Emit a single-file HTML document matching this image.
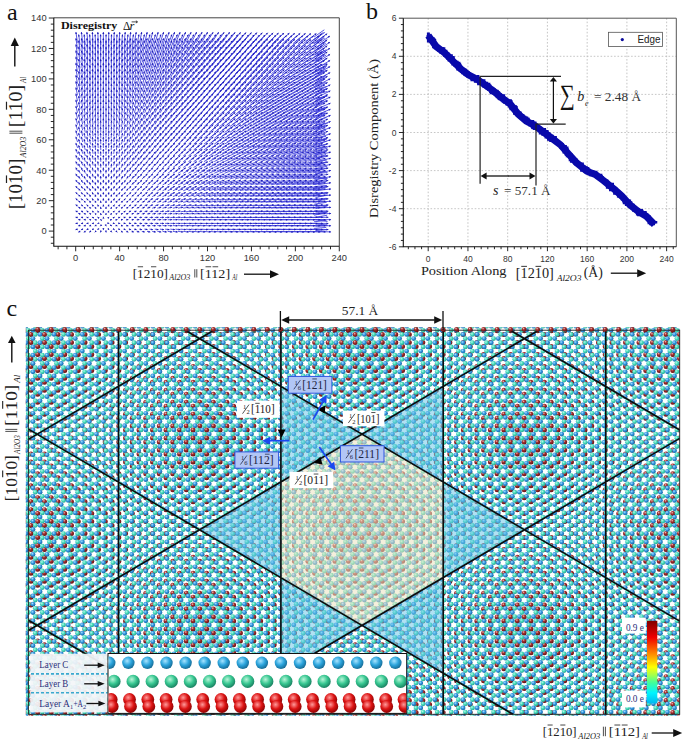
<!DOCTYPE html>
<html><head><meta charset="utf-8"><style>html,body{margin:0;padding:0;background:#fff;}svg{display:block;}</style></head>
<body><svg width="685" height="741" viewBox="0 0 685 741">
<rect width="685" height="741" fill="#fff"/>
<g id="pa">
<path d="M77.89 229.07L75.51 229.73M80.46 231.26L78.27 232.14M77.9 223.34L75.5 223.46M80.49 225.53L78.24 225.87M77.9 217.61L75.5 217.19M80.5 219.81L78.23 219.59M77.87 211.86L75.53 210.94M80.47 214.08L78.26 213.32M77.83 206.1L75.57 204.7M80.43 208.33L78.3 207.07M77.79 200.32L75.61 198.48M80.38 202.55L78.35 200.85M77.75 194.52L75.65 192.28M80.34 196.76L78.39 194.64M77.71 188.7L75.69 186.1M80.3 190.95L78.43 188.45M77.68 182.88L75.72 179.92M80.27 185.13L78.46 182.27M77.65 177.06L75.75 173.74M80.24 179.3L78.49 176.1M77.63 171.23L75.77 167.57M80.22 173.47L78.51 169.93M77.61 165.39L75.79 161.41M80.2 167.64L78.53 163.76M77.6 159.56L75.8 155.24M80.18 161.8L78.55 157.6M77.58 153.72L75.82 149.08M80.17 155.96L78.56 151.44M77.57 147.88L75.83 142.92M80.15 150.13L78.58 145.27M77.56 142.04L75.84 136.76M80.14 144.29L78.59 139.11M77.55 136.2L75.85 130.6M80.13 138.45L78.6 132.95M77.54 130.36L75.86 124.44M80.13 132.61L78.6 126.79M77.53 124.52L75.87 118.28M80.12 126.77L78.61 120.63M77.53 118.68L75.87 112.12M80.11 120.92L78.62 114.48M77.52 112.84L75.88 105.96M80.11 115.08L78.62 108.32M77.52 107L75.88 99.8M80.1 109.24L78.63 102.16M77.51 101.16L75.89 93.64M80.1 103.4L78.63 96M77.51 95.32L75.89 87.48M80.09 97.56L78.64 89.84M77.5 89.48L75.9 81.32M80.09 91.72L78.64 83.68M77.5 83.63L75.9 75.17M80.08 85.88L78.65 77.52M77.49 77.79L75.91 69.01M80.08 80.03L78.65 71.37M77.49 71.95L75.91 62.85M80.08 74.19L78.65 65.21M77.49 66.11L75.91 56.69M80.07 68.35L78.66 59.05M77.48 60.27L75.92 50.53M80.07 62.51L78.66 52.89M77.48 54.42L75.92 44.38M80.07 56.67L78.66 46.73M77.48 48.58L75.92 38.22M80.07 50.82L78.66 40.58M77.48 42.74L75.92 32.06M80.06 44.98L78.67 34.42M83.07 229.04L80.99 229.76M85.63 231.22L83.76 232.18M83.09 223.33L80.97 223.47M85.68 225.51L83.71 225.89M83.08 217.63L80.98 217.17M85.69 219.82L83.7 219.58M83.04 211.9L81.02 210.9M85.65 214.12L83.74 213.28M82.99 206.14L81.07 204.66M85.59 208.38L83.8 207.02M82.94 200.36L81.12 198.44M85.53 202.6L83.86 200.8M82.89 194.55L81.17 192.25M85.48 196.8L83.91 194.6M82.86 188.73L81.2 186.07M85.44 190.98L83.95 188.42M82.83 182.91L81.23 179.89M85.41 185.15L83.98 182.25M82.8 177.08L81.26 173.72M85.38 179.32L84.01 176.08M82.78 171.24L81.28 167.56M85.36 173.49L84.03 169.91M82.77 165.41L81.29 161.39M85.35 167.65L84.04 163.75M82.75 159.57L81.31 155.23M85.33 161.81L84.06 157.59M82.74 153.73L81.32 149.07M85.32 155.97L84.07 151.43M82.73 147.89L81.33 142.91M85.31 150.14L84.08 145.26M82.72 142.05L81.34 136.75M85.3 144.29L84.09 139.11M82.71 136.21L81.35 130.59M85.3 138.45L84.09 132.95M82.7 130.37L81.36 124.43M85.29 132.61L84.1 126.79M82.7 124.53L81.36 118.27M85.28 126.77L84.11 120.63M82.69 118.69L81.37 112.11M85.28 120.93L84.11 114.47M82.69 112.85L81.37 105.95M85.27 115.09L84.12 108.31M82.68 107.01L81.38 99.79M85.27 109.25L84.12 102.15M82.68 101.16L81.38 93.64M85.26 103.4L84.13 96M82.67 95.32L81.39 87.48M85.26 97.56L84.13 89.84M82.67 89.48L81.39 81.32M85.26 91.72L84.13 83.68M82.67 83.64L81.39 75.16M85.26 85.88L84.13 77.52M82.67 77.8L81.39 69M85.25 80.04L84.14 71.36M82.66 71.95L81.4 62.85M85.25 74.19L84.14 65.21M82.66 66.11L81.4 56.69M85.25 68.35L84.14 59.05M82.66 60.27L81.4 50.53M85.25 62.51L84.14 52.89M82.66 54.43L81.4 44.37M85.24 56.67L84.15 46.73M82.65 48.58L81.41 38.22M85.24 50.83L84.15 40.57M82.65 42.74L81.41 32.06M85.24 44.98L84.15 34.42M88.24 229L86.48 229.8M90.79 231.15L89.26 232.25M88.28 223.32L86.44 223.48M90.86 225.47L89.19 225.93M88.27 217.66L86.45 217.14M90.87 219.84L89.18 219.56M88.2 211.95L86.52 210.85M90.81 214.18L89.24 213.22M88.13 206.19L86.59 204.61M90.72 208.44L89.33 206.96M88.08 200.4L86.64 198.4M90.66 202.65L89.39 200.75M88.03 194.59L86.69 192.21M90.61 196.83L89.44 194.57M88 188.76L86.72 186.04M90.57 191.01L89.48 188.39M87.97 182.93L86.75 179.87M90.55 185.18L89.5 182.22M87.95 177.1L86.77 173.7M90.53 179.34L89.52 176.06M87.93 171.26L86.79 167.54M90.51 173.5L89.54 169.9M87.92 165.42L86.8 161.38M90.5 167.66L89.55 163.74M87.91 159.58L86.81 155.22M90.49 161.82L89.56 157.58M87.9 153.74L86.82 149.06M90.48 155.98L89.57 151.42M87.89 147.9L86.83 142.9M90.47 150.14L89.58 145.26M87.88 142.06L86.84 136.74M90.46 144.3L89.59 139.1M87.87 136.22L86.85 130.58M90.46 138.46L89.59 132.94M87.87 130.38L86.85 124.42M90.45 132.62L89.6 126.78M87.86 124.53L86.86 118.27M90.45 126.78L89.6 120.62M87.86 118.69L86.86 112.11M90.44 120.93L89.61 114.47M87.86 112.85L86.86 105.95M90.44 115.09L89.61 108.31M87.85 107.01L86.87 99.79M90.44 109.25L89.61 102.15M87.85 101.17L86.87 93.63M90.44 103.41L89.61 95.99M87.85 95.32L86.87 87.48M90.43 97.57L89.62 89.83M87.84 89.48L86.88 81.32M90.43 91.72L89.62 83.68M87.84 83.64L86.88 75.16M90.43 85.88L89.62 77.52M87.84 77.8L86.88 69M90.43 80.04L89.62 71.36M87.84 71.96L86.88 62.84M90.42 74.2L89.63 65.2M87.83 66.11L86.89 56.69M90.42 68.35L89.63 59.05M87.83 60.27L86.89 50.53M90.42 62.51L89.63 52.89M87.83 54.43L86.89 44.37M90.42 56.67L89.63 46.73M87.83 48.59L86.89 38.21M90.42 50.83L89.63 40.57M87.83 42.74L86.89 32.06M90.42 44.98L89.63 34.42M93.39 228.93L91.99 229.87M95.9 231.07L94.81 232.33M93.47 223.3L91.91 223.5M96.03 225.4L94.68 226M93.44 217.71L91.94 217.09M96.06 219.89L94.65 219.51M93.34 212.03L92.04 210.77M95.93 214.27L94.78 213.13M93.25 206.25L92.13 204.55M95.82 208.51L94.89 206.89M93.19 200.44L92.19 198.36M95.76 202.7L94.95 200.7M93.15 194.62L92.23 192.18M95.72 196.87L94.99 194.53M93.13 188.79L92.25 186.01M95.7 191.03L95.01 188.37M93.11 182.95L92.27 179.85M95.68 185.19L95.03 182.21M93.09 177.11L92.29 173.69M95.67 179.35L95.04 176.05M93.08 171.27L92.3 167.53M95.65 173.51L95.06 169.89M93.07 165.43L92.31 161.37M95.65 167.67L95.06 163.73M93.06 159.59L92.32 155.21M95.64 161.83L95.07 157.57M93.05 153.75L92.33 149.05M95.63 155.99L95.08 151.41M93.05 147.91L92.33 142.89M95.63 150.15L95.08 145.25M93.04 142.06L92.34 136.74M95.62 144.31L95.09 139.09M93.04 136.22L92.34 130.58M95.62 138.46L95.09 132.94M93.03 130.38L92.35 124.42M95.62 132.62L95.09 126.78M93.03 124.54L92.35 118.26M95.62 126.78L95.09 120.62M93.03 118.7L92.35 112.1M95.61 120.94L95.1 114.46M93.02 112.85L92.36 105.95M95.61 115.09L95.1 108.31M93.02 107.01L92.36 99.79M95.61 109.25L95.1 102.15M93.02 101.17L92.36 93.63M95.61 103.41L95.1 95.99M93.02 95.33L92.36 87.47M95.61 97.57L95.1 89.83M93.02 89.48L92.36 81.32M95.6 91.72L95.11 83.68M93.01 83.64L92.37 75.16M95.6 85.88L95.11 77.52M93.01 77.8L92.37 69M95.6 80.04L95.11 71.36M93.01 71.96L92.37 62.84M95.6 74.2L95.11 65.2M93.01 66.11L92.37 56.69M95.6 68.35L95.11 59.05M93.01 60.27L92.37 50.53M95.6 62.51L95.11 52.89M93.01 54.43L92.37 44.37M95.6 56.67L95.11 46.73M93.01 48.59L92.37 38.21M95.6 50.83L95.11 40.57M93.01 42.74L92.37 32.06M95.6 44.98L95.11 34.42M98.48 228.81L97.56 229.99M100.92 230.97L100.45 232.43M98.66 223.24L97.38 223.56M101.09 225.22L100.28 226.18M98.56 217.83L97.48 216.97M101.17 220.05L100.2 219.35M98.41 212.12L97.63 210.68M100.95 214.38L100.42 213.02M98.33 206.31L97.71 204.49M100.88 208.56L100.49 206.84M98.29 200.48L97.75 198.32M100.85 202.73L100.52 200.67M98.27 194.64L97.77 192.16M100.83 196.89L100.54 194.51M98.25 188.8L97.79 186M100.82 191.05L100.55 188.35M98.24 182.96L97.8 179.84M100.81 185.2L100.56 182.2M98.23 177.12L97.81 173.68M100.8 179.36L100.57 176.04M98.22 171.28L97.82 167.52M100.8 173.52L100.57 169.88M98.22 165.44L97.82 161.36M100.8 167.68L100.57 163.72M98.21 159.59L97.83 155.21M100.79 161.83L100.58 157.57M98.21 153.75L97.83 149.05M100.79 155.99L100.58 151.41M98.21 147.91L97.83 142.89M100.79 150.15L100.58 145.25M98.21 142.07L97.83 136.73M100.79 144.31L100.58 139.09M98.2 136.22L97.84 130.58M100.79 138.47L100.58 132.93M98.2 130.38L97.84 124.42M100.79 132.62L100.58 126.78M98.2 124.54L97.84 118.26M100.78 126.78L100.59 120.62M98.2 118.7L97.84 112.1M100.78 120.94L100.59 114.46M98.2 112.86L97.84 105.94M100.78 115.1L100.59 108.3M98.19 107.01L97.85 99.79M100.78 109.25L100.59 102.15M98.19 101.17L97.85 93.63M100.78 103.41L100.59 95.99M98.19 95.33L97.85 87.47M100.78 97.57L100.59 89.83M98.19 89.49L97.85 81.31M100.78 91.73L100.59 83.67M98.19 83.64L97.85 75.16M100.78 85.88L100.59 77.52M98.19 77.8L97.85 69M100.78 80.04L100.59 71.36M98.19 71.96L97.85 62.84M100.78 74.2L100.59 65.2M98.19 66.12L97.85 56.68M100.78 68.36L100.59 59.04M98.19 60.27L97.85 50.53M100.78 62.51L100.59 52.89M98.19 54.43L97.85 44.37M100.78 56.67L100.59 46.73M98.19 48.59L97.85 38.21M100.78 50.83L100.59 40.57M98.19 42.75L97.85 32.05M100.78 44.99L100.59 34.41M103.41 228.71L103.29 230.09M105.87 230.95L106.16 232.45M105.73 225.16L106.3 226.24M103.43 218.02L103.27 216.78M103.4 212.18L103.3 210.62M105.85 214.4L106.18 213M103.38 206.34L103.32 204.46M105.9 208.57L106.13 206.83M103.38 200.49L103.32 198.31M105.92 202.73L106.11 200.67M103.38 194.65L103.32 192.15M105.93 196.89L106.1 194.51M103.38 188.81L103.32 185.99M105.93 191.05L106.1 188.35M103.37 182.97L103.33 179.83M105.94 185.2L106.09 182.2M103.37 177.12L103.33 173.68M105.94 179.36L106.09 176.04M103.37 171.28L103.33 167.52M105.95 173.52L106.08 169.88M103.37 165.44L103.33 161.36M105.95 167.68L106.08 163.72M103.37 159.6L103.33 155.2M105.95 161.84L106.08 157.56M103.37 153.75L103.33 149.05M105.95 155.99L106.08 151.41M103.37 147.91L103.33 142.89M105.95 150.15L106.08 145.25M103.37 142.07L103.33 136.73M105.95 144.31L106.08 139.09M103.37 136.23L103.33 130.57M105.95 138.47L106.08 132.93M103.37 130.38L103.33 124.42M105.95 132.62L106.08 126.78M103.37 124.54L103.33 118.26M105.95 126.78L106.08 120.62M103.37 118.7L103.33 112.1M105.96 120.94L106.07 114.46M103.37 112.86L103.33 105.94M105.96 115.1L106.07 108.3M103.37 107.01L103.33 99.79M105.96 109.25L106.07 102.15M103.37 101.17L103.33 93.63M105.96 103.41L106.07 95.99M103.37 95.33L103.33 87.47M105.96 97.57L106.07 89.83M103.37 89.49L103.33 81.31M105.96 91.73L106.07 83.67M103.37 83.64L103.33 75.16M105.96 85.88L106.07 77.52M103.37 77.8L103.33 69M105.96 80.04L106.07 71.36M103.37 71.96L103.33 62.84M105.96 74.2L106.07 65.2M103.37 66.12L103.33 56.68M105.96 68.36L106.07 59.04M103.37 60.27L103.33 50.53M105.96 62.51L106.07 52.89M103.37 54.43L103.33 44.37M105.96 56.67L106.07 46.73M103.37 48.59L103.33 38.21M105.96 50.83L106.07 40.57M103.37 42.75L103.33 32.05M105.96 44.99L106.07 34.41M108.3 228.78L109.06 230.02M110.87 231.04L111.82 232.36M108.09 223.21L109.27 223.59M110.72 225.37L111.97 226.03M108.21 217.88L109.15 216.92M110.68 219.92L112.01 219.48M108.37 212.14L108.99 210.66M110.84 214.3L111.85 213.1M108.43 206.32L108.93 204.48M110.94 208.52L111.75 206.88M108.47 200.48L108.89 198.32M111 202.71L111.69 200.69M108.48 194.64L108.88 192.16M111.03 196.87L111.66 194.53M108.5 188.8L108.86 186M111.05 191.04L111.64 188.36M108.51 182.96L108.85 179.84M111.07 185.2L111.62 182.2M108.51 177.12L108.85 173.68M111.08 179.36L111.61 176.04M108.52 171.28L108.84 167.52M111.09 173.52L111.6 169.88M108.52 165.44L108.84 161.36M111.1 167.67L111.59 163.73M108.53 159.59L108.83 155.21M111.1 161.83L111.59 157.57M108.53 153.75L108.83 149.05M111.11 155.99L111.58 151.41M108.53 147.91L108.83 142.89M111.11 150.15L111.58 145.25M108.54 142.07L108.82 136.73M111.12 144.31L111.57 139.09M108.54 136.23L108.82 130.57M111.12 138.46L111.57 132.94M108.54 130.38L108.82 124.42M111.12 132.62L111.57 126.78M108.54 124.54L108.82 118.26M111.12 126.78L111.57 120.62M108.54 118.7L108.82 112.1M111.13 120.94L111.56 114.46M108.54 112.86L108.82 105.94M111.13 115.09L111.56 108.31M108.54 107.01L108.82 99.79M111.13 109.25L111.56 102.15M108.54 101.17L108.82 93.63M111.13 103.41L111.56 95.99M108.55 95.33L108.81 87.47M111.13 97.57L111.56 89.83M108.55 89.49L108.81 81.31M111.13 91.72L111.56 83.68M108.55 83.64L108.81 75.16M111.13 85.88L111.56 77.52M108.55 77.8L108.81 69M111.14 80.04L111.55 71.36M108.55 71.96L108.81 62.84M111.14 74.2L111.55 65.2M108.55 66.12L108.81 56.68M111.14 68.35L111.55 59.05M108.55 60.27L108.81 50.53M111.14 62.51L111.55 52.89M108.55 54.43L108.81 44.37M111.14 56.67L111.55 46.73M108.55 48.59L108.81 38.21M111.14 50.83L111.55 40.57M108.55 42.75L108.81 32.05M111.14 44.99L111.55 34.41M113.36 228.9L114.66 229.9M115.96 231.14L117.39 232.26M113.26 223.29L114.76 223.51M115.87 225.46L117.48 225.94M113.31 217.74L114.71 217.06M115.86 219.85L117.49 219.55M113.42 212.05L114.6 210.75M115.94 214.2L117.41 213.2M113.51 206.27L114.51 204.53M116.03 208.46L117.32 206.94M113.56 200.45L114.46 198.35M116.09 202.66L117.26 200.74M113.6 194.62L114.42 192.18M116.14 196.84L117.21 194.56M113.62 188.79L114.4 186.01M116.18 191.02L117.17 188.38M113.64 182.95L114.38 179.85M116.2 185.18L117.15 182.22M113.66 177.11L114.36 173.69M116.22 179.34L117.13 176.06M113.67 171.27L114.35 167.53M116.23 173.51L117.12 169.89M113.68 165.43L114.34 161.37M116.25 167.67L117.1 163.73M113.68 159.59L114.34 155.21M116.26 161.83L117.09 157.57M113.69 153.75L114.33 149.05M116.27 155.99L117.08 151.41M113.69 147.91L114.33 142.89M116.27 150.14L117.08 145.26M113.7 142.06L114.32 136.74M116.28 144.3L117.07 139.1M113.7 136.22L114.32 130.58M116.28 138.46L117.07 132.94M113.71 130.38L114.31 124.42M116.29 132.62L117.06 126.78M113.71 124.54L114.31 118.26M116.29 126.78L117.06 120.62M113.71 118.7L114.31 112.1M116.29 120.93L117.06 114.47M113.71 112.85L114.31 105.95M116.3 115.09L117.05 108.31M113.72 107.01L114.3 99.79M116.3 109.25L117.05 102.15M113.72 101.17L114.3 93.63M116.3 103.41L117.05 95.99M113.72 95.33L114.3 87.47M116.31 97.57L117.04 89.83M113.72 89.48L114.3 81.32M116.31 91.72L117.04 83.68M113.72 83.64L114.3 75.16M116.31 85.88L117.04 77.52M113.72 77.8L114.3 69M116.31 80.04L117.04 71.36M113.73 71.96L114.29 62.84M116.31 74.2L117.04 65.2M113.73 66.11L114.29 56.69M116.31 68.35L117.04 59.05M113.73 60.27L114.29 50.53M116.32 62.51L117.03 52.89M113.73 54.43L114.29 44.37M116.32 56.67L117.03 46.73M113.73 48.59L114.29 38.21M116.32 50.83L117.03 40.57M113.73 42.75L114.29 32.05M116.32 44.98L117.03 34.42M118.5 228.98L120.18 229.82M121.11 231.2L122.9 232.2M118.45 223.32L120.23 223.48M121.06 225.5L122.95 225.9M118.47 217.67L120.21 217.13M121.05 219.83L122.96 219.57M118.54 211.97L120.14 210.83M121.09 214.13L122.92 213.27M118.62 206.21L120.06 204.59M121.16 208.39L122.85 207.01M118.67 200.41L120.01 198.39M121.22 202.61L122.79 200.79M118.72 194.59L119.96 192.21M121.27 196.81L122.74 194.59M118.75 188.77L119.93 186.03M121.31 190.99L122.7 188.41M118.78 182.94L119.9 179.86M121.34 185.16L122.67 182.24M118.8 177.1L119.88 173.7M121.36 179.33L122.65 176.07M118.81 171.26L119.87 167.54M121.38 173.49L122.63 169.91M118.83 165.42L119.85 161.38M121.4 167.66L122.61 163.74M118.84 159.58L119.84 155.22M121.41 161.82L122.6 157.58M118.85 153.74L119.83 149.06M121.42 155.98L122.59 151.42M118.85 147.9L119.83 142.9M121.43 150.14L122.58 145.26M118.86 142.06L119.82 136.74M121.44 144.3L122.57 139.1M118.87 136.22L119.81 130.58M121.45 138.46L122.56 132.94M118.87 130.38L119.81 124.42M121.45 132.61L122.56 126.79M118.88 124.54L119.8 118.26M121.46 126.77L122.55 120.63M118.88 118.69L119.8 112.11M121.46 120.93L122.55 114.47M118.88 112.85L119.8 105.95M121.47 115.09L122.54 108.31M118.89 107.01L119.79 99.79M121.47 109.25L122.54 102.15M118.89 101.17L119.79 93.63M121.47 103.41L122.54 95.99M118.89 95.33L119.79 87.47M121.48 97.56L122.53 89.84M118.9 89.48L119.78 81.32M121.48 91.72L122.53 83.68M118.9 83.64L119.78 75.16M121.48 85.88L122.53 77.52M118.9 77.8L119.78 69M121.49 80.04L122.52 71.36M118.9 71.96L119.78 62.84M121.49 74.19L122.52 65.21M118.9 66.11L119.78 56.69M121.49 68.35L122.52 59.05M118.9 60.27L119.78 50.53M121.49 62.51L122.52 52.89M118.91 54.43L119.77 44.37M121.49 56.67L122.52 46.73M118.91 48.59L119.77 38.21M121.5 50.83L122.51 40.57M118.91 42.74L119.77 32.06M121.5 44.98L122.51 34.42M123.67 229.03L125.67 229.77M126.28 231.25L128.39 232.15M123.64 223.33L125.7 223.47M126.24 225.52L128.43 225.88M123.65 217.63L125.69 217.17M126.24 219.81L128.43 219.59M123.7 211.91L125.64 210.89M126.27 214.09L128.4 213.31M123.75 206.15L125.59 204.65M126.31 208.34L128.36 207.06M123.81 200.37L125.53 198.43M126.36 202.56L128.31 200.84M123.85 194.56L125.49 192.24M126.41 196.77L128.26 194.63M123.89 188.74L125.45 186.06M126.45 190.96L128.22 188.44M123.92 182.91L125.42 179.89M126.48 185.13L128.19 182.27M123.94 177.08L125.4 173.72M126.51 179.31L128.16 176.09M123.96 171.25L125.38 167.55M126.53 173.48L128.14 169.92M123.98 165.41L125.36 161.39M126.55 167.64L128.12 163.76M123.99 159.57L125.35 155.23M126.56 161.8L128.11 157.6M124 153.73L125.34 149.07M126.58 155.97L128.09 151.43M124.01 147.89L125.33 142.91M126.59 150.13L128.08 145.27M124.02 142.05L125.32 136.75M126.6 144.29L128.07 139.11M124.03 136.21L125.31 130.59M126.61 138.45L128.06 132.95M124.04 130.37L125.3 124.43M126.62 132.61L128.05 126.79M124.04 124.53L125.3 118.27M126.62 126.77L128.05 120.63M124.05 118.69L125.29 112.11M126.63 120.93L128.04 114.47M124.05 112.85L125.29 105.95M126.63 115.08L128.04 108.32M124.06 107.01L125.28 99.79M126.64 109.24L128.03 102.16M124.06 101.16L125.28 93.64M126.64 103.4L128.03 96M124.06 95.32L125.28 87.48M126.65 97.56L128.02 89.84M124.07 89.48L125.27 81.32M126.65 91.72L128.02 83.68M124.07 83.64L125.27 75.16M126.65 85.88L128.02 77.52M124.07 77.8L125.27 69M126.66 80.03L128.01 71.37M124.08 71.95L125.26 62.85M126.66 74.19L128.01 65.21M124.08 66.11L125.26 56.69M126.66 68.35L128.01 59.05M124.08 60.27L125.26 50.53M126.67 62.51L128 52.89M124.08 54.43L125.26 44.37M126.67 56.67L128 46.73M124.08 48.59L125.26 38.21M126.67 50.82L128 40.58M124.09 42.74L125.25 32.06M126.67 44.98L128 34.42M128.85 229.07L131.15 229.73M131.45 231.28L133.88 232.12M128.83 223.34L131.17 223.46M131.43 225.54L133.9 225.86M128.84 217.61L131.16 217.19M131.43 219.8L133.9 219.6M128.87 211.87L131.13 210.93M131.44 214.06L133.89 213.34M128.91 206.11L131.09 204.69M131.48 208.3L133.85 207.1M128.96 200.32L131.04 198.48M131.52 202.52L133.81 200.88M129 194.52L131 192.28M131.56 196.73L133.77 194.67M129.03 188.71L130.97 186.09M131.59 190.92L133.74 188.48M129.06 182.89L130.94 179.91M131.63 185.11L133.7 182.29M129.09 177.06L130.91 173.74M131.65 179.28L133.68 176.12M129.11 171.23L130.89 167.57M131.68 173.46L133.65 169.94M129.13 165.4L130.87 161.4M131.7 167.62L133.63 163.78M129.15 159.56L130.85 155.24M131.72 161.79L133.61 157.61M129.16 153.72L130.84 149.08M131.73 155.95L133.6 151.45M129.17 147.89L130.83 142.91M131.75 150.12L133.58 145.28M129.18 142.05L130.82 136.75M131.76 144.28L133.57 139.12M129.19 136.21L130.81 130.59M131.77 138.44L133.56 132.96M129.2 130.37L130.8 124.43M131.78 132.6L133.55 126.8M129.21 124.53L130.79 118.27M131.79 126.76L133.54 120.64M129.21 118.68L130.79 112.12M131.79 120.92L133.54 114.48M129.22 112.84L130.78 105.96M131.8 115.08L133.53 108.32M129.22 107L130.78 99.8M131.81 109.24L133.52 102.16M129.23 101.16L130.77 93.64M131.81 103.4L133.52 96M129.23 95.32L130.77 87.48M131.82 97.56L133.51 89.84M129.24 89.48L130.76 81.32M131.82 91.71L133.51 83.69M129.24 83.64L130.76 75.16M131.83 85.87L133.5 77.53M129.25 77.79L130.75 69.01M131.83 80.03L133.5 71.37M129.25 71.95L130.75 62.85M131.83 74.19L133.5 65.21M129.25 66.11L130.75 56.69M131.84 68.35L133.49 59.05M129.25 60.27L130.75 50.53M131.84 62.51L133.49 52.89M129.26 54.43L130.74 44.37M131.84 56.66L133.49 46.74M129.26 48.58L130.74 38.22M131.84 50.82L133.49 40.58M129.26 42.74L130.74 32.06M131.85 44.98L133.48 34.42M134.03 229.09L136.63 229.71M136.63 231.31L139.36 232.09M134.02 223.34L136.64 223.46M136.61 225.55L139.38 225.85M134.02 217.59L136.64 217.21M136.61 219.79L139.38 219.61M134.04 211.84L136.62 210.96M136.62 214.04L139.37 213.36M134.08 206.07L136.58 204.73M136.65 208.27L139.34 207.13M134.11 200.29L136.55 198.51M136.68 202.49L139.31 200.91M134.15 194.49L136.51 192.31M136.72 196.7L139.27 194.7M134.18 188.68L136.48 186.12M136.75 190.89L139.24 188.51M134.21 182.86L136.45 179.94M136.78 185.08L139.21 182.32M134.24 177.04L136.42 173.76M136.81 179.26L139.18 176.14M134.26 171.21L136.4 167.59M136.83 173.44L139.16 169.96M134.28 165.38L136.38 161.42M136.85 167.61L139.14 163.79M134.3 159.55L136.36 155.25M136.87 161.78L139.12 157.62M134.32 153.71L136.34 149.09M136.89 155.94L139.1 151.46M134.33 147.87L136.33 142.93M136.9 150.11L139.09 145.29M134.34 142.04L136.32 136.76M136.92 144.27L139.07 139.13M134.35 136.2L136.31 130.6M136.93 138.43L139.06 132.97M134.36 130.36L136.3 124.44M136.94 132.59L139.05 126.81M134.37 124.52L136.29 118.28M136.95 126.75L139.04 120.65M134.38 118.68L136.28 112.12M136.96 120.91L139.03 114.49M134.38 112.84L136.28 105.96M136.96 115.07L139.03 108.33M134.39 107L136.27 99.8M136.97 109.23L139.02 102.17M134.4 101.16L136.26 93.64M136.98 103.39L139.01 96.01M134.4 95.31L136.26 87.49M136.98 97.55L139.01 89.85M134.41 89.47L136.25 81.33M136.99 91.71L139 83.69M134.41 83.63L136.25 75.17M136.99 85.87L139 77.53M134.42 77.79L136.24 69.01M137 80.03L138.99 71.37M134.42 71.95L136.24 62.85M137 74.19L138.99 65.21M134.42 66.11L136.24 56.69M137.01 68.34L138.98 59.06M134.43 60.26L136.23 50.54M137.01 62.5L138.98 52.9M134.43 54.42L136.23 44.38M137.01 56.66L138.98 46.74M134.43 48.58L136.23 38.22M137.02 50.82L138.97 40.58M134.43 42.74L136.23 32.06M137.02 44.98L138.97 34.42M139.21 229.11L142.11 229.69M141.81 231.33L144.84 232.07M139.2 223.34L142.12 223.46M141.8 225.56L144.85 225.84M139.21 217.58L142.11 217.22M141.8 219.79L144.85 219.61M139.22 211.82L142.1 210.98M141.81 214.02L144.84 213.38M139.25 206.04L142.07 204.76M141.83 208.25L144.82 207.15M139.28 200.26L142.04 198.54M141.85 202.46L144.8 200.94M139.31 194.46L142.01 192.34M141.88 196.67L144.77 194.73M139.34 188.65L141.98 186.15M141.91 190.87L144.74 188.53M139.37 182.84L141.95 179.96M141.94 185.05L144.71 182.35M139.4 177.02L141.92 173.78M141.96 179.24L144.69 176.16M139.42 171.19L141.9 167.61M141.99 173.41L144.66 169.99M139.44 165.36L141.88 161.44M142.01 167.59L144.64 163.81M139.46 159.53L141.86 155.27M142.03 161.76L144.62 157.64M139.47 153.7L141.85 149.1M142.05 155.93L144.6 151.47M139.49 147.86L141.83 142.94M142.06 150.09L144.59 145.31M139.5 142.03L141.82 136.77M142.08 144.26L144.57 139.14M139.51 136.19L141.81 130.61M142.09 138.42L144.56 132.98M139.52 130.35L141.8 124.45M142.1 132.58L144.55 126.82M139.53 124.51L141.79 118.29M142.11 126.74L144.54 120.66M139.54 118.67L141.78 112.13M142.12 120.91L144.53 114.49M139.55 112.83L141.77 105.97M142.13 115.07L144.52 108.33M139.56 106.99L141.76 99.81M142.14 109.23L144.51 102.17M139.56 101.15L141.76 93.65M142.14 103.39L144.51 96.01M139.57 95.31L141.75 87.49M142.15 97.55L144.5 89.85M139.57 89.47L141.75 81.33M142.16 91.71L144.49 83.69M139.58 83.63L141.74 75.17M142.16 85.86L144.49 77.54M139.58 77.79L141.74 69.01M142.17 80.02L144.48 71.38M139.59 71.94L141.73 62.86M142.17 74.18L144.48 65.22M139.59 66.1L141.73 56.7M142.18 68.34L144.47 59.06M139.6 60.26L141.72 50.54M142.18 62.5L144.47 52.9M139.6 54.42L141.72 44.38M142.18 56.66L144.47 46.74M139.6 48.58L141.72 38.22M142.19 50.82L144.46 40.58M139.61 42.74L141.71 32.06M142.19 44.97L144.46 34.43M144.39 229.12L147.59 229.68M146.99 231.34L150.32 232.06M144.39 223.35L147.59 223.45M146.98 225.56L150.33 225.84M144.39 217.58L147.59 217.22M146.98 219.79L150.33 219.61M144.4 211.8L147.58 211M146.99 214.01L150.32 213.39M144.42 206.02L147.56 204.78M147 208.23L150.31 207.17M144.45 200.23L147.53 198.57M147.02 202.44L150.29 200.96M144.47 194.43L147.51 192.37M147.05 196.64L150.26 194.76M144.5 188.63L147.48 186.17M147.07 190.84L150.24 188.56M144.53 182.81L147.45 179.99M147.1 185.03L150.21 182.37M144.55 176.99L147.43 173.81M147.12 179.21L150.19 176.19M144.58 171.17L147.4 167.63M147.15 173.39L150.16 170.01M144.6 165.34L147.38 161.46M147.17 167.57L150.14 163.83M144.61 159.51L147.37 155.29M147.19 161.74L150.12 157.66M144.63 153.68L147.35 149.12M147.2 155.91L150.11 151.49M144.65 147.85L147.33 142.95M147.22 150.08L150.09 145.32M144.66 142.01L147.32 136.79M147.24 144.24L150.07 139.16M144.67 136.18L147.31 130.62M147.25 138.41L150.06 132.99M144.68 130.34L147.3 124.46M147.26 132.57L150.05 126.83M144.69 124.5L147.29 118.3M147.27 126.74L150.04 120.66M144.7 118.66L147.28 112.14M147.28 120.9L150.03 114.5M144.71 112.82L147.27 105.98M147.29 115.06L150.02 108.34M144.72 106.98L147.26 99.82M147.3 109.22L150.01 102.18M144.73 101.14L147.25 93.66M147.31 103.38L150 96.02M144.73 95.3L147.25 87.5M147.31 97.54L150 89.86M144.74 89.46L147.24 81.34M147.32 91.7L149.99 83.7M144.75 83.62L147.23 75.18M147.33 85.86L149.98 77.54M144.75 77.78L147.23 69.02M147.33 80.02L149.98 71.38M144.76 71.94L147.22 62.86M147.34 74.18L149.97 65.22M144.76 66.1L147.22 56.7M147.34 68.34L149.97 59.06M144.77 60.26L147.21 50.54M147.35 62.5L149.96 52.9M144.77 54.42L147.21 44.38M147.35 56.65L149.96 46.75M144.77 48.57L147.21 38.23M147.36 50.81L149.95 40.59M144.78 42.73L147.2 32.07M147.36 44.97L149.95 34.43M149.58 229.13L153.06 229.67M152.17 231.35L155.8 232.05M149.57 223.35L153.07 223.45M152.16 225.57L155.81 225.83M149.57 217.57L153.07 217.23M152.16 219.78L155.81 219.62M149.58 211.79L153.06 211.01M152.17 214L155.8 213.4M149.6 206L153.04 204.8M152.18 208.21L155.79 207.19M149.62 200.21L153.02 198.59M152.2 202.42L155.77 200.98M149.64 194.41L153 192.39M152.22 196.62L155.75 194.78M149.67 188.6L152.97 186.2M152.24 190.82L155.73 188.58M149.69 182.79L152.95 180.01M152.26 185.01L155.71 182.39M149.71 176.97L152.93 173.83M152.28 179.19L155.69 176.21M149.73 171.15L152.91 167.65M152.31 173.37L155.66 170.03M149.75 165.33L152.89 161.47M152.33 167.55L155.64 163.85M149.77 159.5L152.87 155.3M152.35 161.72L155.62 157.68M149.79 153.67L152.85 149.13M152.36 155.9L155.61 151.5M149.81 147.84L152.83 142.96M152.38 150.06L155.59 145.34M149.82 142L152.82 136.8M152.39 144.23L155.58 139.17M149.83 136.17L152.81 130.63M152.41 138.4L155.56 133M149.84 130.33L152.8 124.47M152.42 132.56L155.55 126.84M149.86 124.49L152.78 118.31M152.43 126.73L155.54 120.67M149.87 118.65L152.77 112.15M152.44 120.89L155.53 114.51M149.88 112.82L152.76 105.98M152.45 115.05L155.52 108.35M149.88 106.98L152.76 99.82M152.46 109.21L155.51 102.19M149.89 101.14L152.75 93.66M152.47 103.37L155.5 96.03M149.9 95.3L152.74 87.5M152.48 97.53L155.49 89.87M149.91 89.46L152.73 81.34M152.48 91.69L155.49 83.71M149.91 83.62L152.73 75.18M152.49 85.85L155.48 77.55M149.92 77.78L152.72 69.02M152.5 80.01L155.47 71.39M149.92 71.94L152.72 62.86M152.5 74.17L155.47 65.23M149.93 66.1L152.71 56.7M152.51 68.33L155.46 59.07M149.93 60.25L152.71 50.55M152.51 62.49L155.46 52.91M149.94 54.41L152.7 44.39M152.52 56.65L155.45 46.75M149.94 48.57L152.7 38.23M152.52 50.81L155.45 40.59M149.94 42.73L152.7 32.07M152.53 44.97L155.44 34.43M154.76 229.14L158.54 229.66M157.35 231.36L161.28 232.04M154.75 223.35L158.55 223.45M157.34 225.57L161.29 225.83M154.75 217.56L158.55 217.24M157.34 219.78L161.29 219.62M154.76 211.78L158.54 211.02M157.35 213.99L161.28 213.41M154.77 205.98L158.53 204.82M157.36 208.2L161.27 207.2M154.79 200.19L158.51 198.61M157.37 202.4L161.26 201M154.81 194.39L158.49 192.41M157.39 196.6L161.24 194.8M154.83 188.58L158.47 186.22M157.41 190.8L161.22 188.6M154.85 182.77L158.45 180.03M157.43 184.99L161.2 182.41M154.87 176.95L158.43 173.85M157.45 179.17L161.18 176.23M154.89 171.13L158.41 167.67M157.47 173.35L161.16 170.05M154.91 165.31L158.39 161.49M157.49 167.53L161.14 163.87M154.93 159.48L158.37 155.32M157.51 161.71L161.12 157.69M154.95 153.65L158.35 149.15M157.52 155.88L161.11 151.52M154.96 147.82L158.34 142.98M157.54 150.05L161.09 145.35M154.98 141.99L158.32 136.81M157.55 144.22L161.08 139.18M154.99 136.15L158.31 130.65M157.57 138.38L161.06 133.02M155.01 130.32L158.29 124.48M157.58 132.55L161.05 126.85M155.02 124.48L158.28 118.32M157.59 126.71L161.04 120.69M155.03 118.65L158.27 112.15M157.6 120.88L161.03 114.52M155.04 112.81L158.26 105.99M157.61 115.04L161.02 108.36M155.05 106.97L158.25 99.83M157.62 109.2L161.01 102.2M155.05 101.13L158.25 93.67M157.63 103.36L161 96.04M155.06 95.29L158.24 87.51M157.64 97.53L160.99 89.87M155.07 89.45L158.23 81.35M157.65 91.69L160.98 83.71M155.08 83.61L158.22 75.19M157.65 85.85L160.98 77.55M155.08 77.77L158.22 69.03M157.66 80.01L160.97 71.39M155.09 71.93L158.21 62.87M157.67 74.17L160.96 65.23M155.09 66.09L158.21 56.71M157.67 68.33L160.96 59.07M155.1 60.25L158.2 50.55M157.68 62.49L160.95 52.91M155.1 54.41L158.2 44.39M157.68 56.65L160.95 46.75M155.11 48.57L158.19 38.23M157.69 50.8L160.94 40.6M155.11 42.73L158.19 32.07M157.69 44.96L160.94 34.44M159.93 229.14L164.03 229.66M162.52 231.37L166.77 232.03M159.93 223.35L164.03 223.45M162.52 225.57L166.77 225.83M159.93 217.56L164.03 217.24M162.52 219.78L166.77 219.62M159.94 211.77L164.02 211.03M162.52 213.98L166.77 213.42M159.95 205.97L164.01 204.83M162.53 208.19L166.76 207.21M159.96 200.17L164 198.63M162.54 202.39L166.75 201.01M159.98 194.37L163.98 192.43M162.56 196.59L166.73 194.81M160 188.56L163.96 186.24M162.58 190.78L166.71 188.62M160.02 182.75L163.94 180.05M162.59 184.97L166.7 182.43M160.04 176.93L163.92 173.87M162.61 179.15L166.68 176.25M160.06 171.11L163.9 167.69M162.63 173.34L166.66 170.06M160.07 165.29L163.89 161.51M162.65 167.51L166.64 163.89M160.09 159.46L163.87 155.34M162.67 161.69L166.62 157.71M160.11 153.64L163.85 149.16M162.68 155.86L166.61 151.54M160.12 147.81L163.84 142.99M162.7 150.03L166.59 145.37M160.14 141.97L163.82 136.83M162.71 144.2L166.58 139.2M160.15 136.14L163.81 130.66M162.73 138.37L166.56 133.03M160.16 130.31L163.8 124.49M162.74 132.54L166.55 126.86M160.18 124.47L163.78 118.33M162.75 126.7L166.54 120.7M160.19 118.64L163.77 112.16M162.76 120.87L166.53 114.53M160.2 112.8L163.76 106M162.77 115.03L166.52 108.37M160.21 106.96L163.75 99.84M162.78 109.19L166.51 102.21M160.22 101.12L163.74 93.68M162.79 103.36L166.5 96.04M160.22 95.28L163.74 87.52M162.8 97.52L166.49 89.88M160.23 89.44L163.73 81.36M162.81 91.68L166.48 83.72M160.24 83.61L163.72 75.19M162.82 85.84L166.47 77.56M160.24 77.77L163.72 69.03M162.82 80L166.47 71.4M160.25 71.93L163.71 62.87M162.83 74.16L166.46 65.24M160.26 66.09L163.7 56.71M162.84 68.32L166.45 59.08M160.26 60.24L163.7 50.56M162.84 62.48L166.45 52.92M160.27 54.4L163.69 44.4M162.85 56.64L166.44 46.76M160.27 48.56L163.69 38.24M162.85 50.8L166.44 40.6M160.28 42.72L163.68 32.08M162.86 44.96L166.43 34.44M165.11 229.15L169.51 229.65M167.7 231.37L172.25 232.03M165.11 223.35L169.51 223.45M167.7 225.58L172.25 225.82M165.11 217.56L169.51 217.24M167.7 219.78L172.25 219.62M165.11 211.76L169.51 211.04M167.7 213.98L172.25 213.42M165.12 205.96L169.5 204.84M167.71 208.18L172.24 207.22M165.13 200.16L169.49 198.64M167.72 202.38L172.23 201.02M165.15 194.35L169.47 192.45M167.73 196.57L172.22 194.83M165.17 188.54L169.45 186.26M167.74 190.76L172.21 188.64M165.18 182.73L169.44 180.07M167.76 184.95L172.19 182.45M165.2 176.91L169.42 173.89M167.78 179.14L172.17 176.26M165.22 171.1L169.4 167.7M167.79 173.32L172.16 170.08M165.24 165.27L169.38 161.53M167.81 167.5L172.14 163.9M165.25 159.45L169.37 155.35M167.83 161.67L172.12 157.73M165.27 153.62L169.35 149.18M167.84 155.85L172.11 151.55M165.28 147.79L169.34 143.01M167.86 150.02L172.09 145.38M165.3 141.96L169.32 136.84M167.87 144.19L172.08 139.21M165.31 136.13L169.31 130.67M167.89 138.36L172.06 133.04M165.32 130.3L169.3 124.5M167.9 132.53L172.05 126.87M165.34 124.46L169.28 118.34M167.91 126.69L172.04 120.71M165.35 118.63L169.27 112.17M167.92 120.86L172.03 114.54M165.36 112.79L169.26 106.01M167.93 115.02L172.02 108.38M165.37 106.95L169.25 99.85M167.94 109.18L172.01 102.22M165.38 101.11L169.24 93.69M167.95 103.35L172 96.05M165.38 95.28L169.24 87.52M167.96 97.51L171.99 89.89M165.39 89.44L169.23 81.36M167.97 91.67L171.98 83.73M165.4 83.6L169.22 75.2M167.98 85.83L171.97 77.57M165.41 77.76L169.21 69.04M167.98 79.99L171.97 71.41M165.41 71.92L169.21 62.88M167.99 74.15L171.96 65.25M165.42 66.08L169.2 56.72M168 68.31L171.95 59.09M165.43 60.24L169.19 50.56M168 62.48L171.95 52.92M165.43 54.4L169.19 44.4M168.01 56.63L171.94 46.77M165.44 48.56L169.18 38.24M168.02 50.79L171.93 40.61M165.44 42.72L169.18 32.08M168.02 44.95L171.93 34.45M170.29 229.15L174.99 229.65M172.87 231.38L177.74 232.02M170.28 223.35L175 223.45M172.87 225.58L177.74 225.82M170.28 217.55L175 217.25M172.87 219.78L177.74 219.62M170.29 211.75L174.99 211.05M172.87 213.97L177.74 213.43M170.3 205.95L174.98 204.85M172.88 208.17L177.73 207.23M170.31 200.15L174.97 198.65M172.89 202.37L177.72 201.03M170.32 194.34L174.96 192.46M172.9 196.56L177.71 194.84M170.33 188.53L174.95 186.27M172.91 190.75L177.7 188.65M170.35 182.71L174.93 180.09M172.93 184.94L177.68 182.46M170.37 176.9L174.91 173.9M172.94 179.12L177.67 176.28M170.38 171.08L174.9 167.72M172.96 173.3L177.65 170.1M170.4 165.26L174.88 161.54M172.97 167.48L177.64 163.92M170.41 159.43L174.87 155.37M172.99 161.66L177.62 157.74M170.43 153.61L174.85 149.19M173 155.83L177.61 151.57M170.44 147.78L174.84 143.02M173.02 150.01L177.59 145.39M170.46 141.95L174.82 136.85M173.03 144.18L177.58 139.22M170.47 136.12L174.81 130.68M173.05 138.35L177.56 133.05M170.48 130.28L174.8 124.52M173.06 132.51L177.55 126.89M170.5 124.45L174.78 118.35M173.07 126.68L177.54 120.72M170.51 118.61L174.77 112.19M173.08 120.85L177.53 114.55M170.52 112.78L174.76 106.02M173.09 115.01L177.52 108.39M170.53 106.94L174.75 99.86M173.1 109.18L177.51 102.22M170.54 101.11L174.74 93.69M173.11 103.34L177.5 96.06M170.54 95.27L174.74 87.53M173.12 97.5L177.49 89.9M170.55 89.43L174.73 81.37M173.13 91.66L177.48 83.74M170.56 83.59L174.72 75.21M173.14 85.83L177.47 77.57M170.57 77.75L174.71 69.05M173.14 79.99L177.47 71.41M170.57 71.91L174.71 62.89M173.15 74.15L177.46 65.25M170.58 66.07L174.7 56.73M173.16 68.31L177.45 59.09M170.59 60.23L174.69 50.57M173.17 62.47L177.44 52.93M170.59 54.39L174.69 44.41M173.17 56.63L177.44 46.77M170.6 48.55L174.68 38.25M173.18 50.79L177.43 40.61M170.6 42.71L174.68 32.09M173.18 44.95L177.43 34.45M175.46 229.16L180.48 229.64M178.05 231.38L183.22 232.02M175.46 223.35L180.48 223.45M178.04 225.58L183.23 225.82M175.46 217.55L180.48 217.25M178.04 219.77L183.23 219.63M175.46 211.75L180.48 211.05M178.05 213.97L183.22 213.43M175.47 205.94L180.47 204.86M178.05 208.16L183.22 207.24M175.48 200.13L180.46 198.67M178.06 202.36L183.21 201.04M175.49 194.33L180.45 192.47M178.07 196.55L183.2 194.85M175.5 188.51L180.44 186.29M178.08 190.74L183.19 188.66M175.51 182.7L180.43 180.1M178.09 184.92L183.18 182.48M175.53 176.88L180.41 173.92M178.11 179.11L183.16 176.29M175.54 171.06L180.4 167.74M178.12 173.29L183.15 170.11M175.56 165.24L180.38 161.56M178.13 167.47L183.14 163.93M175.57 159.42L180.37 155.38M178.15 161.64L183.12 157.76M175.59 153.59L180.35 149.21M178.16 155.82L183.11 151.58M175.6 147.76L180.34 143.04M178.18 149.99L183.09 145.41M175.62 141.93L180.32 136.87M178.19 144.16L183.08 139.24M175.63 136.1L180.31 130.7M178.2 138.33L183.07 133.07M175.64 130.27L180.3 124.53M178.22 132.5L183.05 126.9M175.65 124.44L180.29 118.36M178.23 126.67L183.04 120.73M175.66 118.6L180.28 112.2M178.24 120.84L183.03 114.56M175.68 112.77L180.26 106.03M178.25 115L183.02 108.4M175.69 106.93L180.25 99.87M178.26 109.17L183.01 102.23M175.69 101.1L180.25 93.7M178.27 103.33L183 96.07M175.7 95.26L180.24 87.54M178.28 97.49L182.99 89.91M175.71 89.42L180.23 81.38M178.29 91.66L182.98 83.74M175.72 83.58L180.22 75.22M178.3 85.82L182.97 77.58M175.73 77.75L180.21 69.05M178.3 79.98L182.97 71.42M175.73 71.91L180.21 62.89M178.31 74.14L182.96 65.26M175.74 66.07L180.2 56.73M178.32 68.3L182.95 59.1M175.75 60.23L180.19 50.57M178.32 62.46L182.95 52.94M175.75 54.39L180.19 44.41M178.33 56.62L182.94 46.78M175.76 48.55L180.18 38.25M178.34 50.78L182.93 40.62M175.76 42.71L180.18 32.09M178.34 44.94L182.93 34.46M180.63 229.16L185.97 229.64M183.22 231.39L188.71 232.01M180.63 223.35L185.97 223.45M183.21 225.58L188.72 225.82M180.63 217.55L185.97 217.25M183.21 219.77L188.72 219.63M180.63 211.74L185.97 211.06M183.22 213.97L188.71 213.43M180.64 205.93L185.96 204.87M183.22 208.16L188.71 207.24M180.65 200.13L185.95 198.67M183.23 202.35L188.7 201.05M180.66 194.31L185.94 192.49M183.24 196.54L188.69 194.86M180.67 188.5L185.93 186.3M183.25 190.72L188.68 188.68M180.68 182.69L185.92 180.11M183.26 184.91L188.67 182.49M180.69 176.87L185.91 173.93M183.27 179.09L188.66 176.31M180.71 171.05L185.89 167.75M183.28 173.27L188.65 170.13M180.72 165.23L185.88 161.57M183.3 167.45L188.63 163.95M180.73 159.4L185.87 155.4M183.31 161.63L188.62 157.77M180.75 153.58L185.85 149.22M183.32 155.8L188.61 151.6M180.76 147.75L185.84 143.05M183.34 149.98L188.59 145.42M180.78 141.92L185.82 136.88M183.35 144.15L188.58 139.25M180.79 136.09L185.81 130.71M183.36 138.32L188.57 133.08M180.8 130.26L185.8 124.54M183.37 132.49L188.56 126.91M180.81 124.43L185.79 118.37M183.39 126.66L188.54 120.74M180.82 118.59L185.78 112.21M183.4 120.82L188.53 114.58M180.83 112.76L185.77 106.04M183.41 114.99L188.52 108.41M180.84 106.92L185.76 99.88M183.42 109.16L188.51 102.24M180.85 101.09L185.75 93.71M183.43 103.32L188.5 96.08M180.86 95.25L185.74 87.55M183.44 97.48L188.49 89.92M180.87 89.41L185.73 81.39M183.45 91.65L188.48 83.75M180.88 83.58L185.72 75.22M183.45 85.81L188.48 77.59M180.89 77.74L185.71 69.06M183.46 79.97L188.47 71.43M180.89 71.9L185.71 62.9M183.47 74.13L188.46 65.27M180.9 66.06L185.7 56.74M183.48 68.3L188.45 59.1M180.91 60.22L185.69 50.58M183.48 62.46L188.45 52.94M180.91 54.38L185.69 44.42M183.49 56.62L188.44 46.78M180.92 48.54L185.68 38.26M183.5 50.78L188.43 40.62M180.92 42.7L185.68 32.1M183.5 44.94L188.43 34.46M185.8 229.16L191.46 229.64M188.39 231.39L194.2 232.01M185.8 223.36L191.46 223.44M188.38 225.58L194.21 225.82M185.8 217.55L191.46 217.25M188.38 219.77L194.21 219.63M185.8 211.74L191.46 211.06M188.39 213.96L194.2 213.44M185.81 205.93L191.45 204.87M188.39 208.15L194.2 207.25M185.81 200.12L191.45 198.68M188.4 202.34L194.19 201.06M185.82 194.3L191.44 192.5M188.4 196.53L194.19 194.87M185.83 188.49L191.43 186.31M188.41 190.71L194.18 188.69M185.84 182.67L191.42 180.13M188.42 184.9L194.17 182.5M185.86 176.86L191.4 173.94M188.43 179.08L194.16 176.32M185.87 171.04L191.39 167.76M188.45 173.26L194.14 170.14M185.88 165.21L191.38 161.59M188.46 167.44L194.13 163.96M185.9 159.39L191.36 155.41M188.47 161.62L194.12 157.78M185.91 153.56L191.35 149.24M188.48 155.79L194.11 151.61M185.92 147.74L191.34 143.06M188.5 149.96L194.09 145.44M185.93 141.91L191.33 136.89M188.51 144.14L194.08 139.26M185.95 136.08L191.31 130.72M188.52 138.31L194.07 133.09M185.96 130.25L191.3 124.55M188.53 132.48L194.06 126.92M185.97 124.42L191.29 118.38M188.54 126.65L194.05 120.75M185.98 118.58L191.28 112.22M188.55 120.81L194.04 114.59M185.99 112.75L191.27 106.05M188.56 114.98L194.03 108.42M186 106.91L191.26 99.89M188.57 109.15L194.02 102.25M186.01 101.08L191.25 93.72M188.58 103.31L194.01 96.09M186.02 95.24L191.24 87.56M188.59 97.47L194 89.93M186.03 89.4L191.23 81.4M188.6 91.64L193.99 83.76M186.04 83.57L191.22 75.23M188.61 85.8L193.98 77.6M186.04 77.73L191.22 69.07M188.62 79.96L193.97 71.44M186.05 71.89L191.21 62.91M188.63 74.13L193.96 65.27M186.06 66.05L191.2 56.75M188.63 68.29L193.96 59.11M186.06 60.21L191.2 50.59M188.64 62.45L193.95 52.95M186.07 54.38L191.19 44.42M188.65 56.61L193.94 46.79M186.08 48.54L191.18 38.26M188.65 50.77L193.94 40.63M186.08 42.7L191.18 32.1M188.66 44.93L193.93 34.47M190.97 229.17L196.95 229.63M193.55 231.4L199.7 232M190.97 223.36L196.95 223.44M193.55 225.58L199.7 225.82M190.97 217.54L196.95 217.26M193.55 219.77L199.7 219.63M190.97 211.73L196.95 211.07M193.55 213.96L199.7 213.44M190.98 205.92L196.94 204.88M193.56 208.15L199.69 207.25M190.98 200.11L196.94 198.69M193.56 202.33L199.69 201.07M190.99 194.29L196.93 192.51M193.57 196.52L199.68 194.88M191 188.48L196.92 186.32M193.58 190.7L199.67 188.7M191.01 182.66L196.91 180.14M193.59 184.89L199.66 182.51M191.02 176.84L196.9 173.96M193.6 179.07L199.65 176.33M191.03 171.02L196.89 167.78M193.61 173.25L199.64 170.15M191.04 165.2L196.88 161.6M193.62 167.43L199.63 163.97M191.05 159.38L196.87 155.42M193.63 161.6L199.62 157.8M191.07 153.55L196.85 149.25M193.64 155.78L199.61 151.62M191.08 147.72L196.84 143.08M193.65 149.95L199.6 145.45M191.09 141.9L196.83 136.9M193.67 144.12L199.58 139.28M191.1 136.07L196.82 130.73M193.68 138.3L199.57 133.1M191.11 130.24L196.81 124.56M193.69 132.47L199.56 126.93M191.13 124.4L196.79 118.4M193.7 126.63L199.55 120.77M191.14 118.57L196.78 112.23M193.71 120.8L199.54 114.6M191.15 112.74L196.77 106.06M193.72 114.97L199.53 108.43M191.16 106.9L196.76 99.9M193.73 109.14L199.52 102.26M191.17 101.07L196.75 93.73M193.74 103.3L199.51 96.1M191.17 95.23L196.75 87.57M193.75 97.47L199.5 89.93M191.18 89.4L196.74 81.4M193.76 91.63L199.49 83.77M191.19 83.56L196.73 75.24M193.77 85.79L199.48 77.61M191.2 77.72L196.72 69.08M193.77 79.96L199.48 71.44M191.21 71.88L196.71 62.92M193.78 74.12L199.47 65.28M191.21 66.05L196.71 56.75M193.79 68.28L199.46 59.12M191.22 60.21L196.7 50.59M193.8 62.44L199.45 52.96M191.23 54.37L196.69 44.43M193.8 56.6L199.45 46.8M191.23 48.53L196.69 38.27M193.81 50.76L199.44 40.64M191.24 42.69L196.68 32.11M193.82 44.93L199.43 34.47M196.14 229.17L202.44 229.63M198.72 231.4L205.19 232M196.14 223.36L202.44 223.44M198.72 225.59L205.19 225.81M196.14 217.54L202.44 217.26M198.72 219.77L205.19 219.63M196.14 211.73L202.44 211.07M198.72 213.96L205.19 213.44M196.14 205.92L202.44 204.88M198.72 208.14L205.19 207.26M196.15 200.1L202.43 198.7M198.73 202.33L205.18 201.07M196.15 194.29L202.43 192.51M198.73 196.51L205.18 194.89M196.16 188.47L202.42 186.33M198.74 190.7L205.17 188.7M196.17 182.65L202.41 180.15M198.75 184.88L205.16 182.52M196.18 176.83L202.4 173.97M198.76 179.06L205.15 176.34M196.19 171.01L202.39 167.79M198.77 173.24L205.14 170.16M196.2 165.19L202.38 161.61M198.78 167.42L205.13 163.98M196.21 159.36L202.37 155.44M198.79 161.59L205.12 157.81M196.23 153.54L202.35 149.26M198.8 155.77L205.11 151.63M196.24 147.71L202.34 143.09M198.81 149.94L205.1 145.46M196.25 141.88L202.33 136.92M198.82 144.11L205.09 139.29M196.26 136.06L202.32 130.74M198.83 138.28L205.08 133.12M196.27 130.22L202.31 124.58M198.84 132.45L205.07 126.95M196.28 124.39L202.3 118.41M198.85 126.62L205.06 120.78M196.29 118.56L202.29 112.24M198.86 120.79L205.05 114.61M196.3 112.73L202.28 106.07M198.87 114.96L205.04 108.44M196.31 106.89L202.27 99.91M198.88 109.13L205.03 102.27M196.32 101.06L202.26 93.74M198.89 103.29L205.02 96.11M196.33 95.22L202.25 87.58M198.9 97.46L205.01 89.94M196.34 89.39L202.24 81.41M198.91 91.62L205 83.78M196.35 83.55L202.23 75.25M198.92 85.78L204.99 77.62M196.35 77.71L202.23 69.09M198.93 79.95L204.98 71.45M196.36 71.88L202.22 62.92M198.94 74.11L204.97 65.29M196.37 66.04L202.21 56.76M198.94 68.27L204.97 59.13M196.38 60.2L202.2 50.6M198.95 62.44L204.96 52.96M196.38 54.36L202.2 44.44M198.96 56.6L204.95 46.8M196.39 48.52L202.19 38.28M198.96 50.76L204.95 40.64M196.4 42.68L202.18 32.12M198.97 44.92L204.94 34.48M201.3 229.17L207.94 229.63M203.88 231.4L210.69 232M201.3 223.36L207.94 223.44M203.88 225.59L210.69 225.81M201.3 217.54L207.94 217.26M203.88 219.77L210.69 219.63M201.3 211.73L207.94 211.07M203.88 213.96L210.69 213.44M201.31 205.91L207.93 204.89M203.89 208.14L210.68 207.26M201.31 200.1L207.93 198.7M203.89 202.32L210.68 201.08M201.32 194.28L207.92 192.52M203.9 196.51L210.67 194.89M201.32 188.46L207.92 186.34M203.9 190.69L210.67 188.71M201.33 182.64L207.91 180.16M203.91 184.87L210.66 182.53M201.34 176.82L207.9 173.98M203.92 179.05L210.65 176.35M201.35 171L207.89 167.8M203.93 173.23L210.64 170.17M201.36 165.18L207.88 161.62M203.94 167.4L210.63 164M201.37 159.35L207.87 155.45M203.95 161.58L210.62 157.82M201.38 153.53L207.86 149.27M203.96 155.76L210.61 151.64M201.39 147.7L207.85 143.1M203.97 149.93L210.6 145.47M201.4 141.87L207.84 136.93M203.98 144.1L210.59 139.3M201.42 136.04L207.82 130.76M203.99 138.27L210.58 133.13M201.43 130.21L207.81 124.59M204 132.44L210.57 126.96M201.44 124.38L207.8 118.42M204.01 126.61L210.56 120.79M201.45 118.55L207.79 112.25M204.02 120.78L210.55 114.62M201.46 112.72L207.78 106.08M204.03 114.95L210.54 108.45M201.47 106.88L207.77 99.92M204.04 109.12L210.53 102.28M201.47 101.05L207.77 93.75M204.05 103.28L210.52 96.12M201.48 95.21L207.76 87.59M204.06 97.45L210.51 89.95M201.49 89.38L207.75 81.42M204.07 91.61L210.5 83.79M201.5 83.54L207.74 75.26M204.07 85.78L210.5 77.62M201.51 77.71L207.73 69.09M204.08 79.94L210.49 71.46M201.52 71.87L207.72 62.93M204.09 74.1L210.48 65.3M201.52 66.03L207.72 56.77M204.1 68.27L210.47 59.13M201.53 60.19L207.71 50.61M204.1 62.43L210.47 52.97M201.54 54.36L207.7 44.44M204.11 56.59L210.46 46.81M201.54 48.52L207.7 38.28M204.12 50.75L210.45 40.65M201.55 42.68L207.69 32.12M204.12 44.91L210.45 34.49M206.47 229.17L213.43 229.63M209.05 231.4L216.18 232M206.46 223.36L213.44 223.44M209.05 225.59L216.18 225.81M206.46 217.54L213.44 217.26M209.05 219.77L216.18 219.63M206.47 211.72L213.43 211.08M209.05 213.95L216.18 213.45M206.47 205.91L213.43 204.89M209.05 208.14L216.18 207.26M206.47 200.09L213.43 198.71M209.05 202.32L216.18 201.08M206.48 194.27L213.42 192.53M209.06 196.5L216.17 194.9M206.49 188.45L213.41 186.35M209.06 190.68L216.17 188.72M206.49 182.63L213.41 180.17M209.07 184.86L216.16 182.54M206.5 176.81L213.4 173.99M209.08 179.04L216.15 176.36M206.51 170.99L213.39 167.81M209.09 173.22L216.14 170.18M206.52 165.17L213.38 161.63M209.1 167.39L216.13 164.01M206.53 159.34L213.37 155.46M209.1 161.57L216.13 157.83M206.54 153.52L213.36 149.28M209.11 155.75L216.12 151.65M206.55 147.69L213.35 143.11M209.12 149.92L216.11 145.48M206.56 141.86L213.34 136.94M209.13 144.09L216.1 139.31M206.57 136.03L213.33 130.77M209.14 138.26L216.09 133.14M206.58 130.2L213.32 124.6M209.15 132.43L216.08 126.97M206.59 124.37L213.31 118.43M209.16 126.6L216.07 120.8M206.6 118.54L213.3 112.26M209.17 120.77L216.06 114.63M206.61 112.71L213.29 106.09M209.18 114.94L216.05 108.46M206.62 106.87L213.28 99.93M209.19 109.11L216.04 102.29M206.63 101.04L213.27 93.76M209.2 103.27L216.03 96.13M206.64 95.21L213.26 87.59M209.21 97.44L216.02 89.96M206.64 89.37L213.26 81.43M209.22 91.6L216.01 83.8M206.65 83.53L213.25 75.27M209.23 85.77L216 77.63M206.66 77.7L213.24 69.1M209.23 79.93L216 71.47M206.67 71.86L213.23 62.94M209.24 74.09L215.99 65.31M206.68 66.02L213.22 56.78M209.25 68.26L215.98 59.14M206.68 60.19L213.22 50.61M209.26 62.42L215.97 52.98M206.69 54.35L213.21 44.45M209.26 56.58L215.97 46.82M206.7 48.51L213.2 38.29M209.27 50.74L215.96 40.66M206.7 42.67L213.2 32.13M209.28 44.91L215.95 34.49M211.63 229.18L218.93 229.62M214.21 231.41L221.68 231.99M211.63 223.36L218.93 223.44M214.21 225.59L221.68 225.81M211.63 217.54L218.93 217.26M214.21 219.77L221.68 219.63M211.63 211.72L218.93 211.08M214.21 213.95L221.68 213.45M211.63 205.9L218.93 204.9M214.21 208.13L221.68 207.27M211.64 200.09L218.92 198.71M214.21 202.31L221.68 201.09M211.64 194.27L218.92 192.53M214.22 196.49L221.67 194.91M211.65 188.45L218.91 186.35M214.22 190.67L221.67 188.73M211.65 182.63L218.91 180.17M214.23 184.85L221.66 182.55M211.66 176.8L218.9 174M214.24 179.03L221.65 176.37M211.67 170.98L218.89 167.82M214.24 173.21L221.65 170.19M211.68 165.16L218.88 161.64M214.25 167.39L221.64 164.01M211.69 159.33L218.87 155.47M214.26 161.56L221.63 157.84M211.7 153.51L218.86 149.29M214.27 155.74L221.62 151.66M211.7 147.68L218.86 143.12M214.28 149.91L221.61 145.49M211.71 141.85L218.85 136.95M214.29 144.08L221.6 139.32M211.72 136.02L218.84 130.78M214.3 138.25L221.59 133.15M211.73 130.19L218.83 124.61M214.31 132.42L221.58 126.98M211.74 124.36L218.82 118.44M214.32 126.59L221.57 120.81M211.75 118.53L218.81 112.27M214.33 120.76L221.56 114.64M211.76 112.7L218.8 106.1M214.33 114.93L221.56 108.47M211.77 106.86L218.79 99.94M214.34 109.1L221.55 102.3M211.78 101.03L218.78 93.77M214.35 103.26L221.54 96.14M211.79 95.2L218.77 87.6M214.36 97.43L221.53 89.97M211.8 89.36L218.76 81.44M214.37 91.59L221.52 83.81M211.8 83.53L218.76 75.27M214.38 85.76L221.51 77.64M211.81 77.69L218.75 69.11M214.38 79.92L221.51 71.48M211.82 71.85L218.74 62.95M214.39 74.09L221.5 65.31M211.83 66.02L218.73 56.78M214.4 68.25L221.49 59.15M211.83 60.18L218.73 50.62M214.41 62.41L221.48 52.99M211.84 54.34L218.72 44.46M214.41 56.58L221.48 46.82M211.85 48.5L218.71 38.3M214.42 50.74L221.47 40.66M211.85 42.66L218.71 32.14M214.43 44.9L221.46 34.5M216.79 229.18L224.43 229.62M219.37 231.41L227.18 231.99M216.79 223.36L224.43 223.44M219.37 225.59L227.18 225.81M216.79 217.54L224.43 217.26M219.37 219.77L227.18 219.63M216.79 211.72L224.43 211.08M219.37 213.95L227.18 213.45M216.79 205.9L224.43 204.9M219.37 208.13L227.18 207.27M216.79 200.08L224.43 198.72M219.37 202.31L227.18 201.09M216.8 194.26L224.42 192.54M219.38 196.49L227.17 194.91M216.8 188.44L224.42 186.36M219.38 190.67L227.17 188.73M216.81 182.62L224.41 180.18M219.39 184.85L227.16 182.55M216.82 176.8L224.4 174M219.39 179.02L227.16 176.38M216.83 170.97L224.39 167.83M219.4 173.2L227.15 170.2M216.83 165.15L224.39 161.65M219.41 167.38L227.14 164.02M216.84 159.32L224.38 155.48M219.42 161.55L227.13 157.85M216.85 153.5L224.37 149.3M219.42 155.73L227.13 151.67M216.86 147.67L224.36 143.13M219.43 149.9L227.12 145.5M216.87 141.84L224.35 136.96M219.44 144.07L227.11 139.33M216.88 136.01L224.34 130.79M219.45 138.24L227.1 133.16M216.89 130.18L224.33 124.62M219.46 132.41L227.09 126.99M216.9 124.35L224.32 118.45M219.47 126.58L227.08 120.82M216.9 118.52L224.32 112.28M219.48 120.75L227.07 114.65M216.91 112.69L224.31 106.11M219.49 114.92L227.06 108.48M216.92 106.86L224.3 99.94M219.49 109.09L227.06 102.31M216.93 101.02L224.29 93.78M219.5 103.25L227.05 96.15M216.94 95.19L224.28 87.61M219.51 97.42L227.04 89.98M216.95 89.35L224.27 81.45M219.52 91.58L227.03 83.82M216.95 83.52L224.27 75.28M219.53 85.75L227.02 77.65M216.96 77.68L224.26 69.12M219.53 79.91L227.02 71.49M216.97 71.85L224.25 62.95M219.54 74.08L227.01 65.32M216.98 66.01L224.24 56.79M219.55 68.24L227 59.16M216.98 60.17L224.24 50.63M219.56 62.41L226.99 52.99M216.99 54.33L224.23 44.47M219.56 56.57L226.99 46.83M217 48.5L224.22 38.3M219.57 50.73L226.98 40.67M217 42.66L224.22 32.14M219.58 44.89L226.97 34.51M221.95 229.18L229.93 229.62M224.53 231.41L232.68 231.99M221.95 223.36L229.93 223.44M224.52 225.59L232.69 225.81M221.95 217.54L229.93 217.26M224.52 219.77L232.69 219.63M221.95 211.72L229.93 211.08M224.53 213.95L232.68 213.45M221.95 205.9L229.93 204.9M224.53 208.13L232.68 207.27M221.95 200.08L229.93 198.72M224.53 202.31L232.68 201.09M221.96 194.26L229.92 192.54M224.53 196.49L232.68 194.91M221.96 188.43L229.92 186.37M224.54 190.66L232.67 188.74M221.97 182.61L229.91 180.19M224.54 184.84L232.67 182.56M221.97 176.79L229.91 174.01M224.55 179.02L232.66 176.38M221.98 170.96L229.9 167.84M224.55 173.19L232.66 170.21M221.99 165.14L229.89 161.66M224.56 167.37L232.65 164.03M222 159.31L229.88 155.49M224.57 161.54L232.64 157.86M222 153.49L229.88 149.31M224.58 155.72L232.63 151.68M222.01 147.66L229.87 143.14M224.58 149.89L232.63 145.51M222.02 141.83L229.86 136.97M224.59 144.06L232.62 139.34M222.03 136L229.85 130.8M224.6 138.23L232.61 133.17M222.04 130.17L229.84 124.63M224.61 132.4L232.6 127M222.05 124.34L229.83 118.46M224.62 126.57L232.59 120.83M222.06 118.51L229.82 112.29M224.63 120.74L232.58 114.66M222.06 112.68L229.82 106.12M224.64 114.91L232.57 108.49M222.07 106.85L229.81 99.95M224.64 109.08L232.57 102.32M222.08 101.01L229.8 93.79M224.65 103.24L232.56 96.16M222.09 95.18L229.79 87.62M224.66 97.41L232.55 89.99M222.1 89.34L229.78 81.46M224.67 91.58L232.54 83.82M222.1 83.51L229.78 75.29M224.68 85.74L232.53 77.66M222.11 77.67L229.77 69.13M224.68 79.91L232.53 71.49M222.12 71.84L229.76 62.96M224.69 74.07L232.52 65.33M222.13 66L229.75 56.8M224.7 68.23L232.51 59.17M222.13 60.16L229.75 50.64M224.7 62.4L232.51 53M222.14 54.33L229.74 44.47M224.71 56.56L232.5 46.84M222.15 48.49L229.73 38.31M224.72 50.72L232.49 40.68M222.15 42.65L229.73 32.15M224.72 44.89L232.49 34.51M227.1 229.18L235.44 229.62M229.68 231.41L238.19 231.99M227.1 223.36L235.44 223.44M229.68 225.59L238.19 225.81M227.1 217.54L235.44 217.26M229.68 219.77L238.19 219.63M227.1 211.72L235.44 211.08M229.68 213.95L238.19 213.45M227.11 205.89L235.43 204.91M229.68 208.13L238.19 207.27M227.11 200.07L235.43 198.73M229.69 202.3L238.18 201.1M227.11 194.25L235.43 192.55M229.69 196.48L238.18 194.92M227.12 188.43L235.42 186.37M229.69 190.66L238.18 188.74M227.12 182.61L235.42 180.19M229.7 184.83L238.17 182.57M227.13 176.78L235.41 174.02M229.7 179.01L238.17 176.39M227.13 170.96L235.41 167.84M229.71 173.19L238.16 170.21M227.14 165.13L235.4 161.67M229.71 167.36L238.16 164.04M227.15 159.31L235.39 155.49M229.72 161.54L238.15 157.86M227.16 153.48L235.38 149.32M229.73 155.71L238.14 151.69M227.16 147.65L235.38 143.15M229.74 149.88L238.13 145.52M227.17 141.82L235.37 136.98M229.74 144.05L238.13 139.35M227.18 135.99L235.36 130.81M229.75 138.22L238.12 133.18M227.19 130.16L235.35 124.64M229.76 132.39L238.11 127.01M227.2 124.33L235.34 118.47M229.77 126.56L238.1 120.84M227.2 118.5L235.34 112.3M229.78 120.73L238.09 114.67M227.21 112.67L235.33 106.13M229.78 114.9L238.09 108.5M227.22 106.84L235.32 99.96M229.79 109.07L238.08 102.33M227.23 101L235.31 93.8M229.8 103.24L238.07 96.16M227.24 95.17L235.3 87.63M229.81 97.4L238.06 90M227.24 89.34L235.3 81.46M229.82 91.57L238.05 83.83M227.25 83.5L235.29 75.3M229.82 85.73L238.05 77.67M227.26 77.67L235.28 69.13M229.83 79.9L238.04 71.5M227.27 71.83L235.27 62.97M229.84 74.06L238.03 65.34M227.27 65.99L235.27 56.81M229.84 68.23L238.03 59.17M227.28 60.16L235.26 50.64M229.85 62.39L238.02 53.01M227.29 54.32L235.25 44.48M229.86 56.55L238.01 46.85M227.29 48.48L235.25 38.32M229.87 50.72L238 40.68M227.35 42.58L235.19 32.22M229.92 44.81L237.95 34.59M232.26 229.18L240.94 229.62M234.84 231.41L243.69 231.99M232.26 223.36L240.94 223.44M234.83 225.59L243.7 225.81M232.26 217.54L240.94 217.26M234.83 219.77L243.7 219.63M232.26 211.71L240.94 211.09M234.84 213.95L243.69 213.45M232.26 205.89L240.94 204.91M234.84 208.12L243.69 207.28M232.26 200.07L240.94 198.73M234.84 202.3L243.69 201.1M232.27 194.25L240.93 192.55M234.84 196.48L243.69 194.92M232.27 188.42L240.93 186.38M234.85 190.65L243.68 188.75M232.28 182.6L240.92 180.2M234.85 184.83L243.68 182.57M232.28 176.77L240.92 174.03M234.86 179L243.67 176.4M232.29 170.95L240.91 167.85M234.86 173.18L243.67 170.22M232.29 165.12L240.91 161.68M234.87 167.35L243.66 164.05M232.3 159.3L240.9 155.5M234.87 161.53L243.66 157.87M232.31 153.47L240.89 149.33M234.88 155.7L243.65 151.7M232.31 147.64L240.89 143.16M234.89 149.87L243.64 145.53M232.32 141.81L240.88 136.99M234.89 144.04L243.64 139.36M232.33 135.98L240.87 130.82M234.9 138.22L243.63 133.18M232.34 130.15L240.86 124.65M234.91 132.39L243.62 127.01M232.35 124.32L240.85 118.48M234.92 126.55L243.61 120.85M232.35 118.49L240.85 112.31M234.92 120.72L243.61 114.68M232.36 112.66L240.84 106.14M234.93 114.89L243.6 108.51M232.37 106.83L240.83 99.97M234.94 109.06L243.59 102.34M232.38 100.99L240.82 93.81M234.95 103.23L243.58 96.17M232.38 95.16L240.82 87.64M234.95 97.39L243.58 90.01M232.39 89.33L240.81 81.47M234.96 91.56L243.57 83.84M232.4 83.49L240.8 75.31M234.97 85.72L243.56 77.68M232.41 77.66L240.79 69.14M234.98 79.89L243.55 71.51M232.41 71.82L240.79 62.98M234.98 74.05L243.55 65.35M232.42 65.99L240.78 56.81M234.99 68.22L243.54 59.18M232.43 60.15L240.77 50.65M235 62.38L243.53 53.02M232.43 54.31L240.77 44.49M235 56.55L243.53 46.85M232.48 48.43L240.72 38.37M235.06 50.65L243.47 40.75M232.56 42.49L240.64 32.31M235.14 44.72L243.39 34.68M237.41 229.18L246.45 229.62M239.99 231.41L249.2 231.99M237.41 223.36L246.45 223.44M239.99 225.59L249.2 225.81M237.41 217.54L246.45 217.26M239.99 219.77L249.2 219.63M237.41 211.71L246.45 211.09M239.99 213.94L249.2 213.46M237.41 205.89L246.45 204.91M239.99 208.12L249.2 207.28M237.42 200.07L246.44 198.73M239.99 202.3L249.2 201.1M237.42 194.24L246.44 192.56M239.99 196.47L249.2 194.93M237.42 188.42L246.44 186.38M240 190.65L249.19 188.75M237.43 182.59L246.43 180.21M240 184.82L249.19 182.58M237.43 176.77L246.43 174.03M240.01 179L249.18 176.4M237.44 170.94L246.42 167.86M240.01 173.17L249.18 170.23M237.44 165.12L246.42 161.68M240.02 167.35L249.17 164.05M237.45 159.29L246.41 155.51M240.02 161.52L249.17 157.88M237.46 153.46L246.4 149.34M240.03 155.69L249.16 151.71M237.46 147.63L246.4 143.17M240.04 149.86L249.15 145.54M237.47 141.81L246.39 136.99M240.04 144.04L249.15 139.36M237.48 135.98L246.38 130.82M240.05 138.21L249.14 133.19M237.49 130.15L246.37 124.65M240.06 132.38L249.13 127.02M237.49 124.32L246.37 118.48M240.06 126.55L249.13 120.85M237.5 118.48L246.36 112.32M240.07 120.72L249.12 114.68M237.51 112.65L246.35 106.15M240.08 114.88L249.11 108.52M237.52 106.82L246.34 99.98M240.09 109.05L249.1 102.35M237.52 100.99L246.34 93.81M240.09 103.22L249.1 96.18M237.53 95.15L246.33 87.65M240.1 97.38L249.09 90.02M237.54 89.32L246.32 81.48M240.11 91.55L249.08 83.85M237.55 83.48L246.31 75.32M240.11 85.72L249.08 77.68M237.55 77.65L246.31 69.15M240.12 79.88L249.07 71.52M237.56 71.81L246.3 62.99M240.13 74.05L249.06 65.35M237.57 65.98L246.29 56.82M240.14 68.21L249.05 59.19M237.57 60.14L246.29 50.66M240.14 62.37L249.05 53.03M237.62 54.26L246.24 44.54M240.2 56.49L248.99 46.91M237.7 48.33L246.16 38.47M240.28 50.56L248.91 40.84M237.78 42.4L246.08 32.4M240.36 44.63L248.83 34.77M242.56 229.18L251.96 229.62M245.14 231.42L254.71 231.98M242.56 223.36L251.96 223.44M245.14 225.59L254.71 225.81M242.56 217.54L251.96 217.26M245.14 219.77L254.71 219.63M242.56 211.71L251.96 211.09M245.14 213.94L254.71 213.46M242.57 205.89L251.95 204.91M245.14 208.12L254.71 207.28M242.57 200.06L251.95 198.74M245.14 202.29L254.71 201.11M242.57 194.24L251.95 192.56M245.14 196.47L254.71 194.93M242.57 188.41L251.95 186.39M245.15 190.64L254.7 188.76M242.58 182.59L251.94 180.21M245.15 184.82L254.7 182.58M242.58 176.76L251.94 174.04M245.16 178.99L254.69 176.41M242.59 170.94L251.93 167.86M245.16 173.17L254.69 170.23M242.59 165.11L251.93 161.69M245.17 167.34L254.68 164.06M242.6 159.28L251.92 155.52M245.17 161.51L254.68 157.89M242.61 153.46L251.91 149.34M245.18 155.69L254.67 151.71M242.61 147.63L251.91 143.17M245.18 149.86L254.67 145.54M242.62 141.8L251.9 137M245.19 144.03L254.66 139.37M242.63 135.97L251.89 130.83M245.2 138.2L254.65 133.2M242.63 130.14L251.89 124.66M245.2 132.37L254.65 127.03M242.64 124.31L251.88 118.49M245.21 126.54L254.64 120.86M242.65 118.48L251.87 112.32M245.22 120.71L254.63 114.69M242.65 112.64L251.87 106.16M245.22 114.88L254.63 108.52M242.66 106.81L251.86 99.99M245.23 109.04L254.62 102.36M242.67 100.98L251.85 93.82M245.24 103.21L254.61 96.19M242.68 95.14L251.84 87.66M245.24 97.38L254.61 90.02M242.68 89.31L251.84 81.49M245.25 91.54L254.6 83.86M242.69 83.48L251.83 75.32M245.26 85.71L254.59 77.69M242.7 77.64L251.82 69.16M245.27 79.87L254.58 71.53M242.7 71.81L251.82 62.99M245.27 74.04L254.58 65.36M242.71 65.97L251.81 56.83M245.28 68.2L254.57 59.2M242.76 60.09L251.76 50.71M245.34 62.31L254.51 53.09M242.84 54.17L251.68 44.63M245.43 56.39L254.42 47.01M242.92 48.24L251.6 38.56M245.51 50.47L254.34 40.93M243 42.31L251.52 32.49M245.59 44.54L254.26 34.86M247.71 229.18L257.47 229.62M250.29 231.42L260.22 231.98M247.71 223.36L257.47 223.44M250.29 225.59L260.22 225.81M247.71 217.53L257.47 217.27M250.29 219.77L260.22 219.63M247.71 211.71L257.47 211.09M250.29 213.94L260.22 213.46M247.72 205.89L257.46 204.91M250.29 208.12L260.22 207.28M247.72 200.06L257.46 198.74M250.29 202.29L260.22 201.11M247.72 194.24L257.46 192.56M250.29 196.47L260.22 194.93M247.72 188.41L257.46 186.39M250.3 190.64L260.21 188.76M247.73 182.58L257.45 180.22M250.3 184.82L260.21 182.58M247.73 176.76L257.45 174.04M250.3 178.99L260.21 176.41M247.74 170.93L257.44 167.87M250.31 173.16L260.2 170.24M247.74 165.1L257.44 161.7M250.31 167.33L260.2 164.07M247.75 159.28L257.43 155.52M250.32 161.51L260.19 157.89M247.75 153.45L257.43 149.35M250.32 155.68L260.19 151.72M247.76 147.62L257.42 143.18M250.33 149.85L260.18 145.55M247.76 141.79L257.42 137.01M250.34 144.02L260.17 139.38M247.77 135.96L257.41 130.84M250.34 138.19L260.17 133.21M247.78 130.13L257.4 124.67M250.35 132.36L260.16 127.04M247.78 124.3L257.4 118.5M250.35 126.53L260.16 120.87M247.79 118.47L257.39 112.33M250.36 120.7L260.15 114.7M247.8 112.64L257.38 106.16M250.37 114.87L260.14 108.53M247.81 106.8L257.37 100M250.37 109.03L260.14 102.37M247.81 100.97L257.37 93.83M250.38 103.2L260.13 96.2M247.82 95.14L257.36 87.66M250.39 97.37L260.12 90.03M247.83 89.3L257.35 81.5M250.39 91.54L260.12 83.86M247.83 83.47L257.35 75.33M250.4 85.7L260.11 77.7M247.84 77.63L257.34 69.17M250.41 79.87L260.1 71.53M247.85 71.8L257.33 63M250.41 74.03L260.1 65.37M247.91 65.91L257.27 56.89M250.5 68.13L260.01 59.27M247.99 59.99L257.19 50.81M250.58 62.21L259.93 53.19M248.07 54.07L257.11 44.73M250.66 56.3L259.85 47.1M248.15 48.15L257.03 38.65M250.74 50.38L259.77 41.02M248.23 42.22L256.95 32.58M250.82 44.45L259.69 34.95M252.86 229.18L262.98 229.62M255.44 231.42L265.73 231.98M252.86 223.36L262.98 223.44M255.43 225.59L265.74 225.81M252.86 217.53L262.98 217.27M255.43 219.77L265.74 219.63M252.86 211.71L262.98 211.09M255.44 213.94L265.73 213.46M252.86 205.88L262.98 204.92M255.44 208.12L265.73 207.28M252.87 200.06L262.97 198.74M255.44 202.29L265.73 201.11M252.87 194.23L262.97 192.57M255.44 196.46L265.73 194.94M252.87 188.41L262.97 186.39M255.44 190.64L265.73 188.76M252.87 182.58L262.97 180.22M255.45 184.81L265.72 182.59M252.88 176.75L262.96 174.05M255.45 178.98L265.72 176.42M252.88 170.93L262.96 167.87M255.45 173.16L265.72 170.24M252.89 165.1L262.95 161.7M255.46 167.33L265.71 164.07M252.89 159.27L262.95 155.53M255.46 161.5L265.71 157.9M252.9 153.44L262.94 149.36M255.47 155.67L265.7 151.73M252.9 147.61L262.94 143.19M255.47 149.84L265.7 145.56M252.91 141.78L262.93 137.02M255.48 144.01L265.69 139.39M252.92 135.95L262.92 130.85M255.49 138.18L265.68 133.22M252.92 130.12L262.92 124.68M255.49 132.35L265.68 127.05M252.93 124.29L262.91 118.51M255.5 126.52L265.67 120.88M252.94 118.46L262.9 112.34M255.5 120.69L265.67 114.71M252.94 112.63L262.9 106.17M255.51 114.86L265.66 108.54M252.95 106.8L262.89 100M255.52 109.03L265.65 102.37M252.96 100.96L262.88 93.84M255.52 103.19L265.65 96.21M252.96 95.13L262.88 87.67M255.53 97.36L265.64 90.04M252.97 89.29L262.87 81.51M255.54 91.53L265.63 83.87M252.97 83.46L262.87 75.34M255.54 85.69L265.63 77.71M252.98 77.63L262.86 69.17M255.57 79.84L265.6 71.56M253.07 71.72L262.77 63.08M255.66 73.94L265.51 65.46M253.15 65.81L262.69 56.99M255.74 68.03L265.43 59.37M253.23 59.9L262.61 50.9M255.82 62.12L265.35 53.28M253.31 53.98L262.53 44.82M255.9 56.2L265.27 47.2M253.39 48.06L262.45 38.74M255.98 50.29L265.19 41.11M253.47 42.13L262.37 32.67M256.06 44.36L265.11 35.04M258.01 229.19L268.49 229.61M260.58 231.42L271.25 231.98M258.01 223.36L268.49 223.44M260.58 225.59L271.25 225.81M258.01 217.53L268.49 217.27M260.58 219.77L271.25 219.63M258.01 211.71L268.49 211.09M260.58 213.94L271.25 213.46M258.01 205.88L268.49 204.92M260.58 208.11L271.25 207.29M258.01 200.06L268.49 198.74M260.58 202.29L271.25 201.11M258.01 194.23L268.49 192.57M260.59 196.46L271.24 194.94M258.02 188.4L268.48 186.4M260.59 190.63L271.24 188.77M258.02 182.58L268.48 180.22M260.59 184.81L271.24 182.59M258.02 176.75L268.48 174.05M260.59 178.98L271.24 176.42M258.03 170.92L268.47 167.88M260.6 173.15L271.23 170.25M258.03 165.09L268.47 161.71M260.6 167.32L271.23 164.08M258.04 159.26L268.46 155.54M260.61 161.5L271.22 157.9M258.04 153.44L268.46 149.36M260.61 155.67L271.22 151.73M258.05 147.61L268.45 143.19M260.62 149.84L271.21 145.56M258.05 141.78L268.45 137.02M260.62 144.01L271.21 139.39M258.06 135.95L268.44 130.85M260.63 138.18L271.2 133.22M258.06 130.12L268.44 124.68M260.63 132.35L271.2 127.05M258.07 124.28L268.43 118.52M260.64 126.52L271.19 120.88M258.08 118.45L268.42 112.35M260.65 120.68L271.18 114.72M258.08 112.62L268.42 106.18M260.65 114.85L271.18 108.55M258.09 106.79L268.41 100.01M260.66 109.02L271.17 102.38M258.1 100.95L268.4 93.85M260.66 103.19L271.17 96.21M258.1 95.12L268.4 87.68M260.67 97.35L271.16 90.05M258.11 89.29L268.39 81.51M260.68 91.52L271.15 83.88M258.15 83.43L268.35 75.37M260.74 85.64L271.09 77.76M258.23 77.53L268.27 69.27M260.83 79.74L271 71.66M258.31 71.63L268.19 63.17M260.91 73.84L270.92 65.56M258.39 65.72L268.11 57.08M260.99 67.94L270.84 59.46M258.47 59.81L268.03 50.99M261.06 62.03L270.77 53.37M258.55 53.89L267.95 44.91M261.14 56.11L270.69 47.29M258.63 47.97L267.87 38.83M261.22 50.19L270.61 41.21M258.7 42.05L267.8 32.75M261.3 44.27L270.53 35.13M263.15 229.19L274.01 229.61M265.73 231.42L276.76 231.98M263.15 223.36L274.01 223.44M265.72 225.59L276.77 225.81M263.15 217.53L274.01 217.27M265.72 219.77L276.77 219.63M263.15 211.71L274.01 211.09M265.73 213.94L276.76 213.46M263.15 205.88L274.01 204.92M265.73 208.11L276.76 207.29M263.16 200.05L274 198.75M265.73 202.29L276.76 201.11M263.16 194.23L274 192.57M265.73 196.46L276.76 194.94M263.16 188.4L274 186.4M265.73 190.63L276.76 188.77M263.16 182.57L274 180.23M265.73 184.8L276.76 182.6M263.17 176.74L273.99 174.06M265.74 178.98L276.75 176.42M263.17 170.92L273.99 167.88M265.74 173.15L276.75 170.25M263.18 165.09L273.98 161.71M265.75 167.32L276.74 164.08M263.18 159.26L273.98 155.54M265.75 161.49L276.74 157.91M263.18 153.43L273.98 149.37M265.75 155.66L276.74 151.74M263.19 147.6L273.97 143.2M265.76 149.83L276.73 145.57M263.2 141.77L273.96 137.03M265.76 144L276.73 139.4M263.2 135.94L273.96 130.86M265.77 138.17L276.72 133.23M263.21 130.11L273.95 124.69M265.77 132.34L276.72 127.06M263.21 124.28L273.95 118.52M265.78 126.51L276.71 120.89M263.22 118.45L273.94 112.35M265.79 120.68L276.7 114.72M263.22 112.61L273.94 106.19M265.79 114.85L276.7 108.55M263.23 106.78L273.93 100.02M265.8 109.01L276.69 102.39M263.24 100.95L273.92 93.85M265.8 103.18L276.69 96.22M263.24 95.11L273.92 87.69M265.85 97.32L276.64 90.08M263.32 89.22L273.84 81.58M265.93 91.44L276.56 83.96M263.4 83.33L273.76 75.47M266 85.54L276.49 77.86M263.48 77.43L273.68 69.37M266.08 79.65L276.41 71.75M263.56 71.53L273.6 63.27M266.16 73.75L276.33 65.65M263.64 65.63L273.52 57.17M266.24 67.84L276.25 59.56M263.72 59.71L273.44 51.09M266.31 61.94L276.18 53.46M263.8 53.8L273.36 45M266.39 56.02L276.1 47.38M263.87 47.88L273.29 38.92M266.47 50.11L276.02 41.29M263.95 41.96L273.21 32.84M266.54 44.18L275.95 35.22M268.3 229.19L279.52 229.61M270.87 231.42L282.28 231.98M268.3 223.36L279.52 223.44M270.87 225.59L282.28 225.81M268.3 217.53L279.52 217.27M270.87 219.77L282.28 219.63M268.3 211.71L279.52 211.09M270.87 213.94L282.28 213.46M268.3 205.88L279.52 204.92M270.87 208.11L282.28 207.29M268.3 200.05L279.52 198.75M270.87 202.28L282.28 201.12M268.3 194.22L279.52 192.58M270.87 196.46L282.28 194.94M268.3 188.4L279.52 186.4M270.87 190.63L282.28 188.77M268.31 182.57L279.51 180.23M270.88 184.8L282.27 182.6M268.31 176.74L279.51 174.06M270.88 178.97L282.27 176.43M268.31 170.91L279.51 167.89M270.88 173.14L282.27 170.26M268.32 165.08L279.5 161.72M270.89 167.31L282.26 164.09M268.32 159.25L279.5 155.55M270.89 161.49L282.26 157.91M268.33 153.42L279.49 149.38M270.89 155.66L282.26 151.74M268.33 147.59L279.49 143.21M270.9 149.83L282.25 145.57M268.34 141.76L279.48 137.04M270.9 144L282.25 139.4M268.34 135.93L279.48 130.87M270.91 138.16L282.24 133.24M268.35 130.1L279.47 124.7M270.91 132.33L282.24 127.07M268.35 124.27L279.47 118.53M270.92 126.5L282.23 120.9M268.36 118.44L279.46 112.36M270.92 120.67L282.23 114.73M268.36 112.61L279.46 106.19M270.93 114.84L282.22 108.56M268.37 106.77L279.45 100.03M270.97 108.99L282.18 102.41M268.43 100.9L279.39 93.9M271.04 103.11L282.11 96.29M268.51 95.02L279.31 87.78M271.12 97.23L282.03 90.17M268.59 89.13L279.23 81.67M271.19 91.34L281.96 84.06M268.66 83.24L279.16 75.56M271.27 85.45L281.88 77.95M268.74 77.34L279.08 69.46M271.34 79.56L281.81 71.84M268.82 71.44L279 63.36M271.42 73.66L281.73 65.74M268.89 65.53L278.93 57.27M271.49 67.75L281.66 59.65M268.97 59.62L278.85 51.18M271.57 61.85L281.58 53.55M269.04 53.71L278.78 45.09M271.64 55.93L281.51 47.47M269.12 47.79L278.7 39.01M271.72 50.02L281.43 41.38M269.19 41.87L278.63 32.93M271.79 44.1L281.36 35.3M273.44 229.19L285.04 229.61M276.01 231.42L287.8 231.98M273.44 223.36L285.04 223.44M276.01 225.59L287.8 225.81M273.44 217.53L285.04 217.27M276.01 219.77L287.8 219.63M273.44 211.7L285.04 211.1M276.01 213.94L287.8 213.46M273.44 205.88L285.04 204.92M276.01 208.11L287.8 207.29M273.44 200.05L285.04 198.75M276.01 202.28L287.8 201.12M273.44 194.22L285.04 192.58M276.01 196.45L287.8 194.95M273.44 188.39L285.04 186.41M276.01 190.63L287.8 188.77M273.45 182.56L285.03 180.24M276.02 184.8L287.79 182.6M273.45 176.74L285.03 174.06M276.02 178.97L287.79 176.43M273.45 170.91L285.03 167.89M276.02 173.14L287.79 170.26M273.46 165.08L285.02 161.72M276.03 167.31L287.78 164.09M273.46 159.25L285.02 155.55M276.03 161.48L287.78 157.92M273.47 153.42L285.01 149.38M276.03 155.65L287.78 151.75M273.47 147.59L285.01 143.21M276.04 149.82L287.77 145.58M273.47 141.76L285.01 137.04M276.04 143.99L287.77 139.41M273.48 135.93L285 130.87M276.05 138.16L287.76 133.24M273.48 130.1L285 124.7M276.05 132.33L287.76 127.07M273.49 124.26L284.99 118.54M276.06 126.5L287.75 120.9M273.5 118.43L284.98 112.37M276.11 120.64L287.7 114.76M273.56 112.56L284.92 106.24M276.18 114.77L287.63 108.63M273.63 106.69L284.85 100.11M276.25 108.9L287.56 102.5M273.71 100.81L284.77 93.99M276.32 103.02L287.49 96.38M273.78 94.93L284.7 87.87M276.39 97.14L287.42 90.26M273.86 89.04L284.62 81.76M276.46 91.25L287.35 84.15M273.93 83.15L284.55 75.65M276.54 85.36L287.27 78.04M274 77.25L284.48 69.55M276.61 79.47L287.2 71.93M274.08 71.35L284.4 63.45M276.68 73.57L287.13 65.83M274.15 65.45L284.33 57.35M276.75 67.67L287.06 59.73M274.23 59.54L284.25 51.26M276.83 61.76L286.98 53.64M274.3 53.62L284.18 45.18M276.9 55.85L286.91 47.55M274.37 47.71L284.11 39.09M276.97 49.93L286.84 41.47M274.44 41.78L284.04 33.02M277.04 44.01L286.77 35.39M278.58 229.19L290.56 229.61M281.15 231.42L293.32 231.98M278.58 223.36L290.56 223.44M281.15 225.59L293.32 225.81M278.58 217.53L290.56 217.27M281.15 219.77L293.32 219.63M278.58 211.7L290.56 211.1M281.15 213.94L293.32 213.46M278.58 205.88L290.56 204.92M281.15 208.11L293.32 207.29M278.58 200.05L290.56 198.75M281.15 202.28L293.32 201.12M278.58 194.22L290.56 192.58M281.15 196.45L293.32 194.95M278.58 188.39L290.56 186.41M281.15 190.62L293.32 188.78M278.59 182.56L290.55 180.24M281.15 184.79L293.32 182.61M278.59 176.73L290.55 174.07M281.16 178.96L293.31 176.44M278.59 170.9L290.55 167.9M281.16 173.14L293.31 170.26M278.6 165.07L290.54 161.73M281.16 167.31L293.31 164.09M278.6 159.24L290.54 155.56M281.17 161.48L293.3 157.92M278.6 153.41L290.54 149.39M281.17 155.65L293.3 151.75M278.61 147.58L290.53 143.22M281.17 149.82L293.3 145.58M278.61 141.75L290.53 137.05M281.18 143.98L293.29 139.42M278.62 135.92L290.52 130.88M281.21 138.14L293.26 133.26M278.65 130.08L290.49 124.72M281.27 132.29L293.2 127.11M278.71 124.22L290.43 118.58M281.33 126.42L293.14 120.98M278.78 118.35L290.36 112.45M281.4 120.56L293.07 114.84M278.85 112.48L290.29 106.32M281.46 114.69L293.01 108.71M278.92 106.61L290.22 100.19M281.53 108.82L292.94 102.58M278.99 100.73L290.15 94.07M281.6 102.94L292.87 96.46M279.06 94.84L290.08 87.96M281.67 97.06L292.8 90.34M279.13 88.95L290.01 81.85M281.74 91.17L292.73 84.23M279.2 83.06L289.94 75.74M281.81 85.28L292.66 78.12M279.27 77.16L289.87 69.64M281.88 79.38L292.59 72.02M279.34 71.26L289.8 63.54M281.95 73.48L292.52 65.92M279.41 65.36L289.73 57.44M282.02 67.58L292.45 59.82M279.49 59.45L289.65 51.35M282.09 61.67L292.38 53.73M279.56 53.54L289.58 45.26M282.16 55.76L292.31 47.64M279.63 47.62L289.51 39.18M282.23 49.85L292.24 41.55M279.7 41.7L289.44 33.1M282.3 43.93L292.17 35.47M283.72 229.19L296.08 229.61M286.28 231.42L298.85 231.98M283.72 223.36L296.08 223.44M286.28 225.59L298.85 225.81M283.72 217.53L296.08 217.27M286.28 219.77L298.85 219.63M283.72 211.7L296.08 211.1M286.28 213.94L298.85 213.46M283.72 205.87L296.08 204.93M286.29 208.11L298.84 207.29M283.72 200.05L296.08 198.75M286.29 202.28L298.84 201.12M283.72 194.22L296.08 192.58M286.29 196.45L298.84 194.95M283.72 188.39L296.08 186.41M286.29 190.62L298.84 188.78M283.72 182.56L296.08 180.24M286.29 184.79L298.84 182.61M283.73 176.73L296.07 174.07M286.29 178.96L298.84 176.44M283.73 170.9L296.07 167.9M286.3 173.13L298.83 170.27M283.73 165.07L296.07 161.73M286.3 167.3L298.83 164.1M283.74 159.24L296.06 155.56M286.31 161.47L298.82 157.93M283.74 153.41L296.06 149.39M286.36 155.63L298.77 151.77M283.77 147.57L296.03 143.23M286.41 149.78L298.72 145.62M283.83 141.72L295.97 137.08M286.46 143.93L298.67 139.47M283.88 135.86L295.92 130.94M286.51 138.07L298.62 133.33M283.94 130L295.86 124.8M286.57 132.21L298.56 127.19M284.01 124.14L295.79 118.66M286.63 126.35L298.5 121.05M284.07 118.27L295.73 112.53M286.69 120.48L298.44 114.92M284.13 112.4L295.67 106.4M286.75 114.61L298.38 108.79M284.2 106.52L295.6 100.28M286.82 108.74L298.31 102.66M284.27 100.64L295.53 94.16M286.88 102.86L298.25 96.54M284.33 94.76L295.47 88.04M286.95 96.97L298.18 90.43M284.4 88.87L295.4 81.93M287.02 91.08L298.11 84.32M284.47 82.97L295.33 75.83M287.08 85.19L298.05 78.21M284.54 77.08L295.26 69.72M287.15 79.3L297.98 72.1M284.61 71.18L295.19 63.62M287.22 73.4L297.91 66M284.68 65.27L295.12 57.53M287.29 67.49L297.84 59.91M284.75 59.36L295.05 51.44M287.36 61.59L297.77 53.81M284.82 53.45L294.98 45.35M287.42 55.68L297.71 47.72M284.89 47.54L294.91 39.26M287.49 49.76L297.64 41.64M284.95 41.62L294.85 33.18M287.56 43.84L297.57 35.56M288.85 229.19L301.61 229.61M291.42 231.42L304.37 231.98M288.85 223.36L301.61 223.44M291.42 225.59L304.37 225.81M288.85 217.53L301.61 217.27M291.42 219.77L304.37 219.63M288.85 211.7L301.61 211.1M291.42 213.94L304.37 213.46M288.85 205.87L301.61 204.93M291.42 208.11L304.37 207.29M288.85 200.04L301.61 198.76M291.42 202.28L304.37 201.12M288.86 194.21L301.6 192.59M291.44 196.45L304.35 194.95M288.86 188.38L301.6 186.42M291.46 190.61L304.33 188.79M288.86 182.55L301.6 180.25M291.49 184.78L304.3 182.62M288.87 176.72L301.59 174.08M291.51 178.94L304.28 176.46M288.9 170.89L301.56 167.91M291.55 173.1L304.24 170.3M288.94 165.05L301.52 161.75M291.59 167.26L304.2 164.14M288.98 159.2L301.48 155.6M291.63 161.42L304.16 157.98M289.03 153.35L301.43 149.45M291.67 155.57L304.12 151.83M289.08 147.5L301.38 143.3M291.72 149.72L304.07 145.68M289.13 141.65L301.33 137.15M291.77 143.86L304.02 139.54M289.19 135.79L301.27 131.01M291.82 138L303.97 133.4M289.24 129.93L301.22 124.87M291.87 132.14L303.92 127.26M289.3 124.06L301.16 118.74M291.93 126.28L303.86 121.12M289.36 118.19L301.1 112.61M291.99 120.41L303.8 114.99M289.42 112.32L301.04 106.48M292.05 114.53L303.74 108.87M289.49 106.44L300.97 100.36M292.11 108.66L303.68 102.74M289.55 100.56L300.91 94.24M292.17 102.78L303.62 96.62M289.62 94.67L300.84 88.13M292.23 96.89L303.56 90.51M289.68 88.79L300.78 82.01M292.3 91L303.49 84.4M289.75 82.89L300.71 75.91M292.36 85.11L303.43 78.29M289.81 76.99L300.65 69.81M292.43 79.21L303.36 72.19M289.88 71.09L300.58 63.71M292.49 73.31L303.3 66.09M289.95 65.19L300.51 57.61M292.56 67.41L303.23 59.99M290.02 59.28L300.44 51.52M292.62 61.5L303.17 53.9M290.08 53.37L300.38 45.43M292.69 55.59L303.1 47.81M290.15 47.45L300.31 39.35M292.76 49.68L303.03 41.72M290.21 41.53L300.25 33.27M292.82 43.76L302.97 35.64M294.06 229.19L307.06 229.61M296.73 231.43L309.72 231.97M294.06 223.36L307.06 223.44M296.73 225.6L309.72 225.8M294.06 217.53L307.06 217.27M296.73 219.76L309.72 219.64M294.07 211.7L307.05 211.1M296.73 213.93L309.72 213.47M294.08 205.87L307.04 204.93M296.74 208.09L309.71 207.31M294.09 200.03L307.03 198.77M296.75 202.26L309.7 201.14M294.11 194.2L307.01 192.6M296.77 196.42L309.68 194.98M294.13 188.36L306.99 186.44M296.79 190.58L309.66 188.82M294.16 182.52L306.96 180.28M296.81 184.75L309.64 182.65M294.19 176.68L306.93 174.12M296.84 178.9L309.61 176.5M294.22 170.84L306.9 167.96M296.87 173.06L309.58 170.34M294.26 165L306.86 161.8M296.9 167.21L309.55 164.19M294.3 159.15L306.82 155.65M296.94 161.36L309.51 158.04M294.34 153.3L306.78 149.5M296.98 155.51L309.47 151.89M294.39 147.44L306.73 143.36M297.03 149.66L309.42 145.74M294.44 141.59L306.68 137.21M297.07 143.8L309.38 139.6M294.49 135.72L306.63 131.08M297.12 137.94L309.33 133.46M294.54 129.86L306.58 124.94M297.17 132.08L309.28 127.32M294.6 123.99L306.52 118.81M297.23 126.21L309.22 121.19M294.66 118.12L306.46 112.68M297.28 120.34L309.17 115.06M294.72 112.24L306.4 106.56M297.34 114.46L309.11 108.94M294.78 106.37L306.34 100.43M297.4 108.58L309.05 102.82M294.84 100.48L306.28 94.32M297.46 102.7L308.99 96.7M294.9 94.6L306.22 88.2M297.52 96.81L308.93 90.59M294.96 88.7L306.16 82.1M297.58 90.92L308.87 84.48M295.03 82.81L306.09 75.99M297.64 85.03L308.81 78.37M295.09 76.91L306.03 69.89M297.71 79.13L308.74 72.27M295.16 71.01L305.96 63.79M297.77 73.23L308.68 66.17M295.22 65.11L305.9 57.69M297.83 67.33L308.62 60.07M295.29 59.2L305.83 51.6M297.9 61.42L308.55 53.98M295.35 53.29L305.77 45.51M297.96 55.51L308.49 47.89M295.41 47.37L305.71 39.43M298.02 49.6L308.43 41.8M295.48 41.45L305.64 33.35M298.09 43.68L308.36 35.72M299.39 229.2L312.39 229.6M302.06 231.44L315.05 231.96M299.39 223.36L312.39 223.44M302.06 225.6L315.05 225.8M299.39 217.53L312.39 217.27M302.06 219.76L315.05 219.64M299.4 211.69L312.38 211.11M302.06 213.92L315.05 213.48M299.41 205.85L312.37 204.95M302.07 208.08L315.04 207.32M299.42 200.01L312.36 198.79M302.08 202.24L315.03 201.16M299.44 194.17L312.34 192.63M302.09 196.4L315.02 195M299.46 188.33L312.32 186.47M302.11 190.56L315 188.84M299.48 182.49L312.3 180.31M302.13 184.71L314.98 182.69M299.51 176.64L312.27 174.16M302.16 178.87L314.95 176.53M299.54 170.8L312.24 168M302.19 173.02L314.92 170.38M299.58 164.95L312.2 161.85M302.22 167.17L314.89 164.23M299.62 159.1L312.16 155.7M302.26 161.32L314.85 158.08M299.66 153.24L312.12 149.56M302.3 155.46L314.81 151.94M299.7 147.38L312.08 143.42M302.34 149.6L314.77 145.8M299.75 141.52L312.03 137.28M302.38 143.74L314.73 139.66M299.8 135.66L311.98 131.14M302.43 137.88L314.68 133.52M299.85 129.79L311.93 125.01M302.48 132.01L314.63 127.39M299.9 123.92L311.88 118.88M302.53 126.14L314.58 121.26M299.95 118.05L311.83 112.75M302.58 120.27L314.53 115.13M300.01 112.17L311.77 106.63M302.64 114.39L314.47 109.01M300.07 106.29L311.71 100.51M302.69 108.51L314.42 102.89M300.13 100.41L311.65 94.39M302.75 102.63L314.36 96.77M300.19 94.52L311.59 88.28M302.81 96.74L314.3 90.66M300.25 88.63L311.53 82.17M302.87 90.85L314.24 84.55M300.31 82.73L311.47 76.07M302.93 84.95L314.18 78.45M300.37 76.83L311.41 69.97M302.99 79.06L314.12 72.34M300.43 70.93L311.35 63.87M303.05 73.16L314.06 66.24M300.5 65.03L311.28 57.77M303.11 67.25L314 60.15M300.56 59.12L311.22 51.68M303.17 61.34L313.94 54.06M300.62 53.21L311.16 45.59M303.23 55.43L313.88 47.97M300.68 47.29L311.1 39.51M303.3 49.52L313.81 41.88M300.75 41.37L311.03 33.43M303.36 43.6L313.75 35.8M304.72 229.2L317.72 229.6M307.39 231.45L320.38 231.95M304.72 223.36L317.72 223.44M307.39 225.6L320.38 225.8M304.72 217.52L317.72 217.28M307.39 219.76L320.38 219.64M304.73 211.68L317.71 211.12M307.39 213.92L320.38 213.48M304.73 205.84L317.71 204.96M307.4 208.07L320.37 207.33M304.75 199.99L317.69 198.81M307.41 202.23L320.36 201.17M304.76 194.15L317.68 192.65M307.42 196.38L320.35 195.02M304.78 188.3L317.66 186.5M307.44 190.53L320.33 188.87M304.81 182.46L317.63 180.34M307.46 184.68L320.31 182.72M304.83 176.61L317.61 174.19M307.48 178.83L320.29 176.57M304.86 170.76L317.58 168.04M307.51 172.98L320.26 170.42M304.9 164.9L317.54 161.9M307.54 167.13L320.23 164.27M304.93 159.05L317.51 155.75M307.58 161.27L320.19 158.13M304.97 153.19L317.47 149.61M307.61 155.41L320.16 151.99M305.01 147.33L317.43 143.47M307.65 149.55L320.12 145.85M305.06 141.47L317.38 137.33M307.7 143.69L320.07 139.71M305.1 135.6L317.34 131.2M307.74 137.82L320.03 133.58M305.15 129.73L317.29 125.07M307.79 131.95L319.98 127.45M305.2 123.86L317.24 118.94M307.84 126.08L319.93 121.32M305.25 117.98L317.19 112.82M307.89 120.2L319.88 115.2M305.31 112.1L317.13 106.7M307.94 114.32L319.83 109.08M305.36 106.22L317.08 100.58M307.99 108.44L319.78 102.96M305.42 100.33L317.02 94.47M308.05 102.55L319.72 96.85M305.48 94.44L316.96 88.36M308.1 96.67L319.67 90.73M305.54 88.55L316.9 82.25M308.16 90.77L319.61 84.63M305.59 82.66L316.85 76.14M308.22 84.88L319.55 78.52M305.65 76.76L316.79 70.04M308.27 78.98L319.5 72.42M305.71 70.85L316.73 63.95M308.33 73.08L319.44 66.32M305.77 64.95L316.67 57.85M308.39 67.17L319.38 60.23M305.84 59.04L316.6 51.76M308.45 61.27L319.32 54.13M305.9 53.13L316.54 45.67M308.51 55.36L319.26 48.04M305.96 47.21L316.48 39.59M308.57 49.44L319.2 41.96M306.02 41.3L316.42 33.5M308.63 43.53L319.14 35.87M310.05 229.21L323.05 229.59M312.72 231.46L325.71 231.94M310.05 223.36L323.05 223.44M312.72 225.61L325.71 225.79M310.05 217.52L323.05 217.28M312.72 219.76L325.71 219.64M310.06 211.67L323.04 211.13M312.72 213.91L325.71 213.49M310.06 205.82L323.04 204.98M312.72 208.06L325.71 207.34M310.08 199.98L323.02 198.82M312.74 202.21L325.69 201.19M310.09 194.13L323.01 192.67M312.75 196.36L325.68 195.04M310.11 188.28L322.99 186.52M312.77 190.51L325.66 188.89M310.13 182.43L322.97 180.37M312.79 184.65L325.64 182.75M310.16 176.57L322.94 174.23M312.81 178.8L325.62 176.6M310.18 170.72L322.92 168.08M312.84 172.94L325.59 170.46M310.22 164.86L322.88 161.94M312.86 167.09L325.57 164.31M310.25 159L322.85 155.8M312.9 161.23L325.53 158.17M310.29 153.14L322.81 149.66M312.93 155.36L325.5 152.04M310.33 147.28L322.77 143.52M312.97 149.5L325.46 145.9M310.37 141.41L322.73 137.39M313.01 143.63L325.42 139.77M310.41 135.54L322.69 131.26M313.05 137.76L325.38 133.64M310.46 129.67L322.64 125.13M313.1 131.89L325.33 127.51M310.51 123.79L322.59 119.01M313.14 126.02L325.29 121.38M310.56 117.91L322.54 112.89M313.19 120.14L325.24 115.26M310.61 112.03L322.49 106.77M313.24 114.26L325.19 109.14M310.66 106.15L322.44 100.65M313.29 108.37L325.14 103.03M310.71 100.26L322.39 94.54M313.34 102.49L325.09 96.91M310.77 94.37L322.33 88.43M313.4 96.6L325.03 90.8M310.83 88.48L322.27 82.32M313.45 90.7L324.98 84.7M310.88 82.58L322.22 76.22M313.51 84.81L324.92 78.59M310.94 76.68L322.16 70.12M313.56 78.91L324.87 72.49M311 70.78L322.1 64.02M313.62 73.01L324.81 66.39M311.06 64.87L322.04 57.93M313.68 67.1L324.75 60.3M311.11 58.96L321.99 51.84M313.73 61.19L324.7 54.21M311.17 53.05L321.93 45.75M313.79 55.28L324.64 48.12M311.23 47.14L321.87 39.66M313.85 49.37L324.58 42.03M311.29 41.22L321.81 33.58M313.91 43.45L324.52 35.95M315.38 229.22L328.38 229.58M318.05 231.46L331.04 231.94M315.38 223.37L328.38 223.43M318.05 225.61L331.04 225.79M315.38 217.51L328.38 217.29M318.05 219.76L331.04 219.64M315.39 211.66L328.37 211.14M318.05 213.9L331.04 213.5M315.39 205.81L328.37 204.99M318.05 208.05L331.04 207.35M315.4 199.96L328.36 198.84M318.06 202.2L331.03 201.2M315.42 194.11L328.34 192.69M318.08 196.34L331.01 195.06M315.44 188.25L328.32 186.55M318.09 190.48L331 188.92M315.46 182.4L328.3 180.4M318.11 184.63L330.98 182.77M315.48 176.54L328.28 174.26M318.13 178.77L330.96 176.63M315.51 170.68L328.25 168.12M318.16 172.91L330.93 170.49M315.54 164.82L328.22 161.98M318.19 167.05L330.9 164.35M315.57 158.96L328.19 155.84M318.22 161.18L330.87 158.22M315.6 153.09L328.16 149.71M318.25 155.32L330.84 152.08M315.64 147.23L328.12 143.57M318.29 149.45L330.8 145.95M315.68 141.36L328.08 137.44M318.32 143.58L330.77 139.82M315.72 135.48L328.04 131.32M318.36 137.71L330.73 133.69M315.77 129.61L327.99 125.19M318.41 131.83L330.68 127.57M315.81 123.73L327.95 119.07M318.45 125.96L330.64 121.44M315.86 117.85L327.9 112.95M318.49 120.08L330.6 115.32M315.91 111.97L327.85 106.83M318.54 114.19L330.55 109.21M315.96 106.08L327.8 100.72M318.59 108.31L330.5 103.09M316.01 100.19L327.75 94.61M318.64 102.42L330.45 96.98M316.06 94.3L327.7 88.5M318.69 96.53L330.4 90.87M316.12 88.41L327.64 82.39M318.74 90.63L330.35 84.77M316.17 82.51L327.59 76.29M318.8 84.74L330.29 78.66M316.23 76.61L327.53 70.19M318.85 78.84L330.24 72.56M316.28 70.71L327.48 64.09M318.91 72.93L330.18 66.47M316.34 64.8L327.42 58M318.96 67.03L330.13 60.37M316.4 58.89L327.36 51.91M319.02 61.12L330.07 54.28M316.45 52.98L327.31 45.82M319.07 55.21L330.02 48.19M316.51 47.06L327.25 39.74M319.13 49.29L329.96 42.11M316.57 41.15L327.19 33.65M319.19 43.38L329.9 36.02M314.09 37L324.31 29.8M314.42 39.2L324.9 32.38M315.06 41.4L323.42 32.1M313.53 43.6L324.78 38.15M314.15 45.8L323.33 37.32M315.99 48L326.19 40.77M315.59 50.2L325.84 43.05M315.1 52.4L324.1 43.72M315.09 54.6L326.59 49.7M314.81 56.8L326.01 51.25M315.18 59L323.96 50.1M315.4 61.2L326.23 54.97M314.25 63.4L322.98 54.45M315.66 65.6L326.2 58.88M315.3 67.8L327 63.41M315.29 70L327.1 65.93M314.49 72.2L326.06 67.48M314.61 74.4L326.5 70.55M315.7 76.6L325.07 68.33M313.84 78.8L323.7 71.12M315.91 81L326.63 74.57M315.07 83.2L325.36 76.11M314.77 85.4L325.39 78.82M314.38 87.6L325.64 82.17M314.96 89.8L326.97 86.33M315.2 92L327.28 88.77M315.64 94.2L327.5 91.52M315.18 96.4L325.27 89.03M315.65 98.6L327.5 95.93M315.76 100.8L327.21 95.79M315.28 103L325.7 96.09M315.58 105.2L327.11 100.38M314.21 107.4L324.19 99.86M315.63 109.6L327.5 107.52M313.72 111.8L325.79 108.53M314.53 114L324.98 107.14M314.23 116.2L326.3 112.93M315.68 118.4L325.88 111.17M315.04 120.6L325.28 113.44M315.3 122.8L326.5 117.26M315.7 125L327.5 123.51M314.76 127.2L327.19 125.81M314.27 129.4L324.83 122.71M315 131.6L325.46 124.76M313.99 133.8L325.58 129.11M315.03 136L325.99 130M313.61 138.2L325.98 136.46M314.28 140.4L326.74 139.34M315.74 142.6L327.42 138.13M314.65 144.8L326.64 141.25M315.11 147L327.25 144.01M314.9 149.2L327.09 146.45M315.85 151.4L327.5 148.19M314.58 153.6L326.93 151.66M314.09 155.8L325.8 151.42M315.94 158L327.5 155.21M314.87 160.2L325.93 154.37M314.54 162.4L326.81 160M313.55 164.6L325.87 162.51M315.08 166.8L326.41 161.53M315.07 169L327.26 166.22M315.2 171.2L327.24 167.84M315.27 173.4L327.5 172.53M313.56 175.6L325.05 170.69M315.19 177.8L327.5 178.52M314.13 180L326.41 177.66M314.98 182.2L327.1 179.15M314.41 184.4L326.54 181.4M314.42 186.6L326.87 185.45M314.25 188.8L326.52 186.4M315.43 191L327.14 186.61M314.92 193.2L327.42 193.25M314.28 195.4L326.4 192.38M315.51 197.6L327.5 194.83M313.97 199.8L326.38 198.29M315.25 202L327.26 198.57M314.3 204.2L326.66 202.28M315.58 206.4L327.5 205.3M315.64 208.6L327.5 205.97M314.34 210.8L326.84 211.18M315.71 213L327.5 212.29M314.06 215.2L326.27 212.51M314.82 217.4L327.14 215.25M315.52 219.6L327.5 221.53M313.96 221.8L326.38 220.41M315.52 224L327.5 224.95M315.52 226.2L327.5 225.47M313.82 228.4L326.29 227.42M315.48 230.6L327.5 229.63" stroke="#3b3bdc" stroke-width="0.85" fill="none"/>
<path d="M75.51 229.73L77.08 228.26L77.61 230.19zM78.27 232.14L79.66 230.5L80.4 232.36zM75.5 223.46L77.34 222.37L77.45 224.36zM78.24 225.87L79.96 224.6L80.27 226.57zM75.5 217.19L77.54 216.53L77.21 218.5zM78.23 219.59L80.22 218.78L80.03 220.77zM75.53 210.94L77.66 210.71L76.93 212.57zM78.26 213.32L80.38 212.99L79.73 214.88zM75.57 204.7L77.71 204.85L76.66 206.55zM78.3 207.07L80.45 207.18L79.43 208.9zM75.61 198.48L77.71 198.94L76.42 200.47zM78.35 200.85L80.45 201.3L79.16 202.83zM75.65 192.28L77.68 192.99L76.22 194.35zM78.39 194.64L80.41 195.36L78.94 196.72zM75.69 186.1L77.64 186.98L76.06 188.21zM78.43 188.45L80.37 189.37L78.77 190.57zM75.72 179.92L77.6 180.95L75.93 182.05zM78.46 182.27L80.32 183.35L78.63 184.41zM75.75 173.74L77.56 174.89L75.83 175.89zM78.49 176.1L80.28 177.29L78.52 178.25zM75.77 167.57L77.52 168.81L75.74 169.72zM78.51 169.93L80.24 171.21L78.44 172.07zM75.79 161.41L77.49 162.72L75.67 163.55zM78.53 163.76L80.2 165.11L78.36 165.9zM75.8 155.24L77.46 156.61L75.61 157.38zM78.55 157.6L80.17 159.01L78.3 159.73zM75.82 149.08L77.43 150.5L75.56 151.21zM78.56 151.44L80.14 152.89L78.25 153.56zM75.83 142.92L77.4 144.38L75.51 145.04zM78.58 145.27L80.11 146.77L78.21 147.39zM75.84 136.76L77.38 138.25L75.48 138.87zM78.59 139.11L80.09 140.64L78.18 141.22zM75.85 130.6L77.36 132.12L75.44 132.7zM78.6 132.95L80.07 134.51L78.15 135.05zM75.86 124.44L77.34 125.99L75.42 126.54zM78.6 126.79L80.05 128.38L78.12 128.88zM75.87 118.28L77.32 119.85L75.39 120.37zM78.61 120.63L80.04 122.24L78.09 122.72zM75.87 112.12L77.31 113.72L75.37 114.2zM78.62 114.48L80.02 116.1L78.07 116.55zM75.88 105.96L77.29 107.57L75.35 108.04zM78.62 108.32L80.01 109.96L78.05 110.39zM75.88 99.8L77.28 101.43L75.33 101.87zM78.63 102.16L79.99 103.81L78.04 104.22zM75.89 93.64L77.27 95.29L75.31 95.71zM78.63 96L79.98 97.67L78.02 98.06zM75.89 87.48L77.26 89.14L75.3 89.54zM78.64 89.84L79.97 91.52L78.01 91.89zM75.9 81.32L77.25 83L75.28 83.38zM78.64 83.68L79.96 85.38L77.99 85.73zM75.9 75.17L77.24 76.85L75.27 77.22zM78.65 77.52L79.95 79.23L77.98 79.57zM75.91 69.01L77.23 70.7L75.26 71.05zM78.65 71.37L79.95 73.08L77.97 73.4zM75.91 62.85L77.22 64.55L75.25 64.89zM78.65 65.21L79.94 66.93L77.96 67.24zM75.91 56.69L77.21 58.4L75.24 58.73zM78.66 59.05L79.93 60.78L77.95 61.08zM75.92 50.53L77.21 52.25L75.23 52.57zM78.66 52.89L79.92 54.63L77.95 54.92zM75.92 44.38L77.2 46.1L75.22 46.41zM78.66 46.73L79.92 48.48L77.94 48.76zM75.92 38.22L77.19 39.95L75.21 40.24zM78.66 40.58L79.91 42.32L77.93 42.59zM75.92 32.06L77.19 33.8L75.21 34.08zM78.67 34.42L79.91 36.17L77.92 36.43zM80.99 229.76L82.46 228.19L83.12 230.08zM83.76 232.18L84.99 230.42L85.9 232.2zM80.97 223.47L82.8 222.35L82.93 224.34zM83.71 225.89L85.38 224.55L85.77 226.51zM80.98 217.17L83.04 216.59L82.63 218.55zM83.7 219.58L85.71 218.82L85.47 220.8zM81.02 210.9L83.16 210.84L82.28 212.64zM83.74 213.28L85.89 213.13L85.08 214.96zM81.07 204.66L83.19 205.03L81.96 206.61zM83.8 207.02L85.92 207.38L84.71 208.97zM81.12 198.44L83.16 199.13L81.71 200.51zM83.86 200.8L85.89 201.51L84.42 202.87zM81.17 192.25L83.11 193.17L81.51 194.37zM83.91 194.6L85.83 195.57L84.2 196.73zM81.2 186.07L83.05 187.15L81.35 188.21zM83.95 188.42L85.77 189.56L84.04 190.57zM81.23 179.89L83 181.1L81.24 182.04zM83.98 182.25L85.72 183.51L83.92 184.39zM81.26 173.72L82.96 175.03L81.14 175.87zM84.01 176.08L85.67 177.43L83.83 178.22zM81.28 167.56L82.92 168.94L81.07 169.69zM84.03 169.91L85.63 171.34L83.75 172.04zM81.29 161.39L82.89 162.83L81.01 163.52zM84.04 163.75L85.59 165.23L83.7 165.87zM81.31 155.23L82.86 156.72L80.96 157.35zM84.06 157.59L85.56 159.12L83.65 159.69zM81.32 149.07L82.83 150.6L80.92 151.18zM84.07 151.43L85.54 152.99L83.61 153.52zM81.33 142.91L82.81 144.47L80.88 145.01zM84.08 145.26L85.51 146.86L83.58 147.35zM81.34 136.75L82.79 138.34L80.85 138.84zM84.09 139.11L85.49 140.73L83.55 141.18zM81.35 130.59L82.77 132.2L80.82 132.67zM84.09 132.95L85.48 134.59L83.52 135.02zM81.36 124.43L82.75 126.06L80.8 126.5zM84.1 126.79L85.46 128.45L83.5 128.85zM81.36 118.27L82.74 119.92L80.78 120.34zM84.11 120.63L85.45 122.31L83.48 122.68zM81.37 112.11L82.72 113.78L80.76 114.17zM84.11 114.47L85.43 116.16L83.47 116.52zM81.37 105.95L82.71 107.63L80.75 108.01zM84.12 108.31L85.42 110.02L83.45 110.35zM81.38 99.79L82.7 101.49L80.73 101.84zM84.12 102.15L85.41 103.87L83.44 104.19zM81.38 93.64L82.69 95.34L80.72 95.68zM84.13 96L85.4 97.72L83.43 98.03zM81.39 87.48L82.68 89.19L80.71 89.52zM84.13 89.84L85.39 91.57L83.41 91.86zM81.39 81.32L82.67 83.04L80.7 83.35zM84.13 83.68L85.39 85.42L83.41 85.7zM81.39 75.16L82.66 76.89L80.69 77.19zM84.13 77.52L85.38 79.27L83.4 79.54zM81.39 69L82.66 70.74L80.68 71.03zM84.14 71.36L85.37 73.12L83.39 73.38zM81.4 62.85L82.65 64.59L80.67 64.87zM84.14 65.21L85.37 66.97L83.38 67.21zM81.4 56.69L82.64 58.44L80.66 58.7zM84.14 59.05L85.36 60.82L83.37 61.05zM81.4 50.53L82.64 52.29L80.65 52.54zM84.14 52.89L85.35 54.66L83.37 54.89zM81.4 44.37L82.63 46.14L80.65 46.38zM84.15 46.73L85.35 48.51L83.36 48.73zM81.41 38.22L82.63 39.98L80.64 40.22zM84.15 40.57L85.34 42.36L83.36 42.57zM81.41 32.06L82.62 33.83L80.63 34.06zM84.15 34.42L85.34 36.2L83.35 36.41zM86.48 229.8L87.79 228.1L88.62 229.92zM89.26 232.25L90.23 230.33L91.39 231.95zM86.44 223.48L88.24 222.32L88.42 224.31zM89.19 225.93L90.76 224.46L91.28 226.39zM86.45 217.14L88.56 216.7L88.01 218.62zM89.18 219.56L91.22 218.89L90.88 220.86zM86.52 210.85L88.65 211.05L87.56 212.73zM89.24 213.22L91.39 213.36L90.34 215.07zM86.59 204.61L88.63 205.27L87.2 206.66zM89.33 206.96L91.36 207.65L89.91 209.03zM86.64 198.4L88.56 199.36L86.94 200.53zM89.39 200.75L91.28 201.78L89.61 202.89zM86.69 192.21L88.5 193.38L86.75 194.36zM89.44 194.57L91.2 195.8L89.42 196.71zM86.72 186.04L88.43 187.34L86.62 188.18zM89.48 188.39L91.13 189.76L89.29 190.53zM86.75 179.87L88.38 181.27L86.52 182zM89.5 182.22L91.08 183.68L89.19 184.35zM86.77 173.7L88.34 175.17L86.45 175.83zM89.52 176.06L91.04 177.58L89.12 178.17zM86.79 167.54L88.3 169.06L86.39 169.65zM89.54 169.9L91 171.47L89.07 171.99zM86.8 161.38L88.27 162.95L86.34 163.48zM89.55 163.74L90.97 165.35L89.02 165.82zM86.81 155.22L88.25 156.82L86.31 157.31zM89.56 157.58L90.94 159.22L88.99 159.64zM86.82 149.06L88.22 150.69L86.27 151.13zM89.57 151.42L90.92 153.09L88.96 153.47zM86.83 142.9L88.2 144.55L86.25 144.97zM89.58 145.26L90.9 146.95L88.94 147.31zM86.84 136.74L88.19 138.41L86.22 138.8zM89.59 139.1L90.89 140.81L88.92 141.14zM86.85 130.58L88.17 132.27L86.2 132.63zM89.59 132.94L90.87 134.66L88.9 134.97zM86.85 124.42L88.16 126.13L86.19 126.47zM89.6 126.78L90.86 128.52L88.88 128.81zM86.86 118.27L88.15 119.98L86.17 120.3zM89.6 120.62L90.85 122.37L88.87 122.64zM86.86 112.11L88.13 113.84L86.16 114.14zM89.61 114.47L90.84 116.22L88.86 116.48zM86.86 105.95L88.12 107.69L86.14 107.97zM89.61 108.31L90.83 110.07L88.85 110.32zM86.87 99.79L88.12 101.54L86.13 101.81zM89.61 102.15L90.82 103.92L88.84 104.15zM86.87 93.63L88.11 95.39L86.12 95.65zM89.61 95.99L90.82 97.77L88.83 97.99zM86.87 87.48L88.1 89.24L86.12 89.48zM89.62 89.83L90.81 91.62L88.82 91.83zM86.88 81.32L88.09 83.09L86.11 83.32zM89.62 83.68L90.81 85.47L88.82 85.67zM86.88 75.16L88.09 76.94L86.1 77.16zM89.62 77.52L90.8 79.31L88.81 79.51zM86.88 69L88.08 70.78L86.09 71zM89.62 71.36L90.79 73.16L88.8 73.35zM86.88 62.84L88.08 64.63L86.09 64.84zM89.63 65.2L90.79 67.01L88.8 67.19zM86.89 56.69L88.07 58.48L86.08 58.68zM89.63 59.05L90.79 60.85L88.79 61.02zM86.89 50.53L88.07 52.32L86.08 52.52zM89.63 52.89L90.78 54.7L88.79 54.86zM86.89 44.37L88.06 46.17L86.07 46.36zM89.63 46.73L90.78 48.55L88.78 48.7zM86.89 38.21L88.06 40.02L86.07 40.2zM89.63 40.57L90.77 42.39L88.78 42.54zM86.89 32.06L88.05 33.86L86.06 34.04zM89.63 34.42L90.77 36.24L88.78 36.38zM91.99 229.87L93 227.98L94.12 229.64zM94.81 232.33L95.29 230.24L96.81 231.54zM91.91 223.5L93.66 222.27L93.92 224.25zM94.68 226L96.01 224.31L96.82 226.14zM91.94 217.09L94.08 216.9L93.31 218.74zM94.65 219.51L96.75 219.05L96.22 220.98zM92.04 210.77L94.1 211.38L92.71 212.81zM94.78 213.13L96.83 213.76L95.42 215.18zM92.13 204.55L94.01 205.58L92.34 206.68zM94.89 206.89L96.7 208.03L94.98 209.04zM92.19 198.36L93.91 199.63L92.11 200.5zM94.95 200.7L96.59 202.08L94.74 202.84zM92.23 192.18L93.84 193.6L91.97 194.31zM94.99 194.53L96.51 196.04L94.61 196.65zM92.25 186.01L93.78 187.53L91.87 188.13zM95.01 188.37L96.45 189.96L94.52 190.46zM92.27 179.85L93.73 181.43L91.8 181.95zM95.03 182.21L96.41 183.85L94.46 184.27zM92.29 173.69L93.7 175.31L91.75 175.77zM95.04 176.05L96.38 177.73L94.41 178.1zM92.3 167.53L93.67 169.19L91.71 169.59zM95.06 169.89L96.35 171.6L94.38 171.92zM92.31 161.37L93.64 163.05L91.68 163.42zM95.06 163.73L96.33 165.46L94.35 165.75zM92.32 155.21L93.62 156.92L91.65 157.25zM95.07 157.57L96.31 159.32L94.33 159.58zM92.33 149.05L93.61 150.78L91.63 151.08zM95.08 151.41L96.3 153.18L94.31 153.42zM92.33 142.89L93.59 144.63L91.61 144.92zM95.08 145.25L96.29 147.03L94.3 147.25zM92.34 136.74L93.58 138.49L91.6 138.75zM95.09 139.09L96.28 140.88L94.29 141.09zM92.34 130.58L93.57 132.34L91.58 132.59zM95.09 132.94L96.27 134.73L94.28 134.92zM92.35 124.42L93.56 126.19L91.57 126.42zM95.09 126.78L96.26 128.58L94.27 128.76zM92.35 118.26L93.55 120.04L91.56 120.26zM95.09 120.62L96.25 122.43L94.26 122.6zM92.35 112.1L93.54 113.89L91.55 114.1zM95.1 114.46L96.24 116.28L94.25 116.44zM92.36 105.95L93.53 107.74L91.54 107.93zM95.1 108.31L96.24 110.13L94.24 110.28zM92.36 99.79L93.53 101.59L91.54 101.77zM95.1 102.15L96.23 103.97L94.24 104.11zM92.36 93.63L93.52 95.44L91.53 95.61zM95.1 95.99L96.23 97.82L94.23 97.95zM92.36 87.47L93.52 89.28L91.52 89.45zM95.1 89.83L96.23 91.66L94.23 91.79zM92.36 81.32L93.51 83.13L91.52 83.29zM95.11 83.68L96.22 85.51L94.23 85.63zM92.37 75.16L93.51 76.98L91.51 77.13zM95.11 77.52L96.22 79.36L94.22 79.47zM92.37 69L93.5 70.82L91.51 70.97zM95.11 71.36L96.21 73.2L94.22 73.31zM92.37 62.84L93.5 64.67L91.5 64.81zM95.11 65.2L96.21 67.05L94.21 67.15zM92.37 56.69L93.5 58.51L91.5 58.65zM95.11 59.05L96.21 60.89L94.21 61zM92.37 50.53L93.49 52.36L91.5 52.49zM95.11 52.89L96.21 54.73L94.21 54.84zM92.37 44.37L93.49 46.2L91.49 46.33zM95.11 46.73L96.2 48.58L94.21 48.68zM92.37 38.21L93.49 40.05L91.49 40.17zM95.11 40.57L96.2 42.42L94.2 42.52zM92.37 32.06L93.48 33.89L91.49 34.01zM95.11 34.42L96.2 36.27L94.2 36.36zM97.56 229.99L97.94 227.88L99.52 229.1zM100.45 232.43L100.09 230.31L101.99 230.93zM97.38 223.56L98.99 222.13L99.47 224.08zM100.28 226.18L100.75 224.08L102.27 225.38zM97.48 216.97L99.59 217.37L98.34 218.94zM100.2 219.35L102.32 219.65L101.15 221.27zM97.63 210.68L99.42 211.88L97.66 212.83zM100.42 213.02L102.04 214.43L100.17 215.15zM97.71 204.49L99.27 205.96L97.38 206.61zM100.49 206.84L101.88 208.48L99.93 208.91zM97.75 198.32L99.18 199.92L97.24 200.41zM100.52 200.67L101.81 202.4L99.83 202.7zM97.77 192.16L99.13 193.83L97.16 194.22zM100.54 194.51L101.76 196.28L99.78 196.52zM97.79 186L99.08 187.71L97.11 188.04zM100.55 188.35L101.73 190.15L99.74 190.34zM97.8 179.84L99.06 181.58L97.08 181.86zM100.56 182.2L101.71 184.01L99.72 184.17zM97.81 173.68L99.03 175.44L97.05 175.69zM100.57 176.04L101.7 177.86L99.7 178zM97.82 167.52L99.02 169.3L97.03 169.52zM100.57 169.88L101.69 171.71L99.69 171.84zM97.82 161.36L99 163.16L97.01 163.35zM100.57 163.72L101.68 165.56L99.68 165.68zM97.83 155.21L98.99 157.01L97 157.19zM100.58 157.57L101.67 159.41L99.67 159.51zM97.83 149.05L98.98 150.86L96.99 151.02zM100.58 151.41L101.67 153.26L99.67 153.35zM97.83 142.89L98.97 144.71L96.98 144.86zM100.58 145.25L101.66 147.11L99.66 147.19zM97.83 136.73L98.96 138.56L96.97 138.7zM100.58 139.09L101.66 140.95L99.66 141.03zM97.84 130.58L98.96 132.41L96.96 132.54zM100.58 132.93L101.65 134.8L99.65 134.87zM97.84 124.42L98.95 126.25L96.96 126.37zM100.58 126.78L101.65 128.64L99.65 128.71zM97.84 118.26L98.95 120.1L96.95 120.21zM100.59 120.62L101.65 122.49L99.65 122.55zM97.84 112.1L98.94 113.95L96.95 114.05zM100.59 114.46L101.64 116.33L99.64 116.39zM97.84 105.94L98.94 107.79L96.94 107.89zM100.59 108.3L101.64 110.18L99.64 110.23zM97.85 99.79L98.94 101.64L96.94 101.73zM100.59 102.15L101.64 104.02L99.64 104.07zM97.85 93.63L98.93 95.48L96.93 95.57zM100.59 95.99L101.64 97.86L99.64 97.92zM97.85 87.47L98.93 89.33L96.93 89.41zM100.59 89.83L101.64 91.71L99.64 91.76zM97.85 81.31L98.93 83.17L96.93 83.25zM100.59 83.67L101.63 85.55L99.64 85.6zM97.85 75.16L98.92 77.02L96.93 77.1zM100.59 77.52L101.63 79.39L99.63 79.44zM97.85 69L98.92 70.86L96.92 70.94zM100.59 71.36L101.63 73.24L99.63 73.28zM97.85 62.84L98.92 64.7L96.92 64.78zM100.59 65.2L101.63 67.08L99.63 67.12zM97.85 56.68L98.92 58.55L96.92 58.62zM100.59 59.04L101.63 60.92L99.63 60.96zM97.85 50.53L98.92 52.39L96.92 52.46zM100.59 52.89L101.63 54.77L99.63 54.81zM97.85 44.37L98.92 46.24L96.92 46.3zM100.59 46.73L101.63 48.61L99.63 48.65zM97.85 38.21L98.91 40.08L96.91 40.14zM100.59 40.57L101.63 42.45L99.63 42.49zM97.85 32.05L98.91 33.92L96.91 33.98zM100.59 34.41L101.63 36.3L99.63 36.33zM103.29 230.09L102.45 228.12L104.45 228.28zM106.16 232.45L104.81 230.78L106.77 230.39zM106.3 226.24L104.53 225.02L106.31 224.09zM103.27 216.78L104.51 218.53L102.53 218.8zM103.3 210.62L104.41 212.46L102.42 212.58zM106.18 213L106.72 215.07L104.78 214.62zM103.32 204.46L104.39 206.33L102.39 206.4zM106.13 206.83L106.87 208.85L104.89 208.58zM103.32 198.31L104.37 200.18L102.37 200.23zM106.11 200.67L106.93 202.66L104.94 202.47zM103.32 192.15L104.36 194.03L102.36 194.07zM106.1 194.51L106.96 196.48L104.97 196.33zM103.32 185.99L104.36 187.87L102.36 187.91zM106.1 188.35L106.98 190.31L104.98 190.19zM103.33 179.83L104.35 181.72L102.36 181.75zM106.09 182.2L106.99 184.14L105 184.04zM103.33 173.68L104.35 175.56L102.35 175.59zM106.09 176.04L107 177.98L105.01 177.89zM103.33 167.52L104.35 169.41L102.35 169.43zM106.08 169.88L107.01 171.82L105.01 171.74zM103.33 161.36L104.35 163.25L102.35 163.27zM106.08 163.72L107.02 165.66L105.02 165.59zM103.33 155.2L104.35 157.09L102.35 157.11zM106.08 157.56L107.02 159.49L105.02 159.43zM103.33 149.05L104.35 150.94L102.35 150.96zM106.08 151.41L107.03 153.33L105.03 153.28zM103.33 142.89L104.35 144.78L102.35 144.8zM106.08 145.25L107.03 147.18L105.03 147.12zM103.33 136.73L104.34 138.62L102.34 138.64zM106.08 139.09L107.03 141.02L105.03 140.97zM103.33 130.57L104.34 132.47L102.34 132.48zM106.08 132.93L107.03 134.86L105.03 134.81zM103.33 124.42L104.34 126.31L102.34 126.32zM106.08 126.78L107.04 128.7L105.04 128.66zM103.33 118.26L104.34 120.15L102.34 120.17zM106.08 120.62L107.04 122.54L105.04 122.5zM103.33 112.1L104.34 114L102.34 114.01zM106.07 114.46L107.04 116.38L105.04 116.34zM103.33 105.94L104.34 107.84L102.34 107.85zM106.07 108.3L107.04 110.22L105.04 110.19zM103.33 99.79L104.34 101.68L102.34 101.69zM106.07 102.15L107.04 104.06L105.04 104.03zM103.33 93.63L104.34 95.52L102.34 95.53zM106.07 95.99L107.04 97.91L105.04 97.87zM103.33 87.47L104.34 89.37L102.34 89.38zM106.07 89.83L107.04 91.75L105.04 91.72zM103.33 81.31L104.34 83.21L102.34 83.22zM106.07 83.67L107.05 85.59L105.05 85.56zM103.33 75.16L104.34 77.05L102.34 77.06zM106.07 77.52L107.05 79.43L105.05 79.4zM103.33 69L104.34 70.9L102.34 70.9zM106.07 71.36L107.05 73.27L105.05 73.25zM103.33 62.84L104.34 64.74L102.34 64.75zM106.07 65.2L107.05 67.11L105.05 67.09zM103.33 56.68L104.34 58.58L102.34 58.59zM106.07 59.04L107.05 60.96L105.05 60.93zM103.33 50.53L104.34 52.42L102.34 52.43zM106.07 52.89L107.05 54.8L105.05 54.78zM103.33 44.37L104.34 46.27L102.34 46.27zM106.07 46.73L107.05 48.64L105.05 48.62zM103.33 38.21L104.34 40.11L102.34 40.12zM106.07 40.57L107.05 42.48L105.05 42.46zM103.33 32.05L104.34 33.95L102.34 33.96zM106.07 34.41L107.05 36.33L105.05 36.3zM109.06 230.02L107.22 228.91L108.93 227.88zM111.82 232.36L109.9 231.41L111.52 230.23zM109.27 223.59L107.16 223.97L107.76 222.06zM111.97 226.03L109.83 226.03L110.75 224.26zM109.15 216.92L108.54 218.98L107.1 217.58zM112.01 219.48L110.51 221.02L109.89 219.12zM108.99 210.66L109.17 212.8L107.33 212.02zM111.85 213.1L111.39 215.2L109.86 213.9zM108.93 204.48L109.4 206.58L107.47 206.06zM111.75 206.88L111.81 209.02L110.01 208.14zM108.89 198.32L109.51 200.37L107.54 199.99zM111.69 200.69L112.02 202.82L110.13 202.16zM108.88 192.16L109.57 194.19L107.59 193.88zM111.66 194.53L112.13 196.62L110.2 196.1zM108.86 186L109.61 188.01L107.63 187.75zM111.64 188.36L112.21 190.43L110.25 190.01zM108.85 179.84L109.64 181.84L107.65 181.62zM111.62 182.2L112.26 184.25L110.29 183.89zM108.85 173.68L109.66 175.67L107.67 175.47zM111.61 176.04L112.3 178.08L110.32 177.76zM108.84 167.52L109.68 169.5L107.68 169.33zM111.6 169.88L112.33 171.9L110.35 171.63zM108.84 161.36L109.69 163.33L107.69 163.18zM111.59 163.73L112.35 165.74L110.36 165.49zM108.83 155.21L109.7 157.17L107.7 157.03zM111.59 157.57L112.37 159.57L110.38 159.34zM108.83 149.05L109.71 151.01L107.71 150.88zM111.58 151.41L112.38 153.4L110.39 153.2zM108.83 142.89L109.71 144.85L107.72 144.73zM111.58 145.25L112.39 147.24L110.4 147.05zM108.82 136.73L109.72 138.68L107.72 138.58zM111.57 139.09L112.4 141.07L110.41 140.9zM108.82 130.57L109.73 132.52L107.73 132.42zM111.57 132.94L112.41 134.91L110.42 134.75zM108.82 124.42L109.73 126.36L107.73 126.27zM111.57 126.78L112.42 128.75L110.43 128.6zM108.82 118.26L109.73 120.2L107.74 120.11zM111.57 120.62L112.43 122.59L110.43 122.44zM108.82 112.1L109.74 114.04L107.74 113.96zM111.56 114.46L112.43 116.43L110.44 116.29zM108.82 105.94L109.74 107.88L107.74 107.8zM111.56 108.31L112.44 110.27L110.44 110.14zM108.82 99.79L109.74 101.72L107.75 101.65zM111.56 102.15L112.44 104.11L110.45 103.98zM108.82 93.63L109.75 95.56L107.75 95.49zM111.56 95.99L112.45 97.94L110.45 97.83zM108.81 87.47L109.75 89.41L107.75 89.34zM111.56 89.83L112.45 91.78L110.45 91.68zM108.81 81.31L109.75 83.25L107.75 83.18zM111.56 83.68L112.46 85.63L110.46 85.52zM108.81 75.16L109.75 77.09L107.75 77.02zM111.56 77.52L112.46 79.47L110.46 79.37zM108.81 69L109.75 70.93L107.76 70.87zM111.55 71.36L112.46 73.31L110.46 73.21zM108.81 62.84L109.76 64.77L107.76 64.71zM111.55 65.2L112.46 67.15L110.47 67.05zM108.81 56.68L109.76 58.61L107.76 58.56zM111.55 59.05L112.47 60.99L110.47 60.9zM108.81 50.53L109.76 52.45L107.76 52.4zM111.55 52.89L112.47 54.83L110.47 54.74zM108.81 44.37L109.76 46.29L107.76 46.24zM111.55 46.73L112.47 48.67L110.47 48.59zM108.81 38.21L109.76 40.14L107.76 40.09zM111.55 40.57L112.47 42.51L110.48 42.43zM108.81 32.05L109.76 33.98L107.76 33.93zM111.55 34.41L112.48 36.35L110.48 36.27zM114.66 229.9L112.54 229.54L113.76 227.95zM117.39 232.26L115.28 231.87L116.52 230.3zM114.76 223.51L112.73 224.23L113.02 222.25zM117.48 225.94L115.37 226.35L115.95 224.44zM114.71 217.06L113.43 218.78L112.57 216.98zM117.49 219.55L115.81 220.88L115.44 218.92zM114.6 210.75L114.06 212.83L112.58 211.48zM117.41 213.2L116.4 215.1L115.28 213.44zM114.51 204.53L114.42 206.68L112.7 205.67zM117.32 206.94L116.84 209.04L115.33 207.74zM114.46 198.35L114.63 200.49L112.79 199.7zM117.26 200.74L117.13 202.88L115.42 201.85zM114.42 192.18L114.76 194.3L112.87 193.66zM117.21 194.56L117.31 196.7L115.5 195.86zM114.4 186.01L114.85 188.11L112.92 187.57zM117.17 188.38L117.44 190.52L115.57 189.81zM114.38 179.85L114.91 181.93L112.97 181.47zM117.15 182.22L117.52 184.33L115.62 183.72zM114.36 173.69L114.96 175.75L113 175.34zM117.13 176.06L117.59 178.15L115.66 177.62zM114.35 167.53L114.99 169.58L113.03 169.22zM117.12 169.89L117.64 171.98L115.69 171.5zM114.34 161.37L115.02 163.41L113.05 163.08zM117.1 163.73L117.68 165.8L115.72 165.38zM114.34 155.21L115.05 157.24L113.07 156.94zM117.09 157.57L117.71 159.63L115.75 159.25zM114.33 149.05L115.06 151.07L113.08 150.8zM117.08 151.41L117.73 153.46L115.77 153.11zM114.33 142.89L115.08 144.9L113.1 144.65zM117.08 145.26L117.76 147.29L115.78 146.97zM114.32 136.74L115.09 138.74L113.11 138.51zM117.07 139.1L117.77 141.13L115.8 140.83zM114.32 130.58L115.11 132.57L113.12 132.36zM117.07 132.94L117.79 134.96L115.81 134.68zM114.31 124.42L115.12 126.41L113.13 126.21zM117.06 126.78L117.8 128.8L115.82 128.53zM114.31 118.26L115.13 120.25L113.13 120.06zM117.06 120.62L117.82 122.63L115.83 122.39zM114.31 112.1L115.13 114.09L113.14 113.91zM117.06 114.47L117.83 116.47L115.84 116.24zM114.31 105.95L115.14 107.92L113.15 107.75zM117.05 108.31L117.84 110.31L115.85 110.09zM114.3 99.79L115.15 101.76L113.15 101.6zM117.05 102.15L117.84 104.14L115.86 103.93zM114.3 93.63L115.15 95.6L113.16 95.45zM117.05 95.99L117.85 97.98L115.86 97.78zM114.3 87.47L115.16 89.44L113.16 89.29zM117.04 89.83L117.86 91.82L115.87 91.63zM114.3 81.32L115.16 83.28L113.17 83.14zM117.04 83.68L117.87 85.66L115.87 85.48zM114.3 75.16L115.17 77.12L113.17 76.99zM117.04 77.52L117.87 79.5L115.88 79.32zM114.3 69L115.17 70.96L113.17 70.83zM117.04 71.36L117.88 73.34L115.88 73.17zM114.29 62.84L115.17 64.8L113.18 64.68zM117.04 65.2L117.88 67.18L115.89 67.02zM114.29 56.69L115.18 58.64L113.18 58.52zM117.04 59.05L117.89 61.02L115.89 60.86zM114.29 50.53L115.18 52.48L113.18 52.37zM117.03 52.89L117.89 54.86L115.9 54.71zM114.29 44.37L115.18 46.32L113.19 46.21zM117.03 46.73L117.89 48.7L115.9 48.55zM114.29 38.21L115.19 40.16L113.19 40.06zM117.03 40.57L117.9 42.54L115.9 42.4zM114.29 32.05L115.19 34L113.19 33.9zM117.03 34.42L117.9 36.38L115.91 36.24zM120.18 229.82L118.03 229.87L118.92 228.08zM122.9 232.2L120.76 232.15L121.72 230.4zM120.23 223.48L118.24 224.3L118.43 222.31zM122.95 225.9L120.89 226.49L121.3 224.53zM120.21 217.13L118.69 218.65L118.1 216.74zM122.96 219.57L121.21 220.81L120.95 218.83zM120.14 210.83L119.17 212.75L118.01 211.12zM122.92 213.27L121.63 214.99L120.77 213.18zM120.06 204.59L119.54 206.67L118.05 205.34zM122.85 207.01L122.01 208.98L120.75 207.44zM120.01 198.39L119.8 200.53L118.13 199.43zM122.79 200.79L122.31 202.88L120.79 201.57zM119.96 192.21L119.97 194.35L118.2 193.43zM122.74 194.59L122.52 196.73L120.86 195.62zM119.93 186.03L120.1 188.17L118.26 187.38zM122.7 188.41L122.68 190.56L120.92 189.61zM119.9 179.86L120.19 181.99L118.31 181.3zM122.67 182.24L122.79 184.38L120.97 183.55zM119.88 173.7L120.26 175.81L118.35 175.21zM122.65 176.07L122.88 178.21L121.02 177.47zM119.87 167.54L120.31 169.64L118.39 169.09zM122.63 169.91L122.95 172.03L121.06 171.37zM119.85 161.38L120.36 163.46L118.42 162.97zM122.61 163.74L123 165.86L121.09 165.26zM119.84 155.22L120.39 157.29L118.44 156.84zM122.6 157.58L123.05 159.68L121.12 159.14zM119.83 149.06L120.42 151.12L118.46 150.71zM122.59 151.42L123.09 153.51L121.15 153.01zM119.83 142.9L120.45 144.95L118.48 144.57zM122.58 145.26L123.12 147.34L121.17 146.88zM119.82 136.74L120.47 138.79L118.5 138.43zM122.57 139.1L123.14 141.17L121.19 140.75zM119.81 130.58L120.48 132.62L118.51 132.29zM122.56 132.94L123.17 135.01L121.21 134.61zM119.81 124.42L120.5 126.46L118.53 126.14zM122.56 126.79L123.19 128.84L121.22 128.47zM119.8 118.26L120.51 120.29L118.54 120zM122.55 120.63L123.2 122.67L121.23 122.32zM119.8 112.11L120.53 114.13L118.55 113.85zM122.55 114.47L123.22 116.51L121.25 116.18zM119.8 105.95L120.54 107.96L118.56 107.7zM122.54 108.31L123.23 110.34L121.26 110.03zM119.79 99.79L120.55 101.8L118.56 101.55zM122.54 102.15L123.25 104.18L121.27 103.88zM119.79 93.63L120.56 95.64L118.57 95.4zM122.54 95.99L123.26 98.02L121.28 97.73zM119.79 87.47L120.57 89.48L118.58 89.25zM122.53 89.84L123.27 91.85L121.28 91.58zM119.78 81.32L120.57 83.31L118.58 83.1zM122.53 83.68L123.28 85.69L121.29 85.43zM119.78 75.16L120.58 77.15L118.59 76.95zM122.53 77.52L123.28 79.53L121.3 79.28zM119.78 69L120.59 70.99L118.6 70.79zM122.52 71.36L123.29 73.37L121.31 73.13zM119.78 62.84L120.59 64.83L118.6 64.64zM122.52 65.21L123.3 67.21L121.31 66.98zM119.78 56.69L120.6 58.67L118.61 58.49zM122.52 59.05L123.3 61.05L121.32 60.83zM119.78 50.53L120.6 52.51L118.61 52.33zM122.52 52.89L123.31 54.89L121.32 54.67zM119.77 44.37L120.61 46.35L118.61 46.18zM122.52 46.73L123.32 48.72L121.33 48.52zM119.77 38.21L120.61 40.19L118.62 40.02zM122.51 40.57L123.32 42.56L121.33 42.37zM119.77 32.06L120.61 34.03L118.62 33.87zM122.51 34.42L123.33 36.4L121.34 36.21zM125.67 229.77L123.54 230.05L124.23 228.17zM128.39 232.15L126.26 232.33L127.04 230.49zM125.7 223.47L123.73 224.34L123.87 222.34zM128.43 225.88L126.39 226.56L126.71 224.59zM125.69 217.17L124.06 218.57L123.61 216.62zM128.43 219.59L126.64 220.77L126.44 218.78zM125.64 210.89L124.43 212.66L123.5 210.89zM128.4 213.31L126.96 214.9L126.28 213.02zM125.59 204.65L124.75 206.63L123.48 205.08zM128.36 207.06L127.28 208.92L126.22 207.22zM125.53 198.43L125.01 200.52L123.52 199.19zM128.31 200.84L127.55 202.84L126.22 201.35zM125.49 192.24L125.21 194.37L123.58 193.22zM128.26 194.63L127.77 196.72L126.26 195.41zM125.45 186.06L125.36 188.2L123.63 187.2zM128.22 188.44L127.94 190.57L126.31 189.42zM125.42 179.89L125.47 182.03L123.68 181.14zM128.19 182.27L128.08 184.41L126.36 183.38zM125.4 173.72L125.56 175.86L123.73 175.06zM128.16 176.09L128.18 178.24L126.4 177.32zM125.38 167.55L125.63 169.68L123.76 168.97zM128.14 169.92L128.27 172.07L126.45 171.24zM125.36 161.39L125.69 163.51L123.8 162.86zM128.12 163.76L128.33 165.9L126.48 165.14zM125.35 155.23L125.74 157.34L123.83 156.74zM128.11 157.6L128.39 159.72L126.51 159.03zM125.34 149.07L125.78 151.17L123.85 150.62zM128.09 151.43L128.44 153.55L126.54 152.92zM125.33 142.91L125.81 145L123.88 144.49zM128.08 145.27L128.48 147.38L126.57 146.79zM125.32 136.75L125.84 138.83L123.9 138.35zM128.07 139.11L128.51 141.21L126.59 140.67zM125.31 130.59L125.86 132.66L123.91 132.22zM128.06 132.95L128.54 135.04L126.61 134.53zM125.3 124.43L125.89 126.49L123.93 126.08zM128.05 126.79L128.57 128.88L126.63 128.4zM125.3 118.27L125.9 120.33L123.94 119.94zM128.05 120.63L128.59 122.71L126.64 122.26zM125.29 112.11L125.92 114.16L123.96 113.79zM128.04 114.47L128.61 116.54L126.66 116.12zM125.29 105.95L125.94 108L123.97 107.65zM128.04 108.32L128.63 110.38L126.67 109.97zM125.28 99.79L125.95 101.83L123.98 101.5zM128.03 102.16L128.65 104.21L126.68 103.83zM125.28 93.64L125.96 95.67L123.99 95.35zM128.03 96L128.66 98.05L126.69 97.68zM125.28 87.48L125.97 89.51L124 89.2zM128.02 89.84L128.67 91.89L126.7 91.54zM125.27 81.32L125.98 83.35L124.01 83.05zM128.02 83.68L128.69 85.72L126.71 85.39zM125.27 75.16L125.99 77.18L124.01 76.9zM128.02 77.52L128.7 79.56L126.72 79.24zM125.27 69L126 71.02L124.02 70.75zM128.01 71.37L128.71 73.4L126.73 73.09zM125.26 62.85L126.01 64.86L124.03 64.6zM128.01 65.21L128.72 67.23L126.74 66.94zM125.26 56.69L126.02 58.7L124.03 58.45zM128.01 59.05L128.72 61.07L126.74 60.79zM125.26 50.53L126.02 52.54L124.04 52.3zM128 52.89L128.73 54.91L126.75 54.64zM125.26 44.37L126.03 46.38L124.04 46.14zM128 46.73L128.74 48.75L126.76 48.48zM125.26 38.21L126.04 40.22L124.05 39.99zM128 40.58L128.75 42.59L126.76 42.33zM125.25 32.06L126.04 34.05L124.05 33.84zM128 34.42L128.75 36.43L126.77 36.18zM131.15 229.73L129.05 230.17L129.6 228.24zM133.88 232.12L131.76 232.45L132.41 230.55zM131.17 223.46L129.22 224.36L129.33 222.36zM133.9 225.86L131.89 226.61L132.15 224.62zM131.16 217.19L129.47 218.51L129.12 216.54zM133.9 219.6L132.09 220.75L131.93 218.76zM131.13 210.93L129.76 212.58L128.99 210.73zM133.89 213.34L132.35 214.84L131.78 212.92zM131.09 204.69L130.04 206.57L128.95 204.89zM133.85 207.1L132.61 208.85L131.71 207.06zM131.04 198.48L130.28 200.48L128.96 198.99zM133.81 200.88L132.85 202.8L131.69 201.17zM131 192.28L130.48 194.36L128.99 193.03zM133.77 194.67L133.06 196.7L131.7 195.23zM130.97 186.09L130.64 188.21L129.03 187.02zM133.74 188.48L133.24 190.56L131.73 189.25zM130.94 179.91L130.77 182.05L129.08 180.99zM133.7 182.29L133.38 184.41L131.77 183.23zM130.91 173.74L130.87 175.89L129.12 174.92zM133.68 176.12L133.5 178.26L131.81 177.18zM130.89 167.57L130.96 169.72L129.16 168.84zM133.65 169.94L133.59 172.09L131.85 171.11zM130.87 161.4L131.03 163.54L129.19 162.75zM133.63 163.78L133.67 165.92L131.88 165.03zM130.85 155.24L131.09 157.37L129.23 156.64zM133.61 157.61L133.74 159.75L131.92 158.93zM130.84 149.08L131.13 151.2L129.25 150.52zM133.6 151.45L133.8 153.58L131.95 152.82zM130.83 142.91L131.18 145.03L129.28 144.4zM133.58 145.28L133.84 147.41L131.97 146.7zM130.82 136.75L131.21 138.86L129.3 138.27zM133.57 139.12L133.89 141.24L132 140.58zM130.81 130.59L131.24 132.7L129.32 132.14zM133.56 132.96L133.92 135.08L132.02 134.45zM130.8 124.43L131.27 126.53L129.34 126.01zM133.55 126.8L133.95 128.91L132.04 128.32zM130.79 118.27L131.3 120.36L129.36 119.87zM133.54 120.64L133.98 122.74L132.06 122.19zM130.79 112.12L131.32 114.2L129.37 113.73zM133.54 114.48L134.01 116.57L132.08 116.05zM130.78 105.96L131.34 108.03L129.39 107.59zM133.53 108.32L134.03 110.41L132.09 109.91zM130.78 99.8L131.35 101.87L129.4 101.44zM133.52 102.16L134.05 104.24L132.1 103.77zM130.77 93.64L131.37 95.7L129.41 95.3zM133.52 96L134.07 98.08L132.12 97.63zM130.77 87.48L131.38 89.54L129.42 89.15zM133.51 89.84L134.08 91.91L132.13 91.48zM130.76 81.32L131.4 83.37L129.43 83.01zM133.51 83.69L134.1 85.75L132.14 85.34zM130.76 75.16L131.41 77.21L129.44 76.86zM133.5 77.53L134.11 79.59L132.15 79.19zM130.75 69.01L131.42 71.05L129.45 70.71zM133.5 71.37L134.12 73.42L132.16 73.04zM130.75 62.85L131.43 64.89L129.46 64.56zM133.5 65.21L134.13 67.26L132.17 66.9zM130.75 56.69L131.44 58.72L129.46 58.41zM133.49 59.05L134.14 61.1L132.18 60.75zM130.75 50.53L131.45 52.56L129.47 52.26zM133.49 52.89L134.15 54.94L132.18 54.6zM130.74 44.37L131.45 46.4L129.48 46.11zM133.49 46.74L134.16 48.77L132.19 48.45zM130.74 38.22L131.46 40.24L129.48 39.96zM133.49 40.58L134.17 42.61L132.2 42.3zM130.74 32.06L131.47 34.08L129.49 33.8zM133.48 34.42L134.18 36.45L132.2 36.15zM136.63 229.71L134.55 230.24L135.01 228.3zM139.36 232.09L137.26 232.53L137.81 230.61zM136.64 223.46L134.7 224.37L134.79 222.37zM139.38 225.85L137.38 226.64L137.6 224.65zM136.64 217.21L134.9 218.47L134.61 216.5zM139.38 219.61L137.55 220.73L137.41 218.74zM136.62 210.96L135.14 212.52L134.49 210.63zM139.37 213.36L137.76 214.79L137.28 212.85zM136.58 204.73L135.38 206.51L134.44 204.74zM139.34 207.13L137.98 208.79L137.2 206.95zM136.55 198.51L135.6 200.44L134.42 198.82zM139.31 200.91L138.2 202.75L137.16 201.03zM136.51 192.31L135.79 194.33L134.44 192.86zM139.27 194.7L138.39 196.66L137.16 195.08zM136.48 186.12L135.95 188.2L134.46 186.87zM139.24 188.51L138.56 190.54L137.18 189.1zM136.45 179.94L136.09 182.05L134.5 180.84zM139.21 182.32L138.71 184.41L137.2 183.09zM136.42 173.76L136.2 175.9L134.54 174.79zM139.18 176.14L138.83 178.26L137.24 177.05zM136.4 167.59L136.29 169.73L134.57 168.72zM139.16 169.96L138.93 172.1L137.27 170.99zM136.38 161.42L136.37 163.57L134.6 162.63zM139.14 163.79L139.02 165.94L137.3 164.91zM136.36 155.25L136.44 157.4L134.64 156.53zM139.12 157.62L139.09 159.77L137.33 158.82zM136.34 149.09L136.5 151.23L134.66 150.43zM139.1 151.46L139.16 153.61L137.36 152.72zM136.33 142.93L136.55 145.06L134.69 144.31zM139.09 145.29L139.21 147.44L137.39 146.61zM136.32 136.76L136.59 138.89L134.71 138.19zM139.07 139.13L139.26 141.27L137.42 140.5zM136.31 130.6L136.62 132.73L134.74 132.07zM139.06 132.97L139.3 135.1L137.44 134.38zM136.3 124.44L136.66 126.56L134.76 125.94zM139.05 126.81L139.34 128.94L137.46 128.25zM136.29 118.28L136.69 120.39L134.78 119.8zM139.04 120.65L139.37 122.77L137.48 122.12zM136.28 112.12L136.71 114.23L134.79 113.67zM139.03 114.49L139.4 116.6L137.5 115.99zM136.28 105.96L136.74 108.06L134.81 107.53zM139.03 108.33L139.43 110.44L137.51 109.85zM136.27 99.8L136.76 101.89L134.82 101.39zM139.02 102.17L139.45 104.27L137.53 103.71zM136.26 93.64L136.78 95.73L134.83 95.25zM139.01 96.01L139.47 98.1L137.54 97.57zM136.26 87.49L136.79 89.56L134.85 89.1zM139.01 89.85L139.49 91.94L137.56 91.43zM136.25 81.33L136.81 83.4L134.86 82.96zM139 83.69L139.51 85.78L137.57 85.29zM136.25 75.17L136.82 77.24L134.87 76.81zM139 77.53L139.52 79.61L137.58 79.14zM136.24 69.01L136.84 71.07L134.88 70.67zM138.99 71.37L139.54 73.45L137.59 73zM136.24 62.85L136.85 64.91L134.89 64.52zM138.99 65.21L139.55 67.29L137.6 66.85zM136.24 56.69L136.86 58.75L134.9 58.37zM138.98 59.06L139.57 61.12L137.61 60.71zM136.23 50.54L136.87 52.59L134.9 52.22zM138.98 52.9L139.58 54.96L137.62 54.56zM136.23 44.38L136.88 46.42L134.91 46.07zM138.98 46.74L139.59 48.8L137.63 48.41zM136.23 38.22L136.89 40.26L134.92 39.92zM138.97 40.58L139.6 42.63L137.63 42.26zM136.23 32.06L136.9 34.1L134.92 33.77zM138.97 34.42L139.61 36.47L137.64 36.11zM142.11 229.69L140.05 230.3L140.44 228.34zM144.84 232.07L142.76 232.59L143.24 230.65zM142.12 223.46L140.18 224.38L140.26 222.38zM144.85 225.84L142.87 226.66L143.05 224.67zM142.11 217.22L140.35 218.45L140.1 216.46zM144.85 219.61L143.02 220.72L142.9 218.72zM142.1 210.98L140.55 212.47L139.99 210.55zM144.84 213.38L143.19 214.75L142.78 212.79zM142.07 204.76L140.76 206.45L139.93 204.63zM144.82 207.15L143.38 208.74L142.7 206.86zM142.04 198.54L140.95 200.39L139.9 198.69zM144.8 200.94L143.57 202.7L142.65 200.92zM142.01 192.34L141.13 194.3L139.9 192.73zM144.77 194.73L143.75 196.62L142.63 194.96zM141.98 186.15L141.29 188.18L139.91 186.73zM144.74 188.53L143.91 190.51L142.64 188.97zM141.95 179.96L141.43 182.04L139.94 180.71zM144.71 182.35L144.05 184.39L142.65 182.96zM141.92 173.78L141.54 175.9L139.97 174.66zM144.69 176.16L144.18 178.25L142.68 176.92zM141.9 167.61L141.64 169.74L140 168.6zM144.66 169.99L144.28 172.1L142.71 170.87zM141.88 161.44L141.73 163.58L140.03 162.52zM144.64 163.81L144.37 165.94L142.73 164.8zM141.86 155.27L141.8 157.41L140.06 156.43zM144.62 157.64L144.45 159.78L142.76 158.72zM141.85 149.1L141.86 151.25L140.09 150.33zM144.6 151.47L144.52 153.62L142.79 152.62zM141.83 142.94L141.92 145.08L140.11 144.22zM144.59 145.31L144.59 147.45L142.82 146.52zM141.82 136.77L141.97 138.92L140.14 138.11zM144.57 139.14L144.64 141.29L142.84 140.41zM141.81 130.61L142.01 132.75L140.16 131.99zM144.56 132.98L144.69 135.12L142.86 134.3zM141.8 124.45L142.05 126.58L140.18 125.86zM144.55 126.82L144.73 128.96L142.89 128.17zM141.79 118.29L142.08 120.42L140.2 119.73zM144.54 120.66L144.76 122.79L142.91 122.05zM141.78 112.13L142.11 114.25L140.22 113.6zM144.53 114.49L144.8 116.62L142.93 115.92zM141.77 105.97L142.14 108.08L140.23 107.47zM144.52 108.33L144.83 110.46L142.94 109.79zM141.76 99.81L142.16 101.92L140.25 101.33zM144.51 102.17L144.85 104.29L142.96 103.65zM141.76 93.65L142.18 95.75L140.26 95.19zM144.51 96.01L144.88 98.13L142.97 97.52zM141.75 87.49L142.2 89.59L140.28 89.05zM144.5 89.85L144.9 91.96L142.99 91.38zM141.75 81.33L142.22 83.42L140.29 82.91zM144.49 83.69L144.92 85.8L143 85.24zM141.74 75.17L142.24 77.26L140.3 76.77zM144.49 77.54L144.94 79.63L143.01 79.1zM141.74 69.01L142.25 71.1L140.31 70.62zM144.48 71.38L144.96 73.47L143.03 72.95zM141.73 62.86L142.27 64.93L140.32 64.47zM144.48 65.22L144.97 67.31L143.04 66.81zM141.73 56.7L142.28 58.77L140.33 58.33zM144.47 59.06L144.99 61.14L143.05 60.66zM141.72 50.54L142.29 52.61L140.34 52.18zM144.47 52.9L145 54.98L143.06 54.52zM141.72 44.38L142.31 46.45L140.35 46.03zM144.47 46.74L145.01 48.82L143.07 48.37zM141.72 38.22L142.32 40.28L140.36 39.88zM144.46 40.58L145.03 42.66L143.07 42.22zM141.71 32.06L142.33 34.12L140.36 33.73zM144.46 34.43L145.04 36.49L143.08 36.07zM147.59 229.68L145.54 230.34L145.89 228.37zM150.32 232.06L148.25 232.64L148.67 230.68zM147.59 223.45L145.66 224.39L145.73 222.39zM150.33 225.84L148.35 226.68L148.52 224.69zM147.59 217.22L145.81 218.43L145.59 216.44zM150.33 219.61L148.48 220.71L148.38 218.71zM147.58 211L145.98 212.43L145.49 210.49zM150.32 213.39L148.64 214.72L148.27 212.75zM147.56 204.78L146.16 206.41L145.42 204.55zM150.31 207.17L148.8 208.7L148.19 206.8zM147.53 198.57L146.33 200.35L145.39 198.59zM150.29 200.96L148.97 202.66L148.14 200.83zM147.51 192.37L146.5 194.26L145.37 192.61zM150.26 194.76L149.13 196.58L148.12 194.86zM147.48 186.17L146.65 188.15L145.38 186.61zM150.24 188.56L149.28 190.48L148.11 188.86zM147.45 179.99L146.78 182.03L145.39 180.59zM150.21 182.37L149.42 184.36L148.12 182.84zM147.43 173.81L146.9 175.89L145.41 174.55zM150.19 176.19L149.54 178.23L148.13 176.81zM147.4 167.63L147 169.74L145.44 168.49zM150.16 170.01L149.65 172.09L148.15 170.76zM147.38 161.46L147.09 163.58L145.46 162.42zM150.14 163.83L149.74 165.94L148.18 164.69zM147.37 155.29L147.17 157.42L145.49 156.33zM150.12 157.66L149.83 159.79L148.2 158.62zM147.35 149.12L147.24 151.26L145.52 150.24zM150.11 151.49L149.9 153.63L148.23 152.53zM147.33 142.95L147.3 145.1L145.54 144.14zM150.09 145.32L149.96 147.46L148.25 146.43zM147.32 136.79L147.35 138.93L145.57 138.03zM150.07 139.16L150.02 141.3L148.28 140.33zM147.31 130.62L147.4 132.77L145.59 131.91zM150.06 132.99L150.07 135.14L148.3 134.22zM147.3 124.46L147.44 126.6L145.61 125.79zM150.05 126.83L150.12 128.97L148.32 128.1zM147.29 118.3L147.48 120.44L145.63 119.67zM150.04 120.66L150.16 122.81L148.34 121.98zM147.28 112.14L147.51 114.27L145.65 113.54zM150.03 114.5L150.2 116.64L148.36 115.85zM147.27 105.98L147.54 108.11L145.67 107.41zM150.02 108.34L150.23 110.48L148.38 109.73zM147.26 99.82L147.57 101.94L145.68 101.27zM150.01 102.18L150.26 104.31L148.39 103.59zM147.25 93.66L147.59 95.78L145.7 95.14zM150 96.02L150.29 98.15L148.41 97.46zM147.25 87.5L147.62 89.61L145.71 89zM150 89.86L150.31 91.98L148.43 91.32zM147.24 81.34L147.64 83.45L145.73 82.86zM149.99 83.7L150.34 85.82L148.44 85.19zM147.23 75.18L147.66 77.28L145.74 76.72zM149.98 77.54L150.36 79.65L148.45 79.05zM147.23 69.02L147.67 71.12L145.75 70.57zM149.98 71.38L150.38 73.49L148.47 72.91zM147.22 62.86L147.69 64.95L145.76 64.43zM149.97 65.22L150.4 67.33L148.48 66.76zM147.22 56.7L147.71 58.79L145.77 58.29zM149.97 59.06L150.41 61.16L148.49 60.62zM147.21 50.54L147.72 52.63L145.78 52.14zM149.96 52.9L150.43 55L148.5 54.47zM147.21 44.38L147.73 46.47L145.79 45.99zM149.96 46.75L150.44 48.84L148.51 48.33zM147.21 38.23L147.75 40.3L145.8 39.85zM149.95 40.59L150.46 42.68L148.52 42.18zM147.2 32.07L147.76 34.14L145.81 33.7zM149.95 34.43L150.47 36.51L148.53 36.04zM153.06 229.67L151.03 230.37L151.34 228.39zM155.8 232.05L153.75 232.67L154.12 230.71zM153.07 223.45L151.14 224.4L151.2 222.4zM155.81 225.83L153.84 226.69L153.99 224.7zM153.07 217.23L151.27 218.41L151.08 216.42zM155.81 219.62L153.96 220.7L153.87 218.7zM153.06 211.01L151.42 212.4L150.99 210.45zM155.8 213.4L154.09 214.7L153.77 212.72zM153.04 204.8L151.58 206.37L150.92 204.48zM155.79 207.19L154.24 208.67L153.69 206.74zM153.02 198.59L151.73 200.31L150.88 198.5zM155.77 200.98L154.38 202.62L153.64 200.76zM153 192.39L151.88 194.23L150.86 192.51zM155.75 194.78L154.53 196.54L153.61 194.77zM152.97 186.2L152.03 188.12L150.85 186.51zM155.73 188.58L154.67 190.45L153.59 188.76zM152.95 180.01L152.15 182L150.86 180.48zM155.71 182.39L154.8 184.34L153.59 182.74zM152.93 173.83L152.27 175.87L150.87 174.44zM155.69 176.21L154.92 178.21L153.6 176.71zM152.91 167.65L152.37 169.73L150.89 168.39zM155.66 170.03L155.02 172.08L153.61 170.66zM152.89 161.47L152.46 163.58L150.91 162.32zM155.64 163.85L155.12 165.93L153.63 164.6zM152.87 155.3L152.54 157.42L150.93 156.24zM155.62 157.68L155.21 159.78L153.65 158.52zM152.85 149.13L152.62 151.27L150.96 150.15zM155.61 151.5L155.28 153.63L153.67 152.44zM152.83 142.96L152.68 145.11L150.98 144.05zM155.59 145.34L155.35 147.47L153.7 146.35zM152.82 136.8L152.74 138.94L151 137.95zM155.58 139.17L155.41 141.31L153.72 140.25zM152.81 130.63L152.79 132.78L151.03 131.83zM155.56 133L155.47 135.15L153.74 134.14zM152.8 124.47L152.83 126.62L151.05 125.72zM155.55 126.84L155.52 128.99L153.76 128.03zM152.78 118.31L152.87 120.45L151.07 119.6zM155.54 120.67L155.56 122.82L153.78 121.91zM152.77 112.15L152.91 114.29L151.09 113.47zM155.53 114.51L155.6 116.66L153.8 115.79zM152.76 105.98L152.95 108.12L151.1 107.34zM155.52 108.35L155.64 110.49L153.82 109.66zM152.76 99.82L152.98 101.96L151.12 101.21zM155.51 102.19L155.67 104.33L153.83 103.53zM152.75 93.66L153 95.79L151.14 95.08zM155.5 96.03L155.7 98.17L153.85 97.4zM152.74 87.5L153.03 89.63L151.15 88.94zM155.49 89.87L155.73 92L153.87 91.27zM152.73 81.34L153.05 83.47L151.17 82.81zM155.49 83.71L155.75 85.84L153.88 85.13zM152.73 75.18L153.08 77.3L151.18 76.67zM155.48 77.55L155.78 79.67L153.89 79zM152.72 69.02L153.1 71.14L151.19 70.53zM155.47 71.39L155.8 73.51L153.91 72.86zM152.72 62.86L153.11 64.97L151.2 64.39zM155.47 65.23L155.82 67.35L153.92 66.72zM152.71 56.7L153.13 58.81L151.21 58.24zM155.46 59.07L155.84 61.18L153.93 60.57zM152.71 50.55L153.15 52.65L151.22 52.1zM155.46 52.91L155.85 55.02L153.94 54.43zM152.7 44.39L153.16 46.48L151.23 45.95zM155.45 46.75L155.87 48.86L153.95 48.29zM152.7 38.23L153.18 40.32L151.24 39.81zM155.45 40.59L155.89 42.69L153.96 42.14zM152.7 32.07L153.19 34.16L151.25 33.66zM155.44 34.43L155.9 36.53L153.97 36zM158.54 229.66L156.53 230.39L156.8 228.41zM161.28 232.04L159.24 232.7L159.58 230.73zM158.55 223.45L156.62 224.4L156.68 222.4zM161.29 225.83L159.33 226.7L159.46 224.71zM158.55 217.24L156.74 218.4L156.57 216.4zM161.29 219.62L159.43 220.7L159.35 218.7zM158.54 211.02L156.87 212.38L156.48 210.41zM161.28 213.41L159.55 214.68L159.26 212.7zM158.53 204.82L157.01 206.34L156.42 204.43zM161.27 207.2L159.68 208.64L159.19 206.7zM158.51 198.61L157.15 200.27L156.37 198.43zM161.26 201L159.81 202.58L159.13 200.7zM158.49 192.41L157.29 194.19L156.34 192.43zM161.24 194.8L159.95 196.51L159.1 194.7zM158.47 186.22L157.42 188.09L156.33 186.42zM161.22 188.6L160.07 190.42L159.08 188.68zM158.45 180.03L157.54 181.98L156.33 180.39zM161.2 182.41L160.2 184.31L159.07 182.66zM158.43 173.85L157.65 175.85L156.34 174.35zM161.18 176.23L160.31 178.19L159.07 176.62zM158.41 167.67L157.76 169.71L156.35 168.29zM161.16 170.05L160.41 172.06L159.08 170.57zM158.39 161.49L157.85 163.57L156.37 162.22zM161.14 163.87L160.51 165.92L159.09 164.51zM158.37 155.32L157.93 157.42L156.39 156.15zM161.12 157.69L160.59 159.77L159.11 158.43zM158.35 149.15L158 151.27L156.41 150.06zM161.11 151.52L160.67 153.62L159.13 152.35zM158.34 142.98L158.07 145.11L156.43 143.97zM161.09 145.35L160.74 147.47L159.15 146.26zM158.32 136.81L158.13 138.95L156.45 137.87zM161.08 139.18L160.81 141.31L159.17 140.17zM158.31 130.65L158.18 132.79L156.47 131.76zM161.06 133.02L160.86 135.15L159.19 134.06zM158.29 124.48L158.23 126.63L156.49 125.65zM161.05 126.85L160.92 128.99L159.21 127.95zM158.28 118.32L158.28 120.46L156.51 119.53zM161.04 120.69L160.96 122.83L159.23 121.84zM158.27 112.15L158.32 114.3L156.53 113.41zM161.03 114.52L161.01 116.67L159.25 115.72zM158.26 105.99L158.35 108.14L156.55 107.28zM161.02 108.36L161.05 110.51L159.26 109.6zM158.25 99.83L158.39 101.97L156.56 101.15zM161.01 102.2L161.08 104.34L159.28 103.47zM158.25 93.67L158.42 95.81L156.58 95.02zM161 96.04L161.11 98.18L159.3 97.34zM158.24 87.51L158.45 89.65L156.59 88.89zM160.99 89.87L161.14 92.02L159.31 91.21zM158.23 81.35L158.47 83.48L156.61 82.75zM160.98 83.71L161.17 85.85L159.33 85.08zM158.22 75.19L158.5 77.32L156.62 76.62zM160.98 77.55L161.2 79.69L159.34 78.95zM158.22 69.03L158.52 71.15L156.64 70.48zM160.97 71.39L161.22 73.53L159.35 72.81zM158.21 62.87L158.54 64.99L156.65 64.34zM160.96 65.23L161.24 67.36L159.37 66.67zM158.21 56.71L158.56 58.83L156.66 58.2zM160.96 59.07L161.26 61.2L159.38 60.53zM158.2 50.55L158.58 52.66L156.67 52.06zM160.95 52.91L161.28 55.04L159.39 54.39zM158.2 44.39L158.59 46.5L156.68 45.91zM160.95 46.75L161.3 48.87L159.4 48.25zM158.19 38.23L158.61 40.34L156.69 39.77zM160.94 40.6L161.32 42.71L159.41 42.1zM158.19 32.07L158.62 34.18L156.7 33.62zM160.94 34.44L161.33 36.55L159.42 35.96zM164.03 229.66L162.02 230.41L162.27 228.43zM166.77 232.03L164.73 232.73L165.04 230.75zM164.03 223.45L162.11 224.4L162.15 222.4zM166.77 225.83L164.81 226.71L164.93 224.72zM164.03 217.24L162.21 218.38L162.06 216.39zM166.77 219.62L164.91 220.69L164.84 218.69zM164.02 211.03L162.33 212.35L161.98 210.38zM166.77 213.42L165.02 214.66L164.75 212.68zM164.01 204.83L162.45 206.31L161.91 204.38zM166.76 207.21L165.13 208.61L164.68 206.67zM164 198.63L162.58 200.24L161.87 198.37zM166.75 201.01L165.25 202.55L164.63 200.65zM163.98 192.43L162.71 194.16L161.83 192.36zM166.73 194.81L165.37 196.48L164.59 194.64zM163.96 186.24L162.83 188.06L161.82 186.34zM166.71 188.62L165.49 190.39L164.57 188.61zM163.94 180.05L162.94 181.95L161.81 180.3zM166.7 182.43L165.61 184.28L164.55 182.58zM163.92 173.87L163.05 175.83L161.81 174.26zM166.68 176.25L165.71 178.16L164.55 176.54zM163.9 167.69L163.15 169.7L161.82 168.2zM166.66 170.06L165.81 172.04L164.55 170.49zM163.89 161.51L163.24 163.56L161.83 162.14zM166.64 163.89L165.91 165.9L164.56 164.42zM163.87 155.34L163.32 157.41L161.85 156.06zM166.62 157.71L165.99 159.76L164.58 158.35zM163.85 149.16L163.4 151.26L161.87 149.98zM166.61 151.54L166.07 153.62L164.59 152.27zM163.84 142.99L163.47 145.11L161.88 143.89zM166.59 145.37L166.14 147.47L164.61 146.18zM163.82 136.83L163.53 138.95L161.9 137.79zM166.58 139.2L166.21 141.31L164.62 140.09zM163.81 130.66L163.59 132.79L161.92 131.68zM166.56 133.03L166.27 135.16L164.64 133.99zM163.8 124.49L163.64 126.63L161.94 125.57zM166.55 126.86L166.32 129L164.66 127.88zM163.78 118.33L163.68 120.47L161.96 119.46zM166.54 120.7L166.37 122.84L164.68 121.77zM163.77 112.16L163.73 114.31L161.98 113.34zM166.53 114.53L166.42 116.68L164.7 115.66zM163.76 106L163.77 108.15L161.99 107.22zM166.52 108.37L166.46 110.51L164.71 109.54zM163.75 99.84L163.8 101.99L162.01 101.09zM166.51 102.21L166.5 104.35L164.73 103.41zM163.74 93.68L163.83 95.82L162.03 94.97zM166.5 96.04L166.53 98.19L164.75 97.29zM163.74 87.52L163.86 89.66L162.04 88.84zM166.49 89.88L166.56 92.03L164.76 91.16zM163.73 81.36L163.89 83.5L162.06 82.7zM166.48 83.72L166.59 85.86L164.78 85.03zM163.72 75.19L163.92 77.33L162.07 76.57zM166.47 77.56L166.62 79.7L164.79 78.89zM163.72 69.03L163.94 71.17L162.08 70.43zM166.47 71.4L166.65 73.54L164.8 72.76zM163.71 62.87L163.96 65.01L162.1 64.29zM166.46 65.24L166.67 67.38L164.82 66.62zM163.7 56.71L163.99 58.84L162.11 58.15zM166.45 59.08L166.69 61.21L164.83 60.48zM163.7 50.56L164.01 52.68L162.12 52.01zM166.45 52.92L166.71 55.05L164.84 54.34zM163.69 44.4L164.02 46.52L162.13 45.87zM166.44 46.76L166.73 48.89L164.85 48.2zM163.69 38.24L164.04 40.35L162.14 39.73zM166.44 40.6L166.75 42.72L164.86 42.06zM163.68 32.08L164.06 34.19L162.15 33.58zM166.43 34.44L166.77 36.56L164.87 35.92zM169.51 229.65L167.51 230.43L167.74 228.44zM172.25 232.03L170.23 232.75L170.51 230.77zM169.51 223.45L167.59 224.41L167.63 222.41zM172.25 225.82L170.3 226.72L170.41 224.72zM169.51 217.24L167.69 218.38L167.55 216.38zM172.25 219.62L170.39 220.69L170.32 218.69zM169.51 211.04L167.79 212.33L167.47 210.36zM172.25 213.42L170.49 214.64L170.24 212.66zM169.5 204.84L167.9 206.28L167.41 204.34zM172.24 207.22L170.59 208.59L170.18 206.64zM169.49 198.64L168.02 200.21L167.36 198.32zM172.23 201.02L170.7 202.53L170.13 200.61zM169.47 192.45L168.14 194.13L167.33 192.3zM172.22 194.83L170.81 196.45L170.09 194.58zM169.45 186.26L168.25 188.03L167.31 186.27zM172.21 188.64L170.92 190.36L170.06 188.55zM169.44 180.07L168.36 181.92L167.3 180.23zM172.19 182.45L171.03 184.25L170.04 182.51zM169.42 173.89L168.46 175.81L167.29 174.18zM172.17 176.26L171.13 178.14L170.04 176.47zM169.4 167.7L168.56 169.68L167.3 168.12zM172.16 170.08L171.23 172.02L170.03 170.41zM169.38 161.53L168.64 163.54L167.3 162.06zM172.14 163.9L171.32 165.89L170.04 164.35zM169.37 155.35L168.73 157.4L167.32 155.98zM172.12 157.73L171.4 159.75L170.05 158.28zM169.35 149.18L168.8 151.25L167.33 149.9zM172.11 151.55L171.48 153.61L170.06 152.2zM169.34 143.01L168.87 145.1L167.35 143.81zM172.09 145.38L171.55 147.46L170.07 146.11zM169.32 136.84L168.93 138.95L167.36 137.72zM172.08 139.21L171.62 141.31L170.09 140.02zM169.31 130.67L168.99 132.79L167.38 131.61zM172.06 133.04L171.68 135.15L170.1 133.92zM169.3 124.5L169.05 126.64L167.4 125.51zM172.05 126.87L171.73 129L170.12 127.81zM169.28 118.34L169.09 120.48L167.41 119.39zM172.04 120.71L171.78 122.84L170.14 121.7zM169.27 112.17L169.14 114.32L167.43 113.28zM172.03 114.54L171.83 116.68L170.15 115.59zM169.26 106.01L169.18 108.16L167.45 107.16zM172.02 108.38L171.87 110.52L170.17 109.47zM169.25 99.85L169.22 101.99L167.46 101.04zM172.01 102.22L171.91 104.36L170.19 103.35zM169.24 93.69L169.25 95.83L167.48 94.91zM172 96.05L171.95 98.2L170.2 97.23zM169.24 87.52L169.29 89.67L167.49 88.78zM171.99 89.89L171.98 92.04L170.22 91.1zM169.23 81.36L169.32 83.51L167.51 82.65zM171.98 83.73L172.02 85.88L170.23 84.97zM169.22 75.2L169.34 77.35L167.52 76.52zM171.97 77.57L172.05 79.71L170.25 78.84zM169.21 69.04L169.37 71.18L167.54 70.38zM171.97 71.41L172.07 73.55L170.26 72.71zM169.21 62.88L169.39 65.02L167.55 64.25zM171.96 65.25L172.1 67.39L170.27 66.57zM169.2 56.72L169.42 58.86L167.56 58.11zM171.95 59.09L172.12 61.23L170.28 60.44zM169.19 50.56L169.44 52.69L167.57 51.97zM171.95 52.92L172.15 55.06L170.3 54.3zM169.19 44.4L169.46 46.53L167.58 45.83zM171.94 46.77L172.17 48.9L170.31 48.16zM169.18 38.24L169.47 40.37L167.6 39.69zM171.93 40.61L172.19 42.74L170.32 42.02zM169.18 32.08L169.49 34.21L167.61 33.54zM171.93 34.45L172.2 36.58L170.33 35.88zM174.99 229.65L173 230.44L173.21 228.45zM177.74 232.02L175.72 232.76L175.98 230.78zM175 223.45L173.08 224.41L173.12 222.41zM177.74 225.82L175.79 226.73L175.89 224.73zM175 217.25L173.17 218.37L173.04 216.37zM177.74 219.62L175.87 220.68L175.81 218.68zM174.99 211.05L173.26 212.32L172.96 210.34zM177.74 213.43L175.96 214.63L175.74 212.65zM174.98 204.85L173.36 206.26L172.91 204.31zM177.73 207.23L176.06 208.57L175.68 206.61zM174.97 198.65L173.47 200.19L172.86 198.28zM177.72 201.03L176.16 202.5L175.62 200.57zM174.96 192.46L173.57 194.1L172.82 192.25zM177.71 194.84L176.26 196.42L175.59 194.54zM174.95 186.27L173.68 188.01L172.8 186.21zM177.7 188.65L176.36 190.33L175.56 188.5zM174.93 180.09L173.78 181.9L172.79 180.16zM177.68 182.46L176.46 184.23L175.54 182.45zM174.91 173.9L173.88 175.78L172.78 174.11zM177.67 176.28L176.56 178.12L175.53 176.4zM174.9 167.72L173.97 169.66L172.78 168.05zM177.65 170.1L176.65 171.99L175.52 170.34zM174.88 161.54L174.06 163.52L172.78 161.98zM177.64 163.92L176.73 165.87L175.52 164.28zM174.87 155.37L174.14 157.39L172.79 155.91zM177.62 157.74L176.82 159.73L175.53 158.2zM174.85 149.19L174.21 151.24L172.8 149.83zM177.61 151.57L176.89 153.59L175.53 152.13zM174.84 143.02L174.28 145.1L172.81 143.74zM177.59 145.39L176.96 147.45L175.54 146.04zM174.82 136.85L174.35 138.95L172.83 137.64zM177.58 139.22L177.03 141.3L175.56 139.95zM174.81 130.68L174.41 132.79L172.84 131.54zM177.56 133.05L177.09 135.15L175.57 133.85zM174.8 124.52L174.46 126.64L172.86 125.44zM177.55 126.89L177.15 129L175.59 127.75zM174.78 118.35L174.51 120.48L172.87 119.33zM177.54 120.72L177.2 122.84L175.6 121.64zM174.77 112.19L174.56 114.32L172.89 113.22zM177.53 114.55L177.25 116.68L175.62 115.53zM174.76 106.02L174.6 108.16L172.91 107.1zM177.52 108.39L177.29 110.52L175.63 109.41zM174.75 99.86L174.64 102L172.92 100.98zM177.51 102.22L177.34 104.36L175.65 103.29zM174.74 93.69L174.68 95.84L172.94 94.85zM177.5 96.06L177.37 98.2L175.66 97.17zM174.74 87.53L174.71 89.68L172.95 88.73zM177.49 89.9L177.41 92.04L175.68 91.05zM174.73 81.37L174.74 83.52L172.97 82.6zM177.48 83.74L177.44 85.88L175.69 84.92zM174.72 75.21L174.77 77.36L172.98 76.47zM177.47 77.57L177.47 79.72L175.7 78.79zM174.71 69.05L174.8 71.19L172.99 70.33zM177.47 71.41L177.5 73.56L175.72 72.66zM174.71 62.89L174.82 65.03L173.01 64.2zM177.46 65.25L177.53 67.4L175.73 66.53zM174.7 56.73L174.85 58.87L173.02 58.06zM177.45 59.09L177.56 61.24L175.74 60.39zM174.69 50.57L174.87 52.71L173.03 51.92zM177.44 52.93L177.58 55.07L175.75 54.26zM174.69 44.41L174.89 46.54L173.04 45.79zM177.44 46.77L177.6 48.91L175.77 48.12zM174.68 38.25L174.91 40.38L173.05 39.65zM177.43 40.61L177.62 42.75L175.78 41.98zM174.68 32.09L174.93 34.22L173.06 33.5zM177.43 34.45L177.64 36.59L175.79 35.84zM180.48 229.64L178.49 230.46L178.69 228.46zM183.22 232.02L181.22 232.78L181.46 230.79zM180.48 223.45L178.57 224.41L178.6 222.41zM183.23 225.82L181.28 226.73L181.37 224.73zM180.48 217.25L178.65 218.36L178.53 216.36zM183.23 219.63L181.36 220.68L181.3 218.68zM180.48 211.05L178.73 212.3L178.46 210.32zM183.22 213.43L181.44 214.62L181.23 212.63zM180.47 204.86L178.83 206.24L178.4 204.28zM183.22 207.24L181.53 208.56L181.17 206.59zM180.46 198.67L178.92 200.16L178.36 198.24zM183.21 201.04L181.62 202.48L181.12 200.54zM180.45 192.47L179.02 194.08L178.32 192.2zM183.2 194.85L181.71 196.4L181.08 194.5zM180.44 186.29L179.12 187.98L178.3 186.16zM183.19 188.66L181.81 190.3L181.05 188.45zM180.43 180.1L179.21 181.87L178.28 180.11zM183.18 182.48L181.9 184.2L181.03 182.4zM180.41 173.92L179.31 175.76L178.27 174.05zM183.16 176.29L181.99 178.09L181.02 176.34zM180.4 167.74L179.39 169.64L178.26 167.99zM183.15 170.11L182.08 171.97L181.01 170.28zM180.38 161.56L179.48 163.51L178.26 161.92zM183.14 163.93L182.16 165.85L181.01 164.21zM180.37 155.38L179.56 157.37L178.27 155.84zM183.12 157.76L182.24 159.71L181.01 158.14zM180.35 149.21L179.63 151.23L178.28 149.76zM183.11 151.58L182.31 153.58L181.01 152.06zM180.34 143.04L179.7 145.09L178.29 143.67zM183.09 145.41L182.38 147.44L181.02 145.97zM180.32 136.87L179.76 138.94L178.3 137.58zM183.08 139.24L182.45 141.29L181.03 139.88zM180.31 130.7L179.82 132.79L178.31 131.48zM183.07 133.07L182.51 135.14L181.04 133.78zM180.3 124.53L179.88 126.63L178.32 125.37zM183.05 126.9L182.57 128.99L181.06 127.68zM180.29 118.36L179.93 120.48L178.34 119.27zM183.04 120.73L182.62 122.84L181.07 121.58zM180.28 112.2L179.98 114.32L178.35 113.15zM183.03 114.56L182.67 116.68L181.08 115.47zM180.26 106.03L180.02 108.16L178.37 107.04zM183.02 108.4L182.72 110.53L181.1 109.35zM180.25 99.87L180.06 102.01L178.38 100.92zM183.01 102.23L182.76 104.37L181.11 103.24zM180.25 93.7L180.1 95.85L178.4 94.8zM183 96.07L182.8 98.21L181.12 97.12zM180.24 87.54L180.14 89.69L178.41 88.67zM182.99 89.91L182.84 92.05L181.14 90.99zM180.23 81.38L180.17 83.52L178.43 82.55zM182.98 83.74L182.87 85.89L181.15 84.87zM180.22 75.22L180.2 77.36L178.44 76.42zM182.97 77.58L182.91 79.73L181.17 78.74zM180.21 69.05L180.23 71.2L178.45 70.28zM182.97 71.42L182.94 73.57L181.18 72.61zM180.21 62.89L180.26 65.04L178.47 64.15zM182.96 65.26L182.96 67.41L181.19 66.48zM180.2 56.73L180.28 58.88L178.48 58.02zM182.95 59.1L182.99 61.24L181.2 60.35zM180.19 50.57L180.31 52.72L178.49 51.88zM182.95 52.94L183.02 55.08L181.22 54.21zM180.19 44.41L180.33 46.55L178.5 45.74zM182.94 46.78L183.04 48.92L181.23 48.07zM180.18 38.25L180.35 40.39L178.51 39.6zM182.93 40.62L183.06 42.76L181.24 41.94zM180.18 32.09L180.37 34.23L178.52 33.46zM182.93 34.46L183.08 36.6L181.25 35.8zM185.97 229.64L183.99 230.47L184.17 228.47zM188.71 232.01L186.71 232.79L186.94 230.8zM185.97 223.45L184.05 224.41L184.09 222.41zM188.72 225.82L186.77 226.74L186.86 224.74zM185.97 217.25L184.13 218.36L184.02 216.36zM188.72 219.63L186.84 220.68L186.79 218.68zM185.97 211.06L184.21 212.29L183.96 210.31zM188.71 213.43L186.92 214.61L186.73 212.62zM185.96 204.87L184.3 206.22L183.9 204.26zM188.71 207.24L187 208.54L186.67 206.57zM185.95 198.67L184.38 200.14L183.86 198.21zM188.7 201.05L187.08 202.46L186.62 200.52zM185.94 192.49L184.47 194.05L183.82 192.16zM188.69 194.86L187.17 196.38L186.58 194.46zM185.93 186.3L184.57 187.95L183.79 186.11zM188.68 188.68L187.26 190.28L186.55 188.41zM185.92 180.11L184.66 181.85L183.77 180.05zM188.67 182.49L187.35 184.18L186.53 182.35zM185.91 173.93L184.74 175.74L183.76 173.99zM188.66 176.31L187.43 178.07L186.51 176.29zM185.89 167.75L184.83 169.61L183.75 167.93zM188.65 170.13L187.51 171.95L186.5 170.23zM185.88 161.57L184.91 163.49L183.75 161.86zM188.63 163.95L187.59 165.83L186.5 164.15zM185.87 155.4L184.98 157.35L183.75 155.78zM188.62 157.77L187.67 159.7L186.5 158.08zM185.85 149.22L185.06 151.22L183.76 149.7zM188.61 151.6L187.74 153.56L186.5 152zM185.84 143.05L185.12 145.07L183.76 143.61zM188.59 145.42L187.81 147.42L186.5 145.91zM185.82 136.88L185.19 138.93L183.77 137.51zM188.58 139.25L187.88 141.28L186.51 139.82zM185.81 130.71L185.25 132.78L183.78 131.42zM188.57 133.08L187.94 135.13L186.52 133.72zM185.8 124.54L185.3 126.63L183.8 125.31zM188.56 126.91L188 128.98L186.53 127.62zM185.79 118.37L185.35 120.48L183.81 119.21zM188.54 120.74L188.05 122.83L186.54 121.52zM185.78 112.21L185.4 114.32L183.82 113.09zM188.53 114.58L188.1 116.68L186.55 115.41zM185.77 106.04L185.45 108.16L183.84 106.98zM188.52 108.41L188.15 110.52L186.57 109.3zM185.76 99.88L185.49 102.01L183.85 100.86zM188.51 102.24L188.19 104.37L186.58 103.18zM185.75 93.71L185.53 95.85L183.86 94.74zM188.5 96.08L188.23 98.21L186.59 97.06zM185.74 87.55L185.57 89.69L183.88 88.62zM188.49 89.92L188.27 92.05L186.61 90.94zM185.73 81.39L185.6 83.53L183.89 82.49zM188.48 83.75L188.31 85.89L186.62 84.82zM185.72 75.22L185.63 77.37L183.9 76.37zM188.48 77.59L188.34 79.73L186.63 78.69zM185.71 69.06L185.66 71.21L183.92 70.24zM188.47 71.43L188.37 73.57L186.65 72.56zM185.71 62.9L185.69 65.05L183.93 64.1zM188.46 65.27L188.4 67.41L186.66 66.43zM185.7 56.74L185.72 58.89L183.94 57.97zM188.45 59.1L188.43 61.25L186.67 60.3zM185.69 50.58L185.74 52.73L183.95 51.84zM188.45 52.94L188.45 55.09L186.68 54.17zM185.69 44.42L185.77 46.56L183.96 45.7zM188.44 46.78L188.48 48.93L186.69 48.03zM185.68 38.26L185.79 40.4L183.98 39.56zM188.43 40.62L188.5 42.77L186.7 41.89zM185.68 32.1L185.81 34.24L183.99 33.42zM188.43 34.46L188.52 36.61L186.71 35.76zM191.46 229.64L189.48 230.47L189.65 228.48zM194.2 232.01L192.21 232.8L192.42 230.81zM191.46 223.44L189.55 224.41L189.58 222.41zM194.21 225.82L192.27 226.74L192.35 224.74zM191.46 217.25L189.61 218.35L189.51 216.35zM194.21 219.63L192.33 220.67L192.28 218.67zM191.46 211.06L189.69 212.28L189.45 210.29zM194.2 213.44L192.4 214.6L192.22 212.61zM191.45 204.87L189.77 206.2L189.4 204.24zM194.2 207.25L192.48 208.53L192.17 206.55zM191.45 198.68L189.85 200.12L189.36 198.18zM194.19 201.06L192.55 202.45L192.12 200.49zM191.44 192.5L189.93 194.03L189.32 192.13zM194.19 194.87L192.64 196.36L192.08 194.43zM191.43 186.31L190.02 187.93L189.29 186.07zM194.18 188.69L192.72 190.26L192.05 188.37zM191.42 180.13L190.1 181.83L189.27 180.01zM194.17 182.5L192.8 184.16L192.03 182.31zM191.4 173.94L190.19 175.71L189.26 173.94zM194.16 176.32L192.88 178.05L192.01 176.24zM191.39 167.76L190.27 169.59L189.25 167.87zM194.14 170.14L192.96 171.93L192 170.18zM191.38 161.59L190.34 163.47L189.24 161.8zM194.13 163.96L193.03 165.81L191.99 164.1zM191.36 155.41L190.42 157.34L189.24 155.72zM194.12 157.78L193.11 159.68L191.99 158.02zM191.35 149.24L190.49 151.2L189.24 149.64zM194.11 151.61L193.18 153.54L191.99 151.94zM191.34 143.06L190.55 145.06L189.25 143.55zM194.09 145.44L193.25 147.41L191.99 145.85zM191.33 136.89L190.62 138.92L189.25 137.45zM194.08 139.26L193.31 141.27L191.99 139.76zM191.31 130.72L190.68 132.77L189.26 131.36zM194.07 133.09L193.37 135.12L192 133.66zM191.3 124.55L190.73 126.62L189.27 125.25zM194.06 126.92L193.43 128.97L192.01 127.56zM191.29 118.38L190.78 120.47L189.28 119.15zM194.05 120.75L193.48 122.83L192.02 121.46zM191.28 112.22L190.83 114.32L189.3 113.04zM194.04 114.59L193.53 116.67L192.03 115.35zM191.27 106.05L190.88 108.16L189.31 106.92zM194.03 108.42L193.58 110.52L192.04 109.24zM191.26 99.89L190.92 102.01L189.32 100.81zM194.02 102.25L193.62 104.37L192.05 103.13zM191.25 93.72L190.96 95.85L189.33 94.69zM194.01 96.09L193.66 98.21L192.07 97.01zM191.24 87.56L191 89.69L189.35 88.57zM194 89.93L193.7 92.05L192.08 90.89zM191.23 81.4L191.04 83.53L189.36 82.44zM193.99 83.76L193.74 85.89L192.09 84.77zM191.22 75.23L191.07 77.37L189.37 76.32zM193.98 77.6L193.78 79.74L192.1 78.64zM191.22 69.07L191.1 71.21L189.38 70.19zM193.97 71.44L193.81 73.58L192.11 72.51zM191.21 62.91L191.13 65.05L189.4 64.06zM193.96 65.27L193.84 67.42L192.13 66.38zM191.2 56.75L191.16 58.89L189.41 57.93zM193.96 59.11L193.87 61.26L192.14 60.25zM191.2 50.59L191.18 52.73L189.42 51.79zM193.95 52.95L193.9 55.1L192.15 54.12zM191.19 44.42L191.21 46.57L189.43 45.66zM193.94 46.79L193.92 48.94L192.16 47.99zM191.18 38.26L191.23 40.41L189.44 39.52zM193.94 40.63L193.95 42.78L192.17 41.85zM191.18 32.1L191.25 34.25L189.45 33.38zM193.93 34.47L193.97 36.61L192.18 35.71zM196.95 229.63L194.98 230.48L195.13 228.49zM199.7 232L197.71 232.81L197.9 230.82zM196.95 223.44L195.04 224.42L195.07 222.42zM199.7 225.82L197.76 226.74L197.84 224.75zM196.95 217.26L195.1 218.35L195.01 216.35zM199.7 219.63L197.82 220.67L197.77 218.67zM196.95 211.07L195.17 212.27L194.95 210.28zM199.7 213.44L197.89 214.6L197.72 212.6zM196.94 204.88L195.24 206.19L194.9 204.22zM199.69 207.25L197.96 208.52L197.67 206.54zM196.94 198.69L195.32 200.1L194.86 198.16zM199.69 201.07L198.03 202.43L197.62 200.47zM196.93 192.51L195.4 194.01L194.82 192.1zM199.68 194.88L198.1 196.34L197.59 194.41zM196.92 186.32L195.48 187.91L194.79 186.03zM199.67 188.7L198.18 190.24L197.56 188.34zM196.91 180.14L195.56 181.8L194.77 179.97zM199.66 182.51L198.26 184.14L197.53 182.27zM196.9 173.96L195.64 175.69L194.75 173.9zM199.65 176.33L198.33 178.02L197.51 176.2zM196.89 167.78L195.71 169.57L194.74 167.82zM199.64 170.15L198.41 171.91L197.5 170.13zM196.88 161.6L195.79 163.45L194.74 161.75zM199.63 163.97L198.48 165.79L197.49 164.05zM196.87 155.42L195.86 157.32L194.73 155.67zM199.62 157.8L198.55 159.66L197.48 157.97zM196.85 149.25L195.93 151.18L194.73 149.58zM199.61 151.62L198.62 153.53L197.48 151.89zM196.84 143.08L195.99 145.05L194.73 143.49zM199.6 145.45L198.69 147.39L197.48 145.8zM196.83 136.9L196.05 138.91L194.74 137.4zM199.58 139.28L198.75 141.25L197.48 139.71zM196.82 130.73L196.11 132.76L194.75 131.3zM199.57 133.1L198.81 135.11L197.49 133.61zM196.81 124.56L196.17 126.61L194.75 125.2zM199.56 126.93L198.86 128.96L197.49 127.51zM196.79 118.4L196.22 120.46L194.76 119.09zM199.55 120.77L198.92 122.82L197.5 121.4zM196.78 112.23L196.27 114.31L194.77 112.98zM199.54 114.6L198.97 116.67L197.51 115.3zM196.77 106.06L196.31 108.16L194.78 106.87zM199.53 108.43L199.02 110.52L197.52 109.19zM196.76 99.9L196.36 102L194.8 100.75zM199.52 102.26L199.06 104.36L197.53 103.07zM196.75 93.73L196.4 95.85L194.81 94.64zM199.51 96.1L199.1 98.21L197.54 96.96zM196.75 87.57L196.44 89.69L194.82 88.52zM199.5 89.93L199.14 92.05L197.55 90.84zM196.74 81.4L196.47 83.53L194.83 82.39zM199.49 83.77L199.18 85.89L197.56 84.72zM196.73 75.24L196.51 77.38L194.84 76.27zM199.48 77.61L199.22 79.74L197.58 78.59zM196.72 69.08L196.54 71.22L194.86 70.14zM199.48 71.44L199.25 73.58L197.59 72.47zM196.71 62.92L196.57 65.06L194.87 64.01zM199.47 65.28L199.28 67.42L197.6 66.34zM196.71 56.75L196.6 58.9L194.88 57.88zM199.46 59.12L199.31 61.26L197.61 60.21zM196.7 50.59L196.63 52.74L194.89 51.75zM199.45 52.96L199.34 55.1L197.62 54.08zM196.69 44.43L196.65 46.58L194.9 45.61zM199.45 46.8L199.37 48.94L197.63 47.94zM196.69 38.27L196.68 40.42L194.91 39.48zM199.44 40.64L199.39 42.78L197.64 41.81zM196.68 32.11L196.7 34.26L194.92 33.34zM199.43 34.47L199.42 36.62L197.65 35.67zM202.44 229.63L200.48 230.49L200.62 228.49zM205.19 232L203.21 232.82L203.39 230.83zM202.44 223.44L200.53 224.42L200.56 222.42zM205.19 225.81L203.26 226.75L203.33 224.75zM202.44 217.26L200.59 218.34L200.5 216.34zM205.19 219.63L203.31 220.67L203.27 218.67zM202.44 211.07L200.66 212.26L200.45 210.27zM205.19 213.44L203.38 214.59L203.22 212.6zM202.44 204.88L200.73 206.18L200.4 204.2zM205.19 207.26L203.44 208.51L203.17 206.52zM202.43 198.7L200.8 200.09L200.36 198.14zM205.18 201.07L203.51 202.42L203.13 200.45zM202.43 192.51L200.87 193.99L200.33 192.07zM205.18 194.89L203.58 196.32L203.09 194.38zM202.42 186.33L200.94 187.89L200.3 186zM205.17 188.7L203.65 190.22L203.06 188.31zM202.41 180.15L201.02 181.78L200.27 179.93zM205.16 182.52L203.72 184.12L203.03 182.24zM202.4 173.97L201.09 175.67L200.25 173.85zM205.15 176.34L203.79 178L203.01 176.16zM202.39 167.79L201.16 169.55L200.24 167.78zM205.14 170.16L203.87 171.89L203 170.09zM202.38 161.61L201.23 163.43L200.23 161.7zM205.13 163.98L203.94 165.77L202.98 164.01zM202.37 155.44L201.3 157.3L200.23 155.62zM205.12 157.81L204 159.64L202.98 157.92zM202.35 149.26L201.37 151.17L200.22 149.53zM205.11 151.63L204.07 153.51L202.97 151.84zM202.34 143.09L201.43 145.03L200.22 143.44zM205.1 145.46L204.13 147.38L202.97 145.75zM202.33 136.92L201.49 138.89L200.23 137.34zM205.09 139.29L204.19 141.24L202.97 139.65zM202.32 130.74L201.55 132.75L200.23 131.24zM205.08 133.12L204.25 135.1L202.98 133.56zM202.31 124.58L201.61 126.6L200.24 125.14zM205.07 126.95L204.31 128.95L202.98 127.46zM202.3 118.41L201.66 120.46L200.25 119.04zM205.06 120.78L204.36 122.81L202.99 121.35zM202.29 112.24L201.71 114.31L200.26 112.93zM205.05 114.61L204.41 116.66L202.99 115.25zM202.28 106.07L201.75 108.15L200.27 106.82zM205.04 108.44L204.46 110.51L203 109.14zM202.27 99.91L201.8 102L200.28 100.7zM205.03 102.27L204.5 104.36L203.01 103.02zM202.26 93.74L201.84 95.85L200.29 94.59zM205.02 96.11L204.54 98.2L203.02 96.91zM202.25 87.58L201.88 89.69L200.3 88.47zM205.01 89.94L204.58 92.05L203.03 90.79zM202.24 81.41L201.92 83.53L200.31 82.34zM205 83.78L204.62 85.89L203.04 84.67zM202.23 75.25L201.95 77.38L200.32 76.22zM204.99 77.62L204.66 79.74L203.05 78.54zM202.23 69.09L201.98 71.22L200.33 70.09zM204.98 71.45L204.69 73.58L203.06 72.42zM202.22 62.92L202.02 65.06L200.34 63.97zM204.97 65.29L204.73 67.42L203.08 66.29zM202.21 56.76L202.04 58.9L200.35 57.84zM204.97 59.13L204.76 61.26L203.09 60.16zM202.2 50.6L202.07 52.74L200.36 51.7zM204.96 52.96L204.79 55.11L203.1 54.03zM202.2 44.44L202.1 46.58L200.37 45.57zM204.95 46.8L204.81 48.95L203.11 47.9zM202.19 38.28L202.13 40.42L200.38 39.44zM204.95 40.64L204.84 42.79L203.12 41.77zM202.18 32.12L202.15 34.26L200.39 33.3zM204.94 34.48L204.86 36.63L203.13 35.63zM207.94 229.63L205.97 230.5L206.11 228.5zM210.69 232L208.71 232.83L208.88 230.84zM207.94 223.44L206.03 224.42L206.05 222.42zM210.69 225.81L208.75 226.75L208.82 224.75zM207.94 217.26L206.08 218.34L206 216.34zM210.69 219.63L208.81 220.67L208.77 218.67zM207.94 211.07L206.14 212.25L205.95 210.26zM210.69 213.44L208.87 214.58L208.72 212.59zM207.93 204.89L206.21 206.17L205.9 204.19zM210.68 207.26L208.93 208.5L208.67 206.51zM207.93 198.7L206.28 200.07L205.86 198.12zM210.68 201.08L208.99 202.4L208.63 200.44zM207.92 192.52L206.34 193.98L205.83 192.04zM210.67 194.89L209.06 196.31L208.59 194.36zM207.92 186.34L206.41 187.87L205.8 185.97zM210.67 188.71L209.12 190.2L208.56 188.28zM207.91 180.16L206.48 181.76L205.78 179.89zM210.66 182.53L209.19 184.1L208.54 182.21zM207.9 173.98L206.55 175.65L205.76 173.82zM210.65 176.35L209.26 177.99L208.52 176.13zM207.89 167.8L206.62 169.53L205.74 167.74zM210.64 170.17L209.33 171.87L208.5 170.05zM207.88 161.62L206.69 163.41L205.73 161.65zM210.63 164L209.39 165.75L208.49 163.97zM207.87 155.45L206.75 157.28L205.72 155.57zM210.62 157.82L209.46 159.62L208.48 157.88zM207.86 149.27L206.82 151.15L205.72 149.48zM210.61 151.64L209.52 153.49L208.47 151.79zM207.85 143.1L206.88 145.02L205.72 143.39zM210.6 145.47L209.58 147.36L208.47 145.7zM207.84 136.93L206.94 138.88L205.72 137.29zM210.59 139.3L209.64 141.22L208.47 139.61zM207.82 130.76L207 132.74L205.72 131.19zM210.58 133.13L209.7 135.08L208.47 133.51zM207.81 124.59L207.05 126.59L205.73 125.09zM210.57 126.96L209.75 128.94L208.47 127.41zM207.8 118.42L207.1 120.45L205.73 118.99zM210.56 120.79L209.81 122.8L208.48 121.3zM207.79 112.25L207.15 114.3L205.74 112.88zM210.55 114.62L209.86 116.65L208.48 115.2zM207.78 106.08L207.2 108.15L205.75 106.77zM210.54 108.45L209.9 110.5L208.49 109.09zM207.77 99.92L207.24 102L205.76 100.65zM210.53 102.28L209.95 104.35L208.5 102.97zM207.77 93.75L207.28 95.84L205.77 94.54zM210.52 96.12L209.99 98.2L208.51 96.86zM207.76 87.59L207.32 89.69L205.78 88.42zM210.51 89.95L210.03 92.05L208.52 90.74zM207.75 81.42L207.36 83.53L205.79 82.3zM210.5 83.79L210.07 85.89L208.53 84.62zM207.74 75.26L207.4 77.38L205.8 76.17zM210.5 77.62L210.11 79.74L208.54 78.5zM207.73 69.09L207.43 71.22L205.81 70.05zM210.49 71.46L210.14 73.58L208.55 72.37zM207.72 62.93L207.46 65.06L205.82 63.92zM210.48 65.3L210.17 67.42L208.56 66.25zM207.72 56.77L207.49 58.9L205.83 57.79zM210.47 59.13L210.21 61.26L208.57 60.12zM207.71 50.61L207.52 52.75L205.84 51.66zM210.47 52.97L210.24 55.11L208.58 53.99zM207.7 44.44L207.55 46.59L205.85 45.53zM210.46 46.81L210.26 48.95L208.59 47.86zM207.7 38.28L207.57 40.43L205.86 39.4zM210.45 40.65L210.29 42.79L208.6 41.73zM207.69 32.12L207.6 34.27L205.87 33.26zM210.45 34.49L210.32 36.63L208.61 35.59zM213.43 229.63L211.47 230.5L211.6 228.51zM216.18 232L214.21 232.84L214.37 230.84zM213.44 223.44L211.52 224.42L211.55 222.42zM216.18 225.81L214.25 226.75L214.32 224.75zM213.44 217.26L211.58 218.34L211.5 216.34zM216.18 219.63L214.3 220.67L214.26 218.67zM213.43 211.08L211.63 212.25L211.45 210.26zM216.18 213.45L214.36 214.58L214.22 212.58zM213.43 204.89L211.69 206.16L211.41 204.18zM216.18 207.26L214.42 208.49L214.17 206.5zM213.43 198.71L211.76 200.06L211.37 198.1zM216.18 201.08L214.48 202.39L214.13 200.42zM213.42 192.53L211.82 193.96L211.33 192.02zM216.17 194.9L214.54 196.29L214.1 194.34zM213.41 186.35L211.89 187.86L211.31 185.94zM216.17 188.72L214.6 190.19L214.07 188.26zM213.41 180.17L211.95 181.75L211.28 179.86zM216.16 182.54L214.67 184.08L214.04 182.18zM213.4 173.99L212.02 175.63L211.26 173.78zM216.15 176.36L214.73 177.97L214.02 176.1zM213.39 167.81L212.08 169.51L211.25 167.7zM216.14 170.18L214.79 171.85L214 170.01zM213.38 161.63L212.15 163.39L211.23 161.61zM216.13 164.01L214.86 165.73L213.99 163.93zM213.37 155.46L212.21 157.27L211.22 155.53zM216.13 157.83L214.92 159.61L213.98 157.84zM213.36 149.28L212.27 151.13L211.22 149.44zM216.12 151.65L214.98 153.48L213.97 151.75zM213.35 143.11L212.33 145L211.22 143.34zM216.11 145.48L215.04 147.34L213.97 145.66zM213.34 136.94L212.39 138.86L211.22 137.25zM216.1 139.31L215.1 141.21L213.96 139.56zM213.33 130.77L212.45 132.72L211.22 131.15zM216.09 133.14L215.15 135.07L213.96 133.46zM213.32 124.6L212.5 126.58L211.22 125.04zM216.08 126.97L215.21 128.93L213.97 127.36zM213.31 118.43L212.55 120.44L211.22 118.94zM216.07 120.8L215.26 122.79L213.97 121.26zM213.3 112.26L212.6 114.29L211.23 112.83zM216.06 114.63L215.31 116.64L213.97 115.15zM213.29 106.09L212.64 108.14L211.24 106.72zM216.05 108.46L215.35 110.49L213.98 109.04zM213.28 99.93L212.69 101.99L211.24 100.61zM216.04 102.29L215.4 104.34L213.99 102.93zM213.27 93.76L212.73 95.84L211.25 94.49zM216.03 96.13L215.44 98.19L213.99 96.81zM213.26 87.59L212.77 89.68L211.26 88.37zM216.02 89.96L215.48 92.04L214 90.69zM213.26 81.43L212.81 83.53L211.27 82.25zM216.01 83.8L215.52 85.89L214.01 84.57zM213.25 75.27L212.84 77.37L211.28 76.13zM216 77.63L215.56 79.73L214.02 78.45zM213.24 69.1L212.88 71.22L211.29 70zM216 71.47L215.59 73.58L214.03 72.33zM213.23 62.94L212.91 65.06L211.3 63.88zM215.99 65.31L215.62 67.42L214.04 66.2zM213.22 56.78L212.94 58.9L211.31 57.75zM215.98 59.14L215.66 61.26L214.05 60.08zM213.22 50.61L212.97 52.75L211.32 51.62zM215.97 52.98L215.69 55.11L214.06 53.95zM213.21 44.45L213 46.59L211.33 45.49zM215.97 46.82L215.72 48.95L214.07 47.82zM213.2 38.29L213.03 40.43L211.34 39.36zM215.96 40.66L215.74 42.79L214.08 41.69zM213.2 32.13L213.05 34.27L211.35 33.22zM215.95 34.49L215.77 36.63L214.09 35.55zM218.93 229.62L216.97 230.51L217.1 228.51zM221.68 231.99L219.71 232.84L219.87 230.85zM218.93 223.44L217.02 224.42L217.05 222.42zM221.68 225.81L219.75 226.75L219.81 224.76zM218.93 217.26L217.07 218.33L217 216.33zM221.68 219.63L219.8 220.67L219.76 218.67zM218.93 211.08L217.13 212.24L216.95 210.25zM221.68 213.45L219.85 214.57L219.72 212.58zM218.93 204.9L217.18 206.15L216.91 204.17zM221.68 207.27L219.91 208.48L219.68 206.49zM218.92 198.71L217.24 200.05L216.87 198.08zM221.68 201.09L219.96 202.38L219.64 200.41zM218.92 192.53L217.3 193.95L216.84 192zM221.67 194.91L220.02 196.28L219.61 194.32zM218.91 186.35L217.36 187.84L216.81 185.92zM221.67 188.73L220.08 190.17L219.58 188.24zM218.91 180.17L217.43 181.73L216.79 179.84zM221.66 182.55L220.14 184.06L219.55 182.15zM218.9 174L217.49 175.62L216.77 173.75zM221.65 176.37L220.2 177.95L219.53 176.07zM218.89 167.82L217.55 169.5L216.75 167.66zM221.65 170.19L220.26 171.83L219.51 169.98zM218.88 161.64L217.61 163.37L216.74 161.58zM221.64 164.01L220.32 165.71L219.49 163.89zM218.87 155.47L217.67 157.25L216.73 155.49zM221.63 157.84L220.38 159.59L219.48 157.8zM218.86 149.29L217.73 151.12L216.72 149.39zM221.62 151.66L220.44 153.46L219.47 151.71zM218.86 143.12L217.79 144.99L216.72 143.3zM221.61 145.49L220.5 147.33L219.47 145.62zM218.85 136.95L217.85 138.85L216.71 137.2zM221.6 139.32L220.56 141.19L219.46 139.52zM218.84 130.78L217.9 132.71L216.71 131.1zM221.59 133.15L220.61 135.06L219.46 133.42zM218.83 124.61L217.95 126.57L216.71 125zM221.58 126.98L220.66 128.92L219.46 127.32zM218.82 118.44L218 120.42L216.72 118.89zM221.57 120.81L220.71 122.77L219.47 121.21zM218.81 112.27L218.05 114.28L216.72 112.78zM221.56 114.64L220.76 116.63L219.47 115.1zM218.8 106.1L218.1 108.13L216.73 106.67zM221.56 108.47L220.81 110.48L219.47 108.99zM218.79 99.94L218.14 101.98L216.73 100.56zM221.55 102.3L220.85 104.34L219.48 102.88zM218.78 93.77L218.18 95.83L216.74 94.44zM221.54 96.14L220.89 98.19L219.48 96.77zM218.77 87.6L218.22 89.68L216.75 88.33zM221.53 89.97L220.93 92.03L219.49 90.65zM218.76 81.44L218.26 83.53L216.76 82.21zM221.52 83.81L220.97 85.88L219.5 84.53zM218.76 75.27L218.3 77.37L216.77 76.08zM221.51 77.64L221.01 79.73L219.51 78.41zM218.75 69.11L218.33 71.22L216.78 69.96zM221.51 71.48L221.05 73.57L219.52 72.29zM218.74 62.95L218.36 65.06L216.78 63.83zM221.5 65.31L221.08 67.42L219.52 66.16zM218.73 56.78L218.4 58.9L216.79 57.71zM221.49 59.15L221.11 61.26L219.53 60.03zM218.73 50.62L218.43 52.75L216.8 51.58zM221.48 52.99L221.14 55.11L219.54 53.91zM218.72 44.46L218.45 46.59L216.81 45.45zM221.48 46.82L221.17 48.95L219.55 47.78zM218.71 38.3L218.48 40.43L216.82 39.32zM221.47 40.66L221.2 42.79L219.56 41.65zM218.71 32.14L218.51 34.27L216.83 33.18zM221.46 34.5L221.23 36.63L219.57 35.51zM224.43 229.62L222.48 230.51L222.59 228.51zM227.18 231.99L225.21 232.85L225.36 230.85zM224.43 223.44L222.52 224.42L222.54 222.42zM227.18 225.81L225.26 226.76L225.31 224.76zM224.43 217.26L222.57 218.33L222.5 216.33zM227.18 219.63L225.3 220.66L225.27 218.66zM224.43 211.08L222.62 212.24L222.45 210.24zM227.18 213.45L225.35 214.57L225.22 212.57zM224.43 204.9L222.68 206.14L222.42 204.15zM227.18 207.27L225.4 208.47L225.18 206.48zM224.43 198.72L222.73 200.04L222.38 198.07zM227.18 201.09L225.45 202.37L225.15 200.4zM224.42 192.54L222.79 193.93L222.35 191.98zM227.17 194.91L225.51 196.27L225.11 194.31zM224.42 186.36L222.85 187.83L222.32 185.9zM227.17 188.73L225.57 190.16L225.08 188.22zM224.41 180.18L222.91 181.71L222.29 179.81zM227.16 182.55L225.62 184.05L225.06 182.13zM224.4 174L222.96 175.6L222.27 173.72zM227.16 176.38L225.68 177.94L225.04 176.04zM224.39 167.83L223.02 169.48L222.26 167.63zM227.15 170.2L225.74 171.82L225.02 169.95zM224.39 161.65L223.08 163.36L222.24 161.54zM227.14 164.02L225.8 165.7L225 163.86zM224.38 155.48L223.14 157.23L222.23 155.45zM227.13 157.85L225.85 159.57L224.99 157.77zM224.37 149.3L223.2 151.1L222.22 149.36zM227.13 151.67L225.91 153.44L224.98 151.67zM224.36 143.13L223.25 144.97L222.22 143.26zM227.12 145.5L225.97 147.31L224.97 145.58zM224.35 136.96L223.31 138.83L222.21 137.16zM227.11 139.33L226.02 141.18L224.97 139.48zM224.34 130.79L223.36 132.7L222.21 131.06zM227.1 133.16L226.07 135.04L224.96 133.38zM224.33 124.62L223.41 126.56L222.21 124.95zM227.09 126.99L226.12 128.9L224.96 127.27zM224.32 118.45L223.46 120.41L222.21 118.85zM227.08 120.82L226.17 122.76L224.96 121.17zM224.32 112.28L223.51 114.27L222.22 112.74zM227.07 114.65L226.22 116.62L224.97 115.06zM224.31 106.11L223.55 108.12L222.22 106.63zM227.06 108.48L226.26 110.47L224.97 108.95zM224.3 99.94L223.6 101.97L222.23 100.51zM227.06 102.31L226.31 104.33L224.97 102.84zM224.29 93.78L223.64 95.82L222.23 94.4zM227.05 96.15L226.35 98.18L224.98 96.72zM224.28 87.61L223.68 89.67L222.24 88.28zM227.04 89.98L226.39 92.03L224.98 90.6zM224.27 81.45L223.71 83.52L222.25 82.16zM227.03 83.82L226.43 85.88L224.99 84.49zM224.27 75.28L223.75 77.37L222.26 76.04zM227.02 77.65L226.47 79.72L225 78.37zM224.26 69.12L223.79 71.21L222.26 69.92zM227.02 71.49L226.5 73.57L225.01 72.24zM224.25 62.95L223.82 65.06L222.27 63.79zM227.01 65.32L226.54 67.42L225.01 66.12zM224.24 56.79L223.85 58.9L222.28 57.66zM227 59.16L226.57 61.26L225.02 59.99zM224.24 50.63L223.88 52.75L222.29 51.54zM226.99 52.99L226.6 55.11L225.03 53.87zM224.23 44.47L223.91 46.59L222.3 45.41zM226.99 46.83L226.63 48.95L225.04 47.74zM224.22 38.3L223.94 40.43L222.31 39.28zM226.98 40.67L226.66 42.79L225.05 41.61zM224.22 32.14L223.97 34.27L222.32 33.14zM226.97 34.51L226.69 36.64L225.06 35.47zM229.93 229.62L227.98 230.52L228.09 228.52zM232.68 231.99L230.72 232.85L230.86 230.86zM229.93 223.44L228.02 224.42L228.05 222.42zM232.69 225.81L230.76 226.76L230.81 224.76zM229.93 217.26L228.07 218.33L228 216.33zM232.69 219.63L230.8 220.66L230.77 218.66zM229.93 211.08L228.12 212.23L227.96 210.24zM232.68 213.45L230.85 214.57L230.73 212.57zM229.93 204.9L228.17 206.13L227.92 204.15zM232.68 207.27L230.9 208.47L230.69 206.48zM229.93 198.72L228.22 200.03L227.89 198.06zM232.68 201.09L230.95 202.36L230.65 200.38zM229.92 192.54L228.28 193.92L227.86 191.97zM232.68 194.91L231 196.26L230.62 194.29zM229.92 186.37L228.33 187.81L227.83 185.88zM232.67 188.74L231.05 190.15L230.59 188.2zM229.91 180.19L228.39 181.7L227.8 179.79zM232.67 182.56L231.11 184.04L230.57 182.11zM229.91 174.01L228.44 175.58L227.78 173.7zM232.66 176.38L231.16 177.92L230.55 176.02zM229.9 167.84L228.5 169.46L227.77 167.6zM232.66 170.21L231.22 171.8L230.53 169.93zM229.89 161.66L228.56 163.34L227.75 161.51zM232.65 164.03L231.27 165.68L230.51 163.83zM229.88 155.49L228.61 157.22L227.74 155.42zM232.64 157.86L231.33 159.56L230.5 157.74zM229.88 149.31L228.67 151.09L227.73 149.32zM232.63 151.68L231.38 153.43L230.49 151.64zM229.87 143.14L228.72 144.95L227.72 143.22zM232.63 145.51L231.43 147.3L230.48 145.54zM229.86 136.97L228.77 138.82L227.72 137.12zM232.62 139.34L231.49 141.16L230.47 139.44zM229.85 130.8L228.82 132.68L227.72 131.02zM232.61 133.17L231.54 135.03L230.47 133.34zM229.84 124.63L228.87 126.54L227.71 124.91zM232.6 127L231.59 128.89L230.47 127.23zM229.83 118.46L228.92 120.4L227.71 118.81zM232.59 120.83L231.63 122.75L230.47 121.13zM229.82 112.29L228.97 114.26L227.72 112.7zM232.58 114.66L231.68 116.61L230.47 115.02zM229.82 106.12L229.01 108.11L227.72 106.58zM232.57 108.49L231.73 110.46L230.47 108.91zM229.81 99.95L229.05 101.96L227.72 100.47zM232.57 102.32L231.77 104.32L230.47 102.79zM229.8 93.79L229.1 95.82L227.73 94.36zM232.56 96.16L231.81 98.17L230.48 96.68zM229.79 87.62L229.14 89.67L227.73 88.24zM232.55 89.99L231.85 92.02L230.48 90.56zM229.78 81.46L229.17 83.51L227.74 82.12zM232.54 83.82L231.89 85.87L230.49 84.44zM229.78 75.29L229.21 77.36L227.75 76zM232.53 77.66L231.93 79.72L230.49 78.32zM229.77 69.13L229.25 71.21L227.76 69.87zM232.53 71.49L231.96 73.57L230.5 72.2zM229.76 62.96L229.28 65.06L227.76 63.75zM232.52 65.33L232 67.41L230.51 66.08zM229.75 56.8L229.31 58.9L227.77 57.62zM232.51 59.17L232.03 61.26L230.51 59.95zM229.75 50.64L229.34 52.74L227.78 51.5zM232.51 53L232.06 55.1L230.52 53.83zM229.74 44.47L229.37 46.59L227.79 45.37zM232.5 46.84L232.09 48.95L230.53 47.7zM229.73 38.31L229.4 40.43L227.8 39.24zM232.49 40.68L232.12 42.79L230.54 41.57zM229.73 32.15L229.43 34.27L227.8 33.1zM232.49 34.51L232.15 36.63L230.55 35.44zM235.44 229.62L233.49 230.52L233.59 228.52zM238.19 231.99L236.23 232.86L236.36 230.86zM235.44 223.44L233.53 224.42L233.55 222.42zM238.19 225.81L236.26 226.76L236.32 224.76zM235.44 217.26L233.57 218.32L233.51 216.33zM238.19 219.63L236.31 220.66L236.27 218.66zM235.44 211.08L233.62 212.22L233.47 210.23zM238.19 213.45L236.35 214.56L236.23 212.56zM235.43 204.91L233.67 206.12L233.43 204.14zM238.19 207.27L236.4 208.46L236.2 206.47zM235.43 198.73L233.72 200.02L233.4 198.04zM238.18 201.1L236.44 202.35L236.16 200.37zM235.43 192.55L233.77 193.91L233.37 191.95zM238.18 194.92L236.49 196.25L236.13 194.28zM235.42 186.37L233.82 187.8L233.34 185.86zM238.18 188.74L236.54 190.14L236.1 188.19zM235.42 180.19L233.87 181.69L233.31 179.76zM238.17 182.57L236.6 184.02L236.08 182.09zM235.41 174.02L233.93 175.57L233.29 173.67zM238.17 176.39L236.65 177.91L236.06 176zM235.41 167.84L233.98 169.45L233.28 167.58zM238.16 170.21L236.7 171.79L236.04 169.9zM235.4 161.67L234.03 163.33L233.26 161.48zM238.16 164.04L236.75 165.67L236.02 163.8zM235.39 155.49L234.09 157.2L233.25 155.38zM238.15 157.86L236.81 159.54L236.01 157.71zM235.38 149.32L234.14 151.07L233.24 149.29zM238.14 151.69L236.86 153.41L236 151.61zM235.38 143.15L234.19 144.94L233.23 143.19zM238.13 145.52L236.91 147.28L235.99 145.51zM235.37 136.98L234.24 138.81L233.22 137.08zM238.13 139.35L236.96 141.15L235.98 139.41zM235.36 130.81L234.29 132.67L233.22 130.98zM238.12 133.18L237.01 135.01L235.97 133.3zM235.35 124.64L234.34 126.53L233.22 124.87zM238.11 127.01L237.06 128.88L235.97 127.2zM235.34 118.47L234.39 120.39L233.22 118.77zM238.1 120.84L237.1 122.74L235.97 121.09zM235.34 112.3L234.43 114.25L233.22 112.66zM238.09 114.67L237.15 116.59L235.97 114.98zM235.33 106.13L234.48 108.1L233.22 106.54zM238.09 108.5L237.19 110.45L235.97 108.87zM235.32 99.96L234.52 101.96L233.22 100.43zM238.08 102.33L237.23 104.31L235.97 102.75zM235.31 93.8L234.56 95.81L233.23 94.31zM238.07 96.16L237.28 98.16L235.98 96.64zM235.3 87.63L234.6 89.66L233.23 88.2zM238.06 90L237.32 92.01L235.98 90.52zM235.3 81.46L234.64 83.51L233.24 82.08zM238.05 83.83L237.35 85.86L235.98 84.4zM235.29 75.3L234.67 77.36L233.24 75.96zM238.05 77.67L237.39 79.71L235.99 78.28zM235.28 69.13L234.71 71.2L233.25 69.83zM238.04 71.5L237.43 73.56L236 72.16zM235.27 62.97L234.74 65.05L233.26 63.71zM238.03 65.34L237.46 67.41L236 66.04zM235.27 56.81L234.77 58.9L233.26 57.58zM238.03 59.17L237.49 61.25L236.01 59.91zM235.26 50.64L234.8 52.74L233.27 51.46zM238.02 53.01L237.52 55.1L236.02 53.79zM235.25 44.48L234.83 46.59L233.28 45.33zM238.01 46.85L237.56 48.94L236.02 47.66zM235.25 38.32L234.86 40.43L233.29 39.2zM238 40.68L237.58 42.79L236.03 41.53zM235.19 32.22L234.84 34.34L233.25 33.13zM237.95 34.59L237.56 36.7L235.99 35.46zM240.94 229.62L238.99 230.52L239.09 228.52zM243.69 231.99L241.73 232.86L241.86 230.87zM240.94 223.44L239.03 224.42L239.05 222.42zM243.7 225.81L241.77 226.76L241.82 224.76zM240.94 217.26L239.07 218.32L239.01 216.32zM243.7 219.63L241.81 220.66L241.78 218.66zM240.94 211.09L239.12 212.22L238.97 210.23zM243.69 213.45L241.85 214.56L241.74 212.56zM240.94 204.91L239.16 206.12L238.94 204.13zM243.69 207.28L241.9 208.45L241.71 206.46zM240.94 198.73L239.21 200.01L238.91 198.03zM243.69 201.1L241.94 202.35L241.67 200.36zM240.93 192.55L239.26 193.9L238.88 191.94zM243.69 194.92L241.99 196.24L241.64 194.27zM240.93 186.38L239.31 187.79L238.85 185.84zM243.68 188.75L242.04 190.12L241.62 188.17zM240.92 180.2L239.36 181.67L238.83 179.74zM243.68 182.57L242.09 184.01L241.59 182.07zM240.92 174.03L239.41 175.55L238.81 173.65zM243.67 176.4L242.14 177.89L241.57 175.98zM240.91 167.85L239.46 169.43L238.79 167.55zM243.67 170.22L242.19 171.77L241.55 169.88zM240.91 161.68L239.51 163.31L238.77 161.45zM243.66 164.05L242.24 165.65L241.53 163.78zM240.9 155.5L239.57 157.18L238.76 155.35zM243.66 157.87L242.29 159.53L241.52 157.68zM240.89 149.33L239.62 151.06L238.75 149.25zM243.65 151.7L242.34 153.4L241.51 151.58zM240.89 143.16L239.67 144.92L238.74 143.15zM243.64 145.53L242.39 147.27L241.5 145.48zM240.88 136.99L239.71 138.79L238.73 137.05zM243.64 139.36L242.43 141.14L241.49 139.37zM240.87 130.82L239.76 132.65L238.73 130.94zM243.63 133.18L242.48 135L241.48 133.27zM240.86 124.65L239.81 126.52L238.72 124.84zM243.62 127.01L242.53 128.86L241.48 127.16zM240.85 118.48L239.86 120.38L238.72 118.73zM243.61 120.85L242.57 122.72L241.48 121.05zM240.85 112.31L239.9 114.23L238.72 112.62zM243.61 114.68L242.62 116.58L241.48 114.94zM240.84 106.14L239.94 108.09L238.72 106.51zM243.6 108.51L242.66 110.44L241.48 108.83zM240.83 99.97L239.98 101.95L238.73 100.39zM243.59 102.34L242.7 104.3L241.48 102.72zM240.82 93.81L240.02 95.8L238.73 94.28zM243.58 96.17L242.74 98.15L241.48 96.6zM240.82 87.64L240.06 89.65L238.73 88.16zM243.58 90.01L242.78 92L241.48 90.48zM240.81 81.47L240.1 83.5L238.74 82.04zM243.57 83.84L242.82 85.85L241.49 84.36zM240.8 75.31L240.14 77.35L238.74 75.92zM243.56 77.68L242.86 79.7L241.49 78.24zM240.79 69.14L240.17 71.2L238.75 69.79zM243.55 71.51L242.89 73.55L241.5 72.12zM240.79 62.98L240.21 65.05L238.75 63.67zM243.55 65.35L242.93 67.4L241.5 66zM240.78 56.81L240.24 58.89L238.76 57.55zM243.54 59.18L242.96 61.25L241.51 59.87zM240.77 50.65L240.27 52.74L238.77 51.42zM243.53 53.02L242.99 55.1L241.51 53.75zM240.77 44.49L240.3 46.58L238.77 45.29zM243.53 46.85L243.02 48.94L241.52 47.62zM240.72 38.37L240.29 40.48L238.74 39.21zM243.47 40.75L243 42.84L241.48 41.55zM240.64 32.31L240.24 34.42L238.67 33.17zM243.39 34.68L242.96 36.78L241.41 35.51zM246.45 229.62L244.5 230.53L244.6 228.53zM249.2 231.99L247.24 232.87L247.37 230.87zM246.45 223.44L244.54 224.42L244.56 222.42zM249.2 225.81L247.28 226.76L247.33 224.76zM246.45 217.26L244.58 218.32L244.52 216.32zM249.2 219.63L247.32 220.66L247.29 218.66zM246.45 211.09L244.62 212.22L244.48 210.22zM249.2 213.46L247.36 214.55L247.25 212.56zM246.45 204.91L244.66 206.11L244.45 204.12zM249.2 207.28L247.4 208.45L247.22 206.46zM246.44 198.73L244.71 200L244.42 198.02zM249.2 201.1L247.44 202.34L247.19 200.36zM246.44 192.56L244.76 193.89L244.39 191.92zM249.2 194.93L247.49 196.23L247.16 194.26zM246.44 186.38L244.8 187.78L244.36 185.82zM249.19 188.75L247.53 190.11L247.13 188.16zM246.43 180.21L244.85 181.66L244.34 179.73zM249.19 182.58L247.58 184L247.11 182.06zM246.43 174.03L244.9 175.54L244.32 173.63zM249.18 176.4L247.63 177.88L247.08 175.96zM246.42 167.86L244.95 169.42L244.3 167.53zM249.18 170.23L247.68 171.76L247.06 169.86zM246.42 161.68L245 163.3L244.28 161.43zM249.17 164.05L247.72 165.64L247.05 163.76zM246.41 155.51L245.05 157.17L244.27 155.33zM249.17 157.88L247.77 159.51L247.03 157.65zM246.4 149.34L245.1 151.04L244.26 149.22zM249.16 151.71L247.82 153.38L247.02 151.55zM246.4 143.17L245.14 144.91L244.25 143.12zM249.15 145.54L247.87 147.25L247.01 145.45zM246.39 136.99L245.19 138.78L244.24 137.02zM249.15 139.36L247.91 141.12L247 139.34zM246.38 130.82L245.24 132.64L244.24 130.91zM249.14 133.19L247.96 134.99L246.99 133.24zM246.37 124.65L245.28 126.5L244.23 124.8zM249.13 127.02L248.01 128.85L246.99 127.13zM246.37 118.48L245.33 120.36L244.23 118.69zM249.13 120.85L248.05 122.71L246.99 121.02zM246.36 112.32L245.37 114.22L244.23 112.58zM249.12 114.68L248.09 116.57L246.98 114.91zM246.35 106.15L245.41 108.08L244.23 106.47zM249.11 108.52L248.13 110.43L246.98 108.79zM246.34 99.98L245.45 101.93L244.23 100.35zM249.1 102.35L248.18 104.28L246.98 102.68zM246.34 93.81L245.49 95.79L244.23 94.24zM249.1 96.18L248.22 98.14L246.98 96.56zM246.33 87.65L245.53 89.64L244.23 88.12zM249.09 90.02L248.25 91.99L246.99 90.45zM246.32 81.48L245.57 83.49L244.24 82zM249.08 83.85L248.29 85.85L246.99 84.33zM246.31 75.32L245.61 77.34L244.24 75.88zM249.08 77.68L248.33 79.7L246.99 78.21zM246.31 69.15L245.64 71.19L244.25 69.76zM249.07 71.52L248.36 73.55L247 72.09zM246.3 62.99L245.67 65.04L244.25 63.63zM249.06 65.35L248.4 67.4L247 65.96zM246.29 56.82L245.71 58.89L244.26 57.51zM249.05 59.19L248.43 61.24L247.01 59.84zM246.29 50.66L245.74 52.73L244.27 51.38zM249.05 53.03L248.46 55.09L247.01 53.71zM246.24 44.54L245.73 46.62L244.23 45.3zM248.99 46.91L248.44 48.99L246.97 47.64zM246.16 38.47L245.68 40.56L244.16 39.26zM248.91 40.84L248.4 42.92L246.9 41.6zM246.08 32.4L245.64 34.5L244.1 33.22zM248.83 34.77L248.35 36.86L246.83 35.56zM251.96 229.62L250.01 230.53L250.1 228.53zM254.71 231.98L252.76 232.87L252.87 230.87zM251.96 223.44L250.05 224.42L250.07 222.42zM254.71 225.81L252.79 226.77L252.83 224.77zM251.96 217.26L250.09 218.32L250.03 216.32zM254.71 219.63L252.83 220.66L252.8 218.66zM251.96 211.09L250.13 212.21L249.99 210.22zM254.71 213.46L252.86 214.55L252.76 212.55zM251.95 204.91L250.17 206.1L249.96 204.11zM254.71 207.28L252.9 208.44L252.73 206.45zM251.95 198.74L250.21 199.99L249.93 198.01zM254.71 201.11L252.95 202.33L252.7 200.35zM251.95 192.56L250.26 193.88L249.9 191.91zM254.71 194.93L252.99 196.22L252.67 194.24zM251.95 186.39L250.3 187.77L249.88 185.81zM254.7 188.76L253.03 190.1L252.64 188.14zM251.94 180.21L250.35 181.65L249.85 179.71zM254.7 182.58L253.08 183.99L252.62 182.04zM251.94 174.04L250.39 175.53L249.83 173.61zM254.69 176.41L253.12 177.87L252.6 175.94zM251.93 167.86L250.44 169.41L249.81 167.51zM254.69 170.23L253.17 171.75L252.58 169.84zM251.93 161.69L250.49 163.28L249.8 161.4zM254.68 164.06L253.21 165.62L252.56 163.73zM251.92 155.52L250.53 157.16L249.78 155.3zM254.68 157.89L253.26 159.5L252.55 157.63zM251.91 149.34L250.58 151.03L249.77 149.2zM254.67 151.71L253.31 153.37L252.53 151.52zM251.91 143.17L250.63 144.9L249.76 143.09zM254.67 145.54L253.35 147.24L252.52 145.42zM251.9 137L250.67 138.76L249.75 136.99zM254.66 139.37L253.4 141.11L252.51 139.31zM251.89 130.83L250.72 132.63L249.75 130.88zM254.65 133.2L253.44 134.97L252.51 133.2zM251.89 124.66L250.76 126.49L249.74 124.77zM254.65 127.03L253.49 128.84L252.5 127.1zM251.88 118.49L250.8 120.35L249.74 118.66zM254.64 120.86L253.53 122.7L252.5 120.98zM251.87 112.32L250.85 114.21L249.74 112.55zM254.63 114.69L253.57 116.56L252.49 114.87zM251.87 106.16L250.89 108.07L249.74 106.43zM254.63 108.52L253.61 110.42L252.49 108.76zM251.86 99.99L250.93 101.92L249.74 100.32zM254.62 102.36L253.65 104.27L252.49 102.64zM251.85 93.82L250.97 95.78L249.74 94.2zM254.61 96.19L253.69 98.13L252.49 96.53zM251.84 87.66L251.01 89.63L249.74 88.08zM254.61 90.02L253.73 91.98L252.49 90.41zM251.84 81.49L251.04 83.48L249.74 81.96zM254.6 83.86L253.77 85.84L252.5 84.29zM251.83 75.32L251.08 77.33L249.75 75.84zM254.59 77.69L253.8 79.69L252.5 78.17zM251.82 69.16L251.11 71.18L249.75 69.72zM254.58 71.53L253.84 73.54L252.5 72.05zM251.82 62.99L251.15 65.03L249.76 63.6zM254.58 65.36L253.87 67.39L252.51 65.93zM251.81 56.83L251.18 58.88L249.76 57.47zM254.57 59.2L253.9 61.24L252.51 59.8zM251.76 50.71L251.17 52.77L249.72 51.39zM254.51 53.09L253.88 55.14L252.46 53.73zM251.68 44.63L251.12 46.71L249.65 45.35zM254.42 47.01L253.83 49.07L252.39 47.69zM251.6 38.56L251.07 40.64L249.58 39.31zM254.34 40.93L253.78 43L252.32 41.65zM251.52 32.49L251.03 34.58L249.52 33.27zM254.26 34.86L253.74 36.94L252.25 35.61zM257.47 229.62L255.52 230.53L255.61 228.53zM260.22 231.98L258.27 232.87L258.38 230.88zM257.47 223.44L255.56 224.42L255.58 222.43zM260.22 225.81L258.3 226.77L258.34 224.77zM257.47 217.27L255.6 218.32L255.54 216.32zM260.22 219.63L258.34 220.66L258.31 218.66zM257.47 211.09L255.63 212.21L255.51 210.21zM260.22 213.46L258.37 214.55L258.28 212.55zM257.46 204.91L255.67 206.1L255.47 204.11zM260.22 207.28L258.41 208.44L258.24 206.45zM257.46 198.74L255.71 199.99L255.45 198zM260.22 201.11L258.45 202.33L258.21 200.34zM257.46 192.56L255.76 193.87L255.42 191.9zM260.22 194.93L258.49 196.21L258.19 194.24zM257.46 186.39L255.8 187.76L255.39 185.8zM260.21 188.76L258.53 190.1L258.16 188.13zM257.45 180.22L255.84 181.64L255.37 179.69zM260.21 182.58L258.58 183.98L258.14 182.03zM257.45 174.04L255.89 175.52L255.35 173.59zM260.21 176.41L258.62 177.86L258.12 175.92zM257.44 167.87L255.93 169.39L255.33 167.49zM260.2 170.24L258.66 171.74L258.1 169.82zM257.44 161.7L255.98 163.27L255.31 161.38zM260.2 164.07L258.71 165.61L258.08 163.71zM257.43 155.52L256.02 157.14L255.3 155.28zM260.19 157.89L258.75 159.48L258.06 157.61zM257.43 149.35L256.07 151.01L255.29 149.17zM260.19 151.72L258.8 153.36L258.05 151.5zM257.42 143.18L256.11 144.88L255.28 143.06zM260.18 145.55L258.84 147.23L258.04 145.39zM257.42 137.01L256.16 138.75L255.27 136.96zM260.17 139.38L258.88 141.09L258.03 139.29zM257.41 130.84L256.2 132.61L255.26 130.85zM260.17 133.21L258.93 134.96L258.02 133.18zM257.4 124.67L256.24 126.48L255.26 124.74zM260.16 127.04L258.97 128.82L258.02 127.07zM257.4 118.5L256.28 120.34L255.25 118.63zM260.16 120.87L259.01 122.69L258.01 120.95zM257.39 112.33L256.33 114.2L255.25 112.51zM260.15 114.7L259.05 116.55L258.01 114.84zM257.38 106.16L256.37 108.06L255.25 106.4zM260.14 108.53L259.09 110.41L258 108.73zM257.37 100L256.41 101.91L255.25 100.28zM260.14 102.37L259.13 104.26L258 102.61zM257.37 93.83L256.44 95.77L255.25 94.17zM260.13 96.2L259.17 98.12L258 96.49zM257.36 87.66L256.48 89.62L255.25 88.05zM260.12 90.03L259.21 91.97L258 90.38zM257.35 81.5L256.52 83.48L255.25 81.93zM260.12 83.86L259.24 85.83L258 84.26zM257.35 75.33L256.55 77.33L255.25 75.81zM260.11 77.7L259.28 79.68L258.01 78.14zM257.34 69.17L256.59 71.18L255.26 69.68zM260.1 71.53L259.31 73.53L258.01 72.01zM257.33 63L256.62 65.03L255.26 63.56zM260.1 65.37L259.35 67.38L258.01 65.89zM257.27 56.89L256.6 58.93L255.21 57.49zM260.01 59.27L259.3 61.3L257.94 59.83zM257.19 50.81L256.55 52.86L255.14 51.44zM259.93 53.19L259.26 55.22L257.87 53.79zM257.11 44.73L256.51 46.79L255.07 45.4zM259.85 47.1L259.21 49.15L257.8 47.74zM257.03 38.65L256.46 40.72L255 39.36zM259.77 41.02L259.17 43.09L257.73 41.7zM256.95 32.58L256.42 34.66L254.93 33.32zM259.69 34.95L259.13 37.02L257.66 35.66zM262.98 229.62L261.04 230.53L261.12 228.54zM265.73 231.98L263.78 232.88L263.89 230.88zM262.98 223.44L261.07 224.43L261.09 222.43zM265.74 225.81L263.81 226.77L263.86 224.77zM262.98 217.27L261.11 218.32L261.05 216.32zM265.74 219.63L263.85 220.66L263.82 218.66zM262.98 211.09L261.14 212.21L261.02 210.21zM265.73 213.46L263.88 214.55L263.79 212.55zM262.98 204.92L261.18 206.09L260.99 204.1zM265.73 207.28L263.92 208.43L263.76 206.44zM262.97 198.74L261.22 199.98L260.96 198zM265.73 201.11L263.96 202.32L263.73 200.33zM262.97 192.57L261.26 193.86L260.93 191.89zM265.73 194.94L264 196.2L263.7 194.23zM262.97 186.39L261.3 187.75L260.91 185.78zM265.73 188.76L264.04 190.09L263.68 188.12zM262.97 180.22L261.34 181.63L260.89 179.68zM265.72 182.59L264.08 183.97L263.66 182.01zM262.96 174.05L261.39 175.51L260.87 173.57zM265.72 176.42L264.12 177.85L263.63 175.91zM262.96 167.87L261.43 169.38L260.85 167.47zM265.72 170.24L264.16 171.72L263.62 169.8zM262.95 161.7L261.47 163.26L260.83 161.36zM265.71 164.07L264.2 165.6L263.6 163.69zM262.95 155.53L261.52 157.13L260.82 155.26zM265.71 157.9L264.25 159.47L263.58 157.59zM262.94 149.36L261.56 151L260.81 149.15zM265.7 151.73L264.29 153.34L263.57 151.48zM262.94 143.19L261.6 144.87L260.79 143.04zM265.7 145.56L264.33 147.21L263.56 145.37zM262.93 137.02L261.64 138.74L260.78 136.93zM265.69 139.39L264.37 141.08L263.55 139.26zM262.92 130.85L261.69 132.6L260.78 130.82zM265.68 133.22L264.41 134.95L263.54 133.15zM262.92 124.68L261.73 126.46L260.77 124.71zM265.68 127.05L264.46 128.81L263.53 127.04zM262.91 118.51L261.77 120.33L260.77 118.6zM265.67 120.88L264.5 122.67L263.53 120.92zM262.9 112.34L261.81 114.19L260.76 112.48zM265.67 114.71L264.54 116.53L263.52 114.81zM262.9 106.17L261.85 108.04L260.76 106.37zM265.66 108.54L264.58 110.39L263.52 108.7zM262.89 100L261.89 101.9L260.76 100.25zM265.65 102.37L264.61 104.25L263.52 102.58zM262.88 93.84L261.92 95.76L260.76 94.13zM265.65 96.21L264.65 98.11L263.51 96.46zM262.88 87.67L261.96 89.61L260.76 88.01zM265.64 90.04L264.69 91.96L263.51 90.34zM262.87 81.51L262 83.47L260.76 81.89zM265.63 83.87L264.72 85.82L263.52 84.22zM262.87 75.34L262.03 77.32L260.76 75.77zM265.63 77.71L264.76 79.67L263.52 78.1zM262.86 69.17L262.07 71.17L260.76 69.65zM265.6 71.56L264.77 73.54L263.5 72zM262.77 63.08L262.02 65.09L260.69 63.59zM265.51 65.46L264.73 67.46L263.42 65.94zM262.69 56.99L261.98 59.01L260.62 57.54zM265.43 59.37L264.68 61.38L263.35 59.89zM262.61 50.9L261.93 52.94L260.55 51.49zM265.35 53.28L264.64 55.31L263.28 53.84zM262.53 44.82L261.89 46.87L260.48 45.45zM265.27 47.2L264.59 49.23L263.21 47.79zM262.45 38.74L261.84 40.8L260.41 39.4zM265.19 41.11L264.55 43.16L263.14 41.75zM262.37 32.67L261.8 34.73L260.34 33.36zM265.11 35.04L264.51 37.1L263.07 35.7zM268.49 229.61L266.55 230.54L266.63 228.54zM271.25 231.98L269.3 232.88L269.4 230.88zM268.49 223.44L266.58 224.43L266.6 222.43zM271.25 225.81L269.33 226.77L269.37 224.77zM268.49 217.27L266.62 218.31L266.57 216.32zM271.25 219.63L269.36 220.66L269.34 218.66zM268.49 211.09L266.65 212.2L266.54 210.21zM271.25 213.46L269.4 214.54L269.31 212.55zM268.49 204.92L266.69 206.09L266.51 204.1zM271.25 207.29L269.43 208.43L269.28 206.44zM268.49 198.74L266.73 199.97L266.48 197.99zM271.25 201.11L269.47 202.31L269.25 200.33zM268.49 192.57L266.77 193.86L266.45 191.88zM271.24 194.94L269.5 196.2L269.22 194.22zM268.48 186.4L266.81 187.74L266.43 185.77zM271.24 188.77L269.54 190.08L269.2 188.11zM268.48 180.22L266.85 181.62L266.41 179.67zM271.24 182.59L269.58 183.96L269.18 182zM268.48 174.05L266.89 175.49L266.39 173.56zM271.24 176.42L269.62 177.84L269.15 175.89zM268.47 167.88L266.93 169.37L266.37 167.45zM271.23 170.25L269.66 171.71L269.14 169.78zM268.47 161.71L266.97 163.24L266.35 161.34zM271.23 164.08L269.7 165.59L269.12 163.68zM268.46 155.54L267.01 157.12L266.34 155.23zM271.22 157.9L269.74 159.46L269.1 157.57zM268.46 149.36L267.05 150.99L266.32 149.12zM271.22 151.73L269.78 153.33L269.09 151.46zM268.45 143.19L267.09 144.86L266.31 143.02zM271.21 145.56L269.83 147.2L269.08 145.35zM268.45 137.02L267.13 138.72L266.3 136.9zM271.21 139.39L269.87 141.07L269.07 139.24zM268.44 130.85L267.18 132.59L266.29 130.79zM271.2 133.22L269.91 134.93L269.06 133.12zM268.44 124.68L267.22 126.45L266.29 124.68zM271.2 127.05L269.95 128.8L269.05 127.01zM268.43 118.52L267.26 120.31L266.28 118.57zM271.19 120.88L269.99 122.66L269.04 120.9zM268.42 112.35L267.29 114.17L266.28 112.45zM271.18 114.72L270.02 116.52L269.04 114.78zM268.42 106.18L267.33 108.03L266.28 106.34zM271.18 108.55L270.06 110.38L269.03 108.67zM268.41 100.01L267.37 101.89L266.27 100.22zM271.17 102.38L270.1 104.24L269.03 102.55zM268.4 93.85L267.41 95.75L266.27 94.1zM271.17 96.21L270.14 98.1L269.03 96.43zM268.4 87.68L267.44 89.6L266.27 87.98zM271.16 90.05L270.17 91.95L269.03 90.31zM268.39 81.51L267.48 83.46L266.27 81.86zM271.15 83.88L270.21 85.81L269.03 84.19zM268.35 75.37L267.48 77.33L266.24 75.76zM271.09 77.76L270.18 79.71L268.97 78.12zM268.27 69.27L267.44 71.25L266.17 69.71zM271 71.66L270.14 73.62L268.89 72.06zM268.19 63.17L267.4 65.17L266.09 63.65zM270.92 65.56L270.1 67.54L268.82 66zM268.11 57.08L267.35 59.09L266.02 57.6zM270.84 59.46L270.06 61.46L268.75 59.94zM268.03 50.99L267.31 53.02L265.95 51.55zM270.77 53.37L270.01 55.38L268.68 53.89zM267.95 44.91L267.27 46.95L265.89 45.5zM270.69 47.29L269.97 49.31L268.61 47.84zM267.87 38.83L267.22 40.88L265.82 39.45zM270.61 41.21L269.93 43.24L268.55 41.8zM267.8 32.75L267.18 34.81L265.75 33.41zM270.53 35.13L269.89 37.17L268.48 35.75zM274.01 229.61L272.07 230.54L272.15 228.54zM276.76 231.98L274.82 232.88L274.92 230.88zM274.01 223.44L272.1 224.43L272.11 222.43zM276.77 225.81L274.85 226.77L274.88 224.77zM274.01 217.27L272.13 218.31L272.08 216.31zM276.77 219.63L274.88 220.66L274.85 218.66zM274.01 211.09L272.17 212.2L272.05 210.2zM276.76 213.46L274.91 214.54L274.82 212.54zM274.01 204.92L272.2 206.08L272.02 204.09zM276.76 207.29L274.94 208.43L274.79 206.43zM274 198.75L272.24 199.97L272 197.98zM276.76 201.11L274.98 202.31L274.77 200.32zM274 192.57L272.27 193.85L271.97 191.87zM276.76 194.94L275.01 196.19L274.74 194.21zM274 186.4L272.31 187.73L271.95 185.76zM276.76 188.77L275.05 190.07L274.72 188.1zM274 180.23L272.35 181.61L271.93 179.65zM276.76 182.6L275.09 183.95L274.7 181.99zM273.99 174.06L272.39 175.48L271.91 173.54zM276.75 176.42L275.13 177.83L274.68 175.88zM273.99 167.88L272.43 169.36L271.89 167.43zM276.75 170.25L275.17 171.7L274.66 169.77zM273.98 161.71L272.47 163.23L271.87 161.32zM276.74 164.08L275.2 165.58L274.64 163.66zM273.98 155.54L272.51 157.11L271.86 155.21zM276.74 157.91L275.24 159.45L274.62 157.55zM273.98 149.37L272.55 150.98L271.84 149.1zM276.74 151.74L275.28 153.32L274.61 151.44zM273.97 143.2L272.59 144.84L271.83 142.99zM276.73 145.57L275.32 147.19L274.6 145.32zM273.96 137.03L272.63 138.71L271.82 136.88zM276.73 139.4L275.36 141.06L274.59 139.21zM273.96 130.86L272.67 132.58L271.81 130.77zM276.72 133.23L275.4 134.92L274.58 133.1zM273.95 124.69L272.71 126.44L271.81 124.65zM276.72 127.06L275.44 128.79L274.57 126.99zM273.95 118.52L272.75 120.3L271.8 118.54zM276.71 120.89L275.48 122.65L274.56 120.87zM273.94 112.35L272.78 114.16L271.8 112.42zM276.7 114.72L275.51 116.51L274.56 114.75zM273.94 106.19L272.82 108.02L271.79 106.31zM276.7 108.55L275.55 110.37L274.55 108.64zM273.93 100.02L272.86 101.88L271.79 100.19zM276.69 102.39L275.59 104.23L274.55 102.52zM273.92 93.85L272.89 95.74L271.79 94.07zM276.69 96.22L275.62 98.09L274.55 96.4zM273.92 87.69L272.93 89.59L271.78 87.95zM276.64 90.08L275.62 91.97L274.51 90.31zM273.84 81.58L272.89 83.5L271.71 81.88zM276.56 83.96L275.58 85.87L274.43 84.24zM273.76 75.47L272.85 77.41L271.64 75.82zM276.49 77.86L275.55 79.79L274.36 78.17zM273.68 69.37L272.81 71.33L271.57 69.76zM276.41 71.75L275.51 73.7L274.29 72.11zM273.6 63.27L272.77 65.25L271.49 63.7zM276.33 65.65L275.47 67.62L274.22 66.05zM273.52 57.17L272.73 59.17L271.43 57.65zM276.25 59.56L275.43 61.54L274.15 60zM273.44 51.09L272.68 53.09L271.36 51.6zM276.18 53.46L275.39 55.46L274.08 53.94zM273.36 45L272.64 47.02L271.29 45.55zM276.1 47.38L275.35 49.39L274.02 47.89zM273.29 38.92L272.6 40.95L271.22 39.5zM276.02 41.29L275.3 43.32L273.95 41.85zM273.21 32.84L272.56 34.89L271.16 33.46zM275.95 35.22L275.26 37.25L273.88 35.8zM279.52 229.61L277.59 230.54L277.66 228.54zM282.28 231.98L280.34 232.89L280.43 230.89zM279.52 223.44L277.62 224.43L277.63 222.43zM282.28 225.81L280.36 226.77L280.4 224.77zM279.52 217.27L277.65 218.31L277.6 216.31zM282.28 219.63L280.39 220.66L280.37 218.66zM279.52 211.09L277.68 212.2L277.57 210.2zM282.28 213.46L280.43 214.54L280.34 212.54zM279.52 204.92L277.71 206.08L277.54 204.09zM282.28 207.29L280.46 208.42L280.31 206.43zM279.52 198.75L277.75 199.96L277.52 197.97zM282.28 201.12L280.49 202.3L280.29 200.31zM279.52 192.58L277.78 193.84L277.49 191.86zM282.28 194.94L280.53 196.18L280.26 194.2zM279.52 186.4L277.82 187.72L277.47 185.75zM282.28 188.77L280.56 190.06L280.24 188.09zM279.51 180.23L277.86 181.6L277.45 179.64zM282.27 182.6L280.6 183.94L280.22 181.98zM279.51 174.06L277.89 175.48L277.43 173.53zM282.27 176.43L280.63 177.82L280.2 175.87zM279.51 167.89L277.93 169.35L277.41 167.42zM282.27 170.26L280.67 171.69L280.18 169.75zM279.5 161.72L277.97 163.22L277.4 161.31zM282.26 164.09L280.71 165.57L280.16 163.64zM279.5 155.55L278.01 157.09L277.38 155.2zM282.26 157.91L280.75 159.44L280.15 157.53zM279.49 149.38L278.05 150.96L277.37 149.08zM282.26 151.74L280.78 153.31L280.13 151.42zM279.49 143.21L278.09 144.83L277.36 142.97zM282.25 145.57L280.82 147.18L280.12 145.3zM279.48 137.04L278.13 138.7L277.34 136.86zM282.25 139.4L280.86 141.04L280.11 139.19zM279.48 130.87L278.16 132.56L277.34 130.74zM282.24 133.24L280.9 134.91L280.1 133.08zM279.47 124.7L278.2 126.43L277.33 124.63zM282.24 127.07L280.94 128.77L280.09 126.96zM279.47 118.53L278.24 120.29L277.32 118.51zM282.23 120.9L280.97 122.64L280.08 120.85zM279.46 112.36L278.28 114.15L277.32 112.4zM282.23 114.73L281.01 116.5L280.08 114.73zM279.46 106.19L278.31 108.01L277.31 106.28zM282.22 108.56L281.05 110.36L280.07 108.61zM279.45 100.03L278.35 101.87L277.31 100.16zM282.18 102.41L281.05 104.24L280.04 102.51zM279.39 93.9L278.32 95.76L277.25 94.08zM282.11 96.29L281.02 98.14L279.97 96.43zM279.31 87.78L278.29 89.67L277.17 88.01zM282.03 90.17L280.98 92.04L279.89 90.36zM279.23 81.67L278.25 83.58L277.1 81.94zM281.96 84.06L280.94 85.95L279.82 84.29zM279.16 75.56L278.21 77.49L277.03 75.88zM281.88 77.95L280.91 79.86L279.75 78.23zM279.08 69.46L278.17 71.41L276.96 69.82zM281.81 71.84L280.87 73.77L279.68 72.17zM279 63.36L278.13 65.32L276.89 63.76zM281.73 65.74L280.83 67.69L279.61 66.11zM278.93 57.27L278.1 59.25L276.82 57.7zM281.66 59.65L280.79 61.61L279.55 60.05zM278.85 51.18L278.06 53.17L276.76 51.65zM281.58 53.55L280.76 55.54L279.48 54zM278.78 45.09L278.02 47.1L276.69 45.6zM281.51 47.47L280.72 49.46L279.41 47.95zM278.7 39.01L277.98 41.03L276.62 39.55zM281.43 41.38L280.68 43.39L279.35 41.9zM278.63 32.93L277.94 34.96L276.56 33.51zM281.36 35.3L280.64 37.32L279.29 35.85zM285.04 229.61L283.11 230.54L283.18 228.54zM287.8 231.98L285.86 232.89L285.95 230.89zM285.04 223.44L283.14 224.43L283.15 222.43zM287.8 225.81L285.88 226.77L285.92 224.77zM285.04 217.27L283.17 218.31L283.12 216.31zM287.8 219.63L285.91 220.66L285.89 218.66zM285.04 211.1L283.2 212.19L283.09 210.2zM287.8 213.46L285.94 214.54L285.86 212.54zM285.04 204.92L283.23 206.08L283.07 204.08zM287.8 207.29L285.97 208.42L285.84 206.42zM285.04 198.75L283.26 199.96L283.04 197.97zM287.8 201.12L286.01 202.3L285.81 200.31zM285.04 192.58L283.3 193.84L283.02 191.86zM287.8 194.95L286.04 196.18L285.79 194.2zM285.04 186.41L283.33 187.71L282.99 185.74zM287.8 188.77L286.07 190.06L285.76 188.08zM285.03 180.24L283.37 181.59L282.97 179.63zM287.79 182.6L286.11 183.93L285.74 181.97zM285.03 174.06L283.4 175.47L282.95 173.52zM287.79 176.43L286.14 177.81L285.72 175.85zM285.03 167.89L283.44 169.34L282.94 167.4zM287.79 170.26L286.18 171.68L285.7 169.74zM285.02 161.72L283.48 163.21L282.92 161.29zM287.78 164.09L286.22 165.56L285.69 163.63zM285.02 155.55L283.51 157.08L282.9 155.18zM287.78 157.92L286.25 159.43L285.67 157.51zM285.01 149.38L283.55 150.95L282.89 149.06zM287.78 151.75L286.29 153.3L285.66 151.4zM285.01 143.21L283.59 144.82L282.88 142.95zM287.77 145.58L286.33 147.17L285.65 145.28zM285.01 137.04L283.62 138.69L282.87 136.84zM287.77 139.41L286.36 141.03L285.63 139.17zM285 130.87L283.66 132.55L282.86 130.72zM287.76 133.24L286.4 134.9L285.62 133.05zM285 124.7L283.7 126.42L282.85 124.6zM287.76 127.07L286.43 128.76L285.62 126.94zM284.99 118.54L283.73 120.28L282.84 118.49zM287.75 120.9L286.47 122.63L285.61 120.82zM284.98 112.37L283.77 114.14L282.84 112.37zM287.7 114.76L286.46 116.51L285.55 114.73zM284.92 106.24L283.74 108.03L282.77 106.29zM287.63 108.63L286.43 110.41L285.49 108.64zM284.85 100.11L283.71 101.93L282.7 100.21zM287.56 102.5L286.4 104.31L285.42 102.56zM284.77 93.99L283.68 95.84L282.63 94.13zM287.49 96.38L286.37 98.21L285.35 96.49zM284.7 87.87L283.65 89.74L282.56 88.06zM287.42 90.26L286.34 92.11L285.28 90.42zM284.62 81.76L283.61 83.65L282.49 81.99zM287.35 84.15L286.3 86.02L285.21 84.35zM284.55 75.65L283.57 77.56L282.42 75.93zM287.27 78.04L286.27 79.93L285.14 78.28zM284.48 69.55L283.54 71.48L282.35 69.87zM287.2 71.93L286.23 73.85L285.07 72.22zM284.4 63.45L283.5 65.4L282.29 63.81zM287.13 65.83L286.2 67.77L285.01 66.16zM284.33 57.35L283.46 59.32L282.22 57.75zM287.06 59.73L286.16 61.69L284.94 60.1zM284.25 51.26L283.42 53.24L282.15 51.7zM286.98 53.64L286.12 55.61L284.87 54.05zM284.18 45.18L283.39 47.17L282.09 45.65zM286.91 47.55L286.09 49.54L284.81 48zM284.11 39.09L283.35 41.1L282.02 39.6zM286.84 41.47L286.05 43.46L284.75 41.95zM284.04 33.02L283.31 35.03L281.96 33.56zM286.77 35.39L286.01 37.4L284.68 35.9zM290.56 229.61L288.63 230.54L288.7 228.55zM293.32 231.98L291.38 232.89L291.47 230.89zM290.56 223.44L288.66 224.43L288.67 222.43zM293.32 225.81L291.41 226.77L291.44 224.77zM290.56 217.27L288.68 218.31L288.64 216.31zM293.32 219.63L291.43 220.65L291.41 218.65zM290.56 211.1L288.71 212.19L288.61 210.19zM293.32 213.46L291.46 214.54L291.39 212.54zM290.56 204.92L288.75 206.07L288.59 204.08zM293.32 207.29L291.49 208.42L291.36 206.42zM290.56 198.75L288.78 199.95L288.56 197.96zM293.32 201.12L291.52 202.3L291.33 200.3zM290.56 192.58L288.81 193.83L288.54 191.85zM293.32 194.95L291.56 196.17L291.31 194.19zM290.56 186.41L288.84 187.71L288.52 185.73zM293.32 188.78L291.59 190.05L291.29 188.07zM290.55 180.24L288.88 181.58L288.5 179.62zM293.32 182.61L291.62 183.93L291.27 181.96zM290.55 174.07L288.91 175.46L288.48 173.51zM293.31 176.44L291.66 177.8L291.25 175.84zM290.55 167.9L288.95 169.33L288.46 167.39zM293.31 170.26L291.69 171.67L291.23 169.73zM290.54 161.73L288.98 163.2L288.44 161.28zM293.31 164.09L291.73 165.55L291.21 163.61zM290.54 155.56L289.02 157.07L288.43 155.16zM293.3 157.92L291.76 159.42L291.2 157.5zM290.54 149.39L289.06 150.94L288.42 149.05zM293.3 151.75L291.8 153.29L291.18 151.38zM290.53 143.22L289.09 144.81L288.4 142.93zM293.3 145.58L291.83 147.16L291.17 145.27zM290.53 137.05L289.13 138.68L288.39 136.82zM293.29 139.42L291.87 141.02L291.16 139.15zM290.52 130.88L289.16 132.54L288.38 130.7zM293.26 133.26L291.87 134.9L291.12 133.05zM290.49 124.72L289.17 126.42L288.35 124.59zM293.2 127.11L291.85 128.79L291.06 126.95zM290.43 118.58L289.15 120.31L288.28 118.51zM293.14 120.98L291.83 122.68L290.99 120.86zM290.36 112.45L289.12 114.2L288.21 112.42zM293.07 114.84L291.81 116.57L290.93 114.78zM290.29 106.32L289.09 108.1L288.15 106.34zM293.01 108.71L291.78 110.47L290.86 108.7zM290.22 100.19L289.06 102L288.08 100.26zM292.94 102.58L291.75 104.37L290.79 102.62zM290.15 94.07L289.03 95.91L288.01 94.19zM292.87 96.46L291.72 98.28L290.73 96.54zM290.08 87.96L289 89.81L287.94 88.12zM292.8 90.34L291.69 92.18L290.66 90.47zM290.01 81.85L288.97 83.72L287.88 82.05zM292.73 84.23L291.66 86.09L290.59 84.4zM289.94 75.74L288.93 77.64L287.81 75.98zM292.66 78.12L291.63 80L290.53 78.33zM289.87 69.64L288.9 71.55L287.74 69.92zM292.59 72.02L291.59 73.92L290.46 72.27zM289.8 63.54L288.86 65.47L287.68 63.86zM292.52 65.92L291.56 67.84L290.39 66.21zM289.73 57.44L288.83 59.39L287.61 57.81zM292.45 59.82L291.52 61.76L290.33 60.15zM289.65 51.35L288.79 53.32L287.55 51.75zM292.38 53.73L291.49 55.68L290.27 54.1zM289.58 45.26L288.75 47.24L287.48 45.7zM292.31 47.64L291.45 49.61L290.2 48.05zM289.51 39.18L288.72 41.17L287.42 39.65zM292.24 41.55L291.42 43.54L290.14 42zM289.44 33.1L288.68 35.11L287.36 33.61zM292.17 35.47L291.38 37.47L290.08 35.95zM296.08 229.61L294.15 230.55L294.22 228.55zM298.85 231.98L296.9 232.89L296.99 230.89zM296.08 223.44L294.18 224.43L294.19 222.43zM298.85 225.81L296.93 226.77L296.96 224.77zM296.08 217.27L294.21 218.31L294.16 216.31zM298.85 219.63L296.96 220.65L296.94 218.65zM296.08 211.1L294.23 212.19L294.14 210.19zM298.85 213.46L296.98 214.53L296.91 212.54zM296.08 204.93L294.26 206.07L294.11 204.07zM298.84 207.29L297.01 208.41L296.88 206.42zM296.08 198.75L294.3 199.95L294.09 197.96zM298.84 201.12L297.04 202.29L296.86 200.3zM296.08 192.58L294.33 193.82L294.07 191.84zM298.84 194.95L297.07 196.17L296.84 194.18zM296.08 186.41L294.36 187.7L294.04 185.73zM298.84 188.78L297.11 190.04L296.82 188.07zM296.08 180.24L294.39 181.58L294.02 179.61zM298.84 182.61L297.14 183.92L296.8 181.95zM296.07 174.07L294.43 175.45L294.01 173.49zM298.84 176.44L297.17 177.79L296.78 175.83zM296.07 167.9L294.46 169.32L293.99 167.38zM298.83 170.27L297.2 171.67L296.76 169.72zM296.07 161.73L294.49 163.19L293.97 161.26zM298.83 164.1L297.24 165.54L296.74 163.6zM296.06 155.56L294.53 157.06L293.96 155.15zM298.82 157.93L297.26 159.41L296.72 157.49zM296.06 149.39L294.56 150.93L293.94 149.03zM298.77 151.77L297.25 153.29L296.66 151.38zM296.03 143.23L294.57 144.81L293.9 142.92zM298.72 145.62L297.24 147.18L296.6 145.28zM295.97 137.08L294.55 138.69L293.84 136.83zM298.67 139.47L297.23 141.06L296.54 139.18zM295.92 130.94L294.54 132.58L293.78 130.73zM298.62 133.33L297.21 134.95L296.48 133.09zM295.86 124.8L294.52 126.47L293.71 124.64zM298.56 127.19L297.19 128.84L296.42 127zM295.79 118.66L294.49 120.37L293.65 118.55zM298.5 121.05L297.17 122.74L296.36 120.91zM295.73 112.53L294.47 114.27L293.59 112.47zM298.44 114.92L297.15 116.63L296.29 114.83zM295.67 106.4L294.44 108.17L293.52 106.39zM298.38 108.79L297.13 110.53L296.23 108.75zM295.6 100.28L294.41 102.07L293.45 100.31zM298.31 102.66L297.1 104.44L296.17 102.67zM295.53 94.16L294.39 95.97L293.39 94.24zM298.25 96.54L297.07 98.34L296.1 96.59zM295.47 88.04L294.36 89.88L293.32 88.17zM298.18 90.43L297.04 92.25L296.04 90.52zM295.4 81.93L294.32 83.79L293.26 82.1zM298.11 84.32L297.01 86.16L295.97 84.45zM295.33 75.83L294.29 77.71L293.19 76.03zM298.05 78.21L296.98 80.07L295.91 78.38zM295.26 69.72L294.26 71.62L293.13 69.97zM297.98 72.1L296.95 73.99L295.84 72.32zM295.19 63.62L294.22 65.54L293.06 63.91zM297.91 66L296.92 67.91L295.78 66.26zM295.12 57.53L294.19 59.46L293 57.86zM297.84 59.91L296.88 61.83L295.72 60.2zM295.05 51.44L294.16 53.39L292.94 51.8zM297.77 53.81L296.85 55.75L295.65 54.15zM294.98 45.35L294.12 47.31L292.87 45.75zM297.71 47.72L296.82 49.68L295.59 48.09zM294.91 39.26L294.08 41.24L292.81 39.7zM297.64 41.64L296.78 43.61L295.53 42.04zM294.85 33.18L294.05 35.18L292.75 33.65zM297.57 35.56L296.75 37.54L295.47 36zM301.61 229.61L299.68 230.55L299.74 228.55zM304.37 231.98L302.43 232.89L302.51 230.9zM301.61 223.44L299.7 224.43L299.71 222.43zM304.37 225.81L302.45 226.77L302.49 224.77zM301.61 217.27L299.73 218.31L299.69 216.31zM304.37 219.63L302.48 220.65L302.46 218.65zM301.61 211.1L299.76 212.19L299.66 210.19zM304.37 213.46L302.51 214.53L302.43 212.53zM301.61 204.93L299.79 206.07L299.64 204.07zM304.37 207.29L302.54 208.41L302.41 206.41zM301.61 198.76L299.82 199.94L299.61 197.95zM304.37 201.12L302.56 202.29L302.39 200.3zM301.6 192.59L299.85 193.82L299.59 191.83zM304.35 194.95L302.58 196.17L302.35 194.18zM301.6 186.42L299.88 187.69L299.57 185.72zM304.33 188.79L302.59 190.04L302.31 188.06zM301.6 180.25L299.91 181.57L299.55 179.6zM304.3 182.62L302.6 183.92L302.27 181.95zM301.59 174.08L299.94 175.44L299.53 173.48zM304.28 176.46L302.6 177.8L302.22 175.84zM301.56 167.91L299.94 169.32L299.48 167.37zM304.24 170.3L302.6 171.68L302.17 169.73zM301.52 161.75L299.93 163.2L299.43 161.27zM304.2 164.14L302.6 165.57L302.12 163.62zM301.48 155.6L299.93 157.09L299.37 155.16zM304.16 157.98L302.6 159.45L302.07 157.52zM301.43 149.45L299.92 150.97L299.32 149.06zM304.12 151.83L302.59 153.34L302.01 151.42zM301.38 143.3L299.91 144.86L299.26 142.96zM304.07 145.68L302.58 147.22L301.96 145.32zM301.33 137.15L299.89 138.75L299.2 136.87zM304.02 139.54L302.57 141.11L301.9 139.23zM301.27 131.01L299.88 132.64L299.14 130.78zM303.97 133.4L302.55 135L301.84 133.13zM301.22 124.87L299.86 126.53L299.08 124.69zM303.92 127.26L302.53 128.9L301.78 127.04zM301.16 118.74L299.84 120.43L299.02 118.6zM303.86 121.12L302.51 122.79L301.72 120.96zM301.1 112.61L299.81 114.33L298.95 112.52zM303.8 114.99L302.49 116.69L301.66 114.87zM301.04 106.48L299.79 108.23L298.89 106.44zM303.74 108.87L302.47 110.59L301.6 108.79zM300.97 100.36L299.76 102.13L298.83 100.36zM303.68 102.74L302.45 104.5L301.54 102.72zM300.91 94.24L299.74 96.04L298.76 94.29zM303.62 96.62L302.42 98.4L301.47 96.64zM300.84 88.13L299.71 89.95L298.7 88.22zM303.56 90.51L302.39 92.31L301.41 90.57zM300.78 82.01L299.68 83.86L298.64 82.15zM303.49 84.4L302.36 86.22L301.35 84.5zM300.71 75.91L299.65 77.77L298.57 76.09zM303.43 78.29L302.34 80.14L301.29 78.44zM300.65 69.81L299.62 71.69L298.51 70.02zM303.36 72.19L302.31 74.05L301.22 72.37zM300.58 63.71L299.58 65.61L298.45 63.96zM303.3 66.09L302.27 67.97L301.16 66.31zM300.51 57.61L299.55 59.53L298.39 57.91zM303.23 59.99L302.24 61.89L301.1 60.25zM300.44 51.52L299.52 53.46L298.32 51.85zM303.17 53.9L302.21 55.82L301.04 54.2zM300.38 45.43L299.48 47.38L298.26 45.8zM303.1 47.81L302.18 49.75L300.98 48.14zM300.31 39.35L299.45 41.31L298.2 39.75zM303.03 41.72L302.14 43.67L300.92 42.09zM300.25 33.27L299.42 35.25L298.14 33.7zM302.97 35.64L302.11 37.61L300.86 36.04zM307.06 229.61L305.13 230.55L305.19 228.55zM309.72 231.97L307.78 232.89L307.86 230.89zM307.06 223.44L305.15 224.43L305.17 222.43zM309.72 225.8L307.81 226.77L307.84 224.77zM307.06 217.27L305.18 218.31L305.14 216.31zM309.72 219.64L307.83 220.65L307.81 218.66zM307.05 211.1L305.2 212.19L305.11 210.19zM309.72 213.47L307.86 214.54L307.79 212.54zM307.04 204.93L305.22 206.07L305.08 204.07zM309.71 207.31L307.88 208.42L307.76 206.42zM307.03 198.77L305.24 199.95L305.04 197.96zM309.7 201.14L307.89 202.3L307.72 200.31zM307.01 192.6L305.25 193.83L305 191.84zM309.68 194.98L307.91 196.18L307.69 194.19zM306.99 186.44L305.26 187.71L304.96 185.73zM309.66 188.82L307.92 190.06L307.65 188.08zM306.96 180.28L305.26 181.59L304.92 179.62zM309.64 182.65L307.93 183.95L307.6 181.97zM306.93 174.12L305.27 175.47L304.87 173.51zM309.61 176.5L307.93 177.83L307.56 175.87zM306.9 167.96L305.27 169.36L304.82 167.41zM309.58 170.34L307.93 171.72L307.51 169.76zM306.86 161.8L305.26 163.24L304.77 161.3zM309.55 164.19L307.93 165.6L307.47 163.66zM306.82 155.65L305.26 157.13L304.72 155.2zM309.51 158.04L307.93 159.49L307.42 157.56zM306.78 149.5L305.25 151.01L304.67 149.1zM309.47 151.89L307.92 153.38L307.36 151.46zM306.73 143.36L305.24 144.9L304.61 143zM309.42 145.74L307.91 147.27L307.31 145.36zM306.68 137.21L305.23 138.8L304.56 136.91zM309.38 139.6L307.9 141.16L307.25 139.27zM306.63 131.08L305.21 132.69L304.5 130.82zM309.33 133.46L307.89 135.05L307.2 133.18zM306.58 124.94L305.2 126.58L304.44 124.73zM309.28 127.32L307.87 128.95L307.14 127.09zM306.52 118.81L305.18 120.48L304.38 118.65zM309.22 121.19L307.85 122.85L307.08 121zM306.46 112.68L305.16 114.38L304.32 112.57zM309.17 115.06L307.84 116.75L307.02 114.92zM306.4 106.56L305.13 108.29L304.26 106.49zM309.11 108.94L307.81 110.65L306.96 108.84zM306.34 100.43L305.11 102.19L304.2 100.41zM309.05 102.82L307.79 104.56L306.9 102.76zM306.28 94.32L305.08 96.1L304.14 94.34zM308.99 96.7L307.77 98.46L306.84 96.69zM306.22 88.2L305.06 90.01L304.07 88.27zM308.93 90.59L307.74 92.37L306.78 90.62zM306.16 82.1L305.03 83.92L304.01 82.2zM308.87 84.48L307.72 86.29L306.72 84.55zM306.09 75.99L305 77.84L303.95 76.14zM308.81 78.37L307.69 80.2L306.66 78.48zM306.03 69.89L304.97 71.76L303.89 70.07zM308.74 72.27L307.66 74.12L306.6 72.42zM305.96 63.79L304.94 65.68L303.83 64.01zM308.68 66.17L307.63 68.04L306.54 66.36zM305.9 57.69L304.91 59.6L303.77 57.96zM308.62 60.07L307.6 61.96L306.48 60.3zM305.83 51.6L304.88 53.52L303.71 51.9zM308.55 53.98L307.57 55.88L306.42 54.25zM305.77 45.51L304.84 47.45L303.65 45.85zM308.49 47.89L307.54 49.81L306.36 48.19zM305.71 39.43L304.81 41.38L303.59 39.8zM308.43 41.8L307.51 43.74L306.31 42.14zM305.64 33.35L304.78 35.31L303.53 33.75zM308.36 35.72L307.47 37.67L306.25 36.09zM312.39 229.6L310.46 230.54L310.52 228.54zM315.05 231.96L313.11 232.88L313.19 230.88zM312.39 223.44L310.48 224.43L310.5 222.43zM315.05 225.8L313.14 226.77L313.17 224.77zM312.39 217.27L310.51 218.31L310.47 216.31zM315.05 219.64L313.16 220.66L313.15 218.66zM312.38 211.11L310.53 212.2L310.44 210.2zM315.05 213.48L313.19 214.54L313.12 212.54zM312.37 204.95L310.55 206.08L310.41 204.08zM315.04 207.32L313.21 208.43L313.09 206.43zM312.36 198.79L310.56 199.96L310.38 197.97zM315.03 201.16L313.22 202.31L313.06 200.32zM312.34 192.63L310.58 193.85L310.34 191.86zM315.02 195L313.24 196.2L313.02 194.21zM312.32 186.47L310.59 187.73L310.3 185.75zM315 188.84L313.25 190.08L312.98 188.1zM312.3 180.31L310.59 181.62L310.26 179.64zM314.98 182.69L313.25 183.97L312.94 181.99zM312.27 174.16L310.6 175.5L310.21 173.54zM314.95 176.53L313.26 177.86L312.9 175.89zM312.24 168L310.6 169.39L310.17 167.43zM314.92 170.38L313.26 171.75L312.86 169.79zM312.2 161.85L310.6 163.28L310.12 161.33zM314.89 164.23L313.26 165.63L312.81 163.69zM312.16 155.7L310.59 157.16L310.07 155.23zM314.85 158.08L313.26 159.52L312.76 157.59zM312.12 149.56L310.58 151.06L310.02 149.14zM314.81 151.94L313.25 153.42L312.71 151.49zM312.08 143.42L310.58 144.95L309.96 143.04zM314.77 145.8L313.25 147.31L312.66 145.4zM312.03 137.28L310.56 138.84L309.91 136.95zM314.73 139.66L313.24 141.2L312.61 139.31zM311.98 131.14L310.55 132.74L309.86 130.86zM314.68 133.52L313.22 135.1L312.55 133.22zM311.93 125.01L310.54 126.64L309.8 124.78zM314.63 127.39L313.21 129L312.5 127.13zM311.88 118.88L310.52 120.54L309.74 118.69zM314.58 121.26L313.19 122.9L312.44 121.05zM311.83 112.75L310.5 114.44L309.68 112.61zM314.53 115.13L313.18 116.8L312.39 114.96zM311.77 106.63L310.48 108.34L309.62 106.53zM314.47 109.01L313.16 110.71L312.33 108.89zM311.71 100.51L310.45 102.25L309.57 100.46zM314.42 102.89L313.14 104.61L312.27 102.81zM311.65 94.39L310.43 96.16L309.51 94.39zM314.36 96.77L313.11 98.52L312.21 96.74zM311.59 88.28L310.41 90.07L309.45 88.32zM314.3 90.66L313.09 92.43L312.15 90.67zM311.53 82.17L310.38 83.98L309.39 82.25zM314.24 84.55L313.06 86.35L312.1 84.6zM311.47 76.07L310.35 77.9L309.33 76.18zM314.18 78.45L313.04 80.26L312.04 78.53zM311.41 69.97L310.32 71.82L309.27 70.12zM314.12 72.34L313.01 74.18L311.98 72.47zM311.35 63.87L310.3 65.74L309.21 64.06zM314.06 66.24L312.98 68.1L311.92 66.41zM311.28 57.77L310.27 59.66L309.15 58zM314 60.15L312.95 62.02L311.86 60.35zM311.22 51.68L310.23 53.59L309.09 51.95zM313.94 54.06L312.92 55.95L311.8 54.29zM311.16 45.59L310.2 47.52L309.03 45.9zM313.88 47.97L312.89 49.88L311.75 48.24zM311.1 39.51L310.17 41.45L308.98 39.84zM313.81 41.88L312.86 43.81L311.69 42.19zM311.03 33.43L310.14 35.38L308.92 33.8zM313.75 35.8L312.83 37.74L311.63 36.14zM317.72 229.6L315.79 230.54L315.85 228.54zM320.38 231.95L318.44 232.88L318.52 230.88zM317.72 223.44L315.81 224.43L315.83 222.43zM320.38 225.8L318.47 226.77L318.5 224.77zM317.72 217.28L315.84 218.31L315.8 216.31zM320.38 219.64L318.49 220.66L318.48 218.66zM317.71 211.12L315.86 212.2L315.77 210.2zM320.38 213.48L318.52 214.55L318.45 212.55zM317.71 204.96L315.88 206.09L315.74 204.09zM320.37 207.33L318.53 208.44L318.42 206.44zM317.69 198.81L315.89 199.98L315.71 197.98zM320.36 201.17L318.55 202.32L318.39 200.33zM317.68 192.65L315.9 193.86L315.67 191.88zM320.35 195.02L318.56 196.21L318.36 194.22zM317.66 186.5L315.91 187.75L315.64 185.77zM320.33 188.87L318.58 190.1L318.32 188.12zM317.63 180.34L315.92 181.64L315.6 179.67zM320.31 182.72L318.58 183.99L318.28 182.02zM317.61 174.19L315.93 175.53L315.55 173.56zM320.29 176.57L318.59 177.88L318.24 175.91zM317.58 168.04L315.93 169.42L315.51 167.46zM320.26 170.42L318.59 171.77L318.2 169.81zM317.54 161.9L315.93 163.31L315.46 161.36zM320.23 164.27L318.59 165.67L318.15 163.71zM317.51 155.75L315.92 157.2L315.42 155.27zM320.19 158.13L318.59 159.56L318.11 157.62zM317.47 149.61L315.92 151.09L315.37 149.17zM320.16 151.99L318.59 153.45L318.06 151.52zM317.43 143.47L315.91 144.99L315.32 143.08zM320.12 145.85L318.58 147.35L318.01 145.43zM317.38 137.33L315.9 138.89L315.26 136.99zM320.07 139.71L318.57 141.25L317.96 139.34zM317.34 131.2L315.89 132.78L315.21 130.9zM320.03 133.58L318.56 135.15L317.91 133.25zM317.29 125.07L315.87 126.68L315.16 124.82zM319.98 127.45L318.55 129.05L317.85 127.17zM317.24 118.94L315.86 120.59L315.1 118.74zM319.93 121.32L318.53 122.95L317.8 121.09zM317.19 112.82L315.84 114.49L315.04 112.66zM319.88 115.2L318.52 116.85L317.75 115.01zM317.13 106.7L315.82 108.4L314.99 106.58zM319.83 109.08L318.5 110.76L317.69 108.93zM317.08 100.58L315.8 102.31L314.93 100.5zM319.78 102.96L318.48 104.67L317.64 102.85zM317.02 94.47L315.78 96.22L314.87 94.43zM319.72 96.85L318.46 98.58L317.58 96.78zM316.96 88.36L315.75 90.13L314.82 88.36zM319.67 90.73L318.43 92.49L317.52 90.71zM316.9 82.25L315.73 84.04L314.76 82.3zM319.61 84.63L318.41 86.41L317.47 84.64zM316.85 76.14L315.7 77.96L314.7 76.23zM319.55 78.52L318.39 80.32L317.41 78.58zM316.79 70.04L315.68 71.88L314.64 70.17zM319.5 72.42L318.36 74.24L317.35 72.52zM316.73 63.95L315.65 65.8L314.59 64.11zM319.44 66.32L318.33 68.16L317.29 66.45zM316.67 57.85L315.62 59.73L314.53 58.05zM319.38 60.23L318.31 62.09L317.24 60.4zM316.6 51.76L315.59 53.65L314.47 52zM319.32 54.13L318.28 56.01L317.18 54.34zM316.54 45.67L315.56 47.58L314.41 45.94zM319.26 48.04L318.25 49.94L317.13 48.29zM316.48 39.59L315.53 41.51L314.36 39.89zM319.2 41.96L318.22 43.87L317.07 42.23zM316.42 33.5L315.5 35.44L314.3 33.84zM319.14 35.87L318.19 37.8L317.01 36.18zM323.05 229.59L321.12 230.53L321.18 228.53zM325.71 231.94L323.77 232.87L323.85 230.87zM323.05 223.44L321.14 224.43L321.16 222.43zM325.71 225.79L323.8 226.77L323.83 224.77zM323.05 217.28L321.17 218.32L321.13 216.32zM325.71 219.64L323.82 220.66L323.81 218.66zM323.04 211.13L321.19 212.21L321.1 210.21zM325.71 213.49L323.84 214.55L323.78 212.55zM323.04 204.98L321.21 206.1L321.08 204.1zM325.71 207.34L323.86 208.44L323.75 206.45zM323.02 198.82L321.22 199.99L321.04 198zM325.69 201.19L323.88 202.34L323.72 200.34zM323.01 192.67L321.23 193.88L321.01 191.89zM325.68 195.04L323.89 196.23L323.69 194.24zM322.99 186.52L321.24 187.77L320.97 185.79zM325.66 188.89L323.9 190.12L323.66 188.14zM322.97 180.37L321.25 181.66L320.93 179.69zM325.64 182.75L323.91 184.01L323.62 182.04zM322.94 174.23L321.25 175.55L320.89 173.59zM325.62 176.6L323.92 177.91L323.58 175.94zM322.92 168.08L321.26 169.45L320.85 167.49zM325.59 170.46L323.92 171.8L323.54 169.84zM322.88 161.94L321.26 163.34L320.81 161.39zM325.57 164.31L323.92 165.7L323.5 163.74zM322.85 155.8L321.25 157.24L320.76 155.3zM325.53 158.17L323.92 159.59L323.45 157.65zM322.81 149.66L321.25 151.13L320.71 149.2zM325.5 152.04L323.92 153.49L323.41 151.56zM322.77 143.52L321.24 145.03L320.67 143.11zM325.46 145.9L323.91 147.39L323.36 145.47zM322.73 137.39L321.23 138.93L320.62 137.03zM325.42 139.77L323.9 141.29L323.31 139.38zM322.69 131.26L321.22 132.83L320.56 130.94zM325.38 133.64L323.89 135.19L323.26 133.29zM322.64 125.13L321.21 126.73L320.51 124.86zM325.33 127.51L323.88 129.09L323.21 127.21zM322.59 119.01L321.2 120.64L320.46 118.78zM325.29 121.38L323.87 123L323.16 121.13zM322.54 112.89L321.18 114.54L320.4 112.7zM325.24 115.26L323.85 116.9L323.1 115.05zM322.49 106.77L321.16 108.45L320.35 106.62zM325.19 109.14L323.84 110.81L323.05 108.97zM322.44 100.65L321.14 102.36L320.3 100.55zM325.14 103.03L323.82 104.72L323 102.9zM322.39 94.54L321.12 96.27L320.24 94.48zM325.09 96.91L323.8 98.63L322.94 96.83zM322.33 88.43L321.1 90.19L320.18 88.41zM325.03 90.8L323.78 92.55L322.89 90.76zM322.27 82.32L321.08 84.1L320.13 82.34zM324.98 84.7L323.76 86.46L322.83 84.69zM322.22 76.22L321.05 78.02L320.07 76.28zM324.92 78.59L323.73 80.38L322.78 78.62zM322.16 70.12L321.03 71.94L320.02 70.21zM324.87 72.49L323.71 74.3L322.72 72.56zM322.1 64.02L321 65.86L319.96 64.15zM324.81 66.39L323.68 68.22L322.67 66.5zM322.04 57.93L320.97 59.79L319.9 58.1zM324.75 60.3L323.66 62.15L322.61 60.44zM321.99 51.84L320.95 53.71L319.85 52.04zM324.7 54.21L323.63 56.07L322.56 54.39zM321.93 45.75L320.92 47.64L319.79 45.99zM324.64 48.12L323.6 50L322.5 48.33zM321.87 39.66L320.89 41.57L319.74 39.94zM324.58 42.03L323.58 43.93L322.45 42.28zM321.81 33.58L320.86 35.51L319.68 33.89zM324.52 35.95L323.55 37.86L322.39 36.23zM328.38 229.58L326.45 230.53L326.51 228.53zM331.04 231.94L329.11 232.87L329.18 230.87zM328.38 223.43L326.47 224.42L326.49 222.42zM331.04 225.79L329.13 226.76L329.16 224.76zM328.38 217.29L326.5 218.32L326.46 216.32zM331.04 219.64L329.15 220.66L329.14 218.66zM328.37 211.14L326.52 212.21L326.44 210.21zM331.04 213.5L329.17 214.56L329.11 212.56zM328.37 204.99L326.53 206.11L326.41 204.11zM331.04 207.35L329.19 208.45L329.08 206.45zM328.36 198.84L326.55 200L326.38 198.01zM331.03 201.2L329.21 202.35L329.06 200.35zM328.34 192.69L326.56 193.89L326.34 191.91zM331.01 195.06L329.22 196.24L329.02 194.25zM328.32 186.55L326.57 187.79L326.31 185.81zM331 188.92L329.23 190.14L328.99 188.15zM328.3 180.4L326.58 181.68L326.27 179.71zM330.98 182.77L329.24 184.03L328.96 182.05zM328.28 174.26L326.58 175.58L326.23 173.61zM330.96 176.63L329.25 177.93L328.92 175.96zM328.25 168.12L326.59 169.47L326.19 167.51zM330.93 170.49L329.25 171.83L328.88 169.86zM328.22 161.98L326.59 163.37L326.15 161.42zM330.9 164.35L329.25 165.72L328.84 163.77zM328.19 155.84L326.59 157.27L326.11 155.33zM330.87 158.22L329.25 159.62L328.8 157.68zM328.16 149.71L326.58 151.17L326.06 149.24zM330.84 152.08L329.25 153.52L328.75 151.59zM328.12 143.57L326.58 145.07L326.01 143.15zM330.8 145.95L329.24 147.42L328.71 145.5zM328.08 137.44L326.57 138.97L325.97 137.06zM330.77 139.82L329.24 141.33L328.66 139.41zM328.04 131.32L326.56 132.87L325.92 130.98zM330.73 133.69L329.23 135.23L328.61 133.33zM327.99 125.19L326.55 126.78L325.87 124.9zM330.68 127.57L329.22 129.13L328.56 127.25zM327.95 119.07L326.53 120.68L325.82 118.82zM330.64 121.44L329.21 123.04L328.51 121.17zM327.9 112.95L326.52 114.59L325.76 112.74zM330.6 115.32L329.19 116.95L328.46 115.09zM327.85 106.83L326.5 108.5L325.71 106.66zM330.55 109.21L329.18 110.86L328.41 109.01zM327.8 100.72L326.48 102.41L325.66 100.59zM330.5 103.09L329.16 104.77L328.36 102.94zM327.75 94.61L326.46 96.33L325.6 94.52zM330.45 96.98L329.14 98.68L328.31 96.87zM327.7 88.5L326.44 90.24L325.55 88.45zM330.4 90.87L329.12 92.6L328.25 90.8zM327.64 82.39L326.42 84.16L325.5 82.39zM330.35 84.77L329.1 86.52L328.2 84.73zM327.59 76.29L326.4 78.08L325.44 76.32zM330.29 78.66L329.08 80.44L328.15 78.67zM327.53 70.19L326.37 72L325.39 70.26zM330.24 72.56L329.06 74.36L328.09 72.6zM327.48 64.09L326.35 65.92L325.33 64.2zM330.18 66.47L329.03 68.28L328.04 66.54zM327.42 58L326.32 59.85L325.28 58.14zM330.13 60.37L329.01 62.2L327.98 60.49zM327.36 51.91L326.3 53.77L325.22 52.09zM330.07 54.28L328.98 56.13L327.93 54.43zM327.31 45.82L326.27 47.7L325.17 46.03zM330.02 48.19L328.96 50.06L327.88 48.38zM327.25 39.74L326.24 41.63L325.12 39.98zM329.96 42.11L328.93 43.99L327.82 42.32zM327.19 33.65L326.22 35.57L325.06 33.93zM329.9 36.02L328.9 37.92L327.77 36.27z" fill="#1a1ab0"/>
<path d="M53.8 17.8H339.3V246.3" stroke="#444" stroke-width="1" fill="none"/>
<path d="M53.8 17.8V246.3H339.3" stroke="#111" stroke-width="1.1" fill="none"/>
<path d="M50.8 243.28h3M50.8 237.19h3M48.8 231.1h5M50.8 225.01h3M50.8 218.92h3M50.8 212.84h3M50.8 206.75h3M48.8 200.66h5M50.8 194.57h3M50.8 188.48h3M50.8 182.4h3M50.8 176.31h3M48.8 170.22h5M50.8 164.13h3M50.8 158.04h3M50.8 151.96h3M50.8 145.87h3M48.8 139.78h5M50.8 133.69h3M50.8 127.6h3M50.8 121.52h3M50.8 115.43h3M48.8 109.34h5M50.8 103.25h3M50.8 97.16h3M50.8 91.08h3M50.8 84.99h3M48.8 78.9h5M50.8 72.81h3M50.8 66.72h3M50.8 60.64h3M50.8 54.55h3M48.8 48.46h5M50.8 42.37h3M50.8 36.28h3M50.8 30.2h3M50.8 24.11h3M48.8 18.02h5M58.13 246.3v3M66.91 246.3v3M75.7 246.3v5M84.49 246.3v3M93.27 246.3v3M102.06 246.3v3M110.85 246.3v3M119.63 246.3v5M128.42 246.3v3M137.2 246.3v3M145.99 246.3v3M154.78 246.3v3M163.56 246.3v5M172.35 246.3v3M181.14 246.3v3M189.92 246.3v3M198.71 246.3v3M207.5 246.3v5M216.28 246.3v3M225.07 246.3v3M233.86 246.3v3M242.64 246.3v3M251.43 246.3v5M260.21 246.3v3M269 246.3v3M277.79 246.3v3M286.57 246.3v3M295.36 246.3v5M304.15 246.3v3M312.93 246.3v3M321.72 246.3v3M330.51 246.3v3M339.29 246.3v5" stroke="#111" stroke-width="0.9"/>
<text x="46.6" y="234.4" font-family="'Liberation Sans', sans-serif" font-size="9.3" fill="#333" text-anchor="end">0</text>
<text x="46.6" y="203.96" font-family="'Liberation Sans', sans-serif" font-size="9.3" fill="#333" text-anchor="end">20</text>
<text x="46.6" y="173.52" font-family="'Liberation Sans', sans-serif" font-size="9.3" fill="#333" text-anchor="end">40</text>
<text x="46.6" y="143.08" font-family="'Liberation Sans', sans-serif" font-size="9.3" fill="#333" text-anchor="end">60</text>
<text x="46.6" y="112.64" font-family="'Liberation Sans', sans-serif" font-size="9.3" fill="#333" text-anchor="end">80</text>
<text x="46.6" y="82.2" font-family="'Liberation Sans', sans-serif" font-size="9.3" fill="#333" text-anchor="end">100</text>
<text x="46.6" y="51.76" font-family="'Liberation Sans', sans-serif" font-size="9.3" fill="#333" text-anchor="end">120</text>
<text x="46.6" y="21.32" font-family="'Liberation Sans', sans-serif" font-size="9.3" fill="#333" text-anchor="end">140</text>
<text x="75.7" y="261.3" font-family="'Liberation Sans', sans-serif" font-size="9.3" fill="#333" text-anchor="middle">0</text>
<text x="119.63" y="261.3" font-family="'Liberation Sans', sans-serif" font-size="9.3" fill="#333" text-anchor="middle">40</text>
<text x="163.56" y="261.3" font-family="'Liberation Sans', sans-serif" font-size="9.3" fill="#333" text-anchor="middle">80</text>
<text x="207.5" y="261.3" font-family="'Liberation Sans', sans-serif" font-size="9.3" fill="#333" text-anchor="middle">120</text>
<text x="251.43" y="261.3" font-family="'Liberation Sans', sans-serif" font-size="9.3" fill="#333" text-anchor="middle">160</text>
<text x="295.36" y="261.3" font-family="'Liberation Sans', sans-serif" font-size="9.3" fill="#333" text-anchor="middle">200</text>
<text x="339.29" y="261.3" font-family="'Liberation Sans', sans-serif" font-size="9.3" fill="#333" text-anchor="middle">240</text>
<text x="60.9" y="29.4" font-family="'Liberation Serif', serif" font-size="10.8" fill="#111" font-weight="bold" textLength="56.5" lengthAdjust="spacingAndGlyphs">Disregistry</text>
<text x="123" y="30.4" font-family="'Liberation Serif', serif" font-size="11.5" fill="#111">Δ</text>
<text x="129.6" y="30.4" font-family="'Liberation Serif', serif" font-size="12.5" fill="#111" font-style="italic">r</text>
<path d="M131.6 21.9h5.8M135.9 20.7l1.6 1.2-1.6 1.2" stroke="#111" stroke-width="0.75" fill="none"/>
<text x="132.7" y="277.5" font-family="'Liberation Serif', serif" font-size="12.5" fill="#222" textLength="35.3" lengthAdjust="spacingAndGlyphs">[1210]</text><path d="M137.77 266.75h5.3" stroke="#222" stroke-width="0.81"/><path d="M151.01 266.75h5.3" stroke="#222" stroke-width="0.81"/><text x="169.3" y="279.9" font-family="'Liberation Serif', serif" font-size="7.5" fill="#222" font-style="italic" textLength="21" lengthAdjust="spacingAndGlyphs">Al2O3</text><path d="M194.8 269.2v8.3M196.8 269.2v8.3" stroke="#222" stroke-width="0.8"/><text x="200.1" y="277.5" font-family="'Liberation Serif', serif" font-size="12.5" fill="#222" textLength="30" lengthAdjust="spacingAndGlyphs">[112]</text><path d="M205.5 266.75h5.64" stroke="#222" stroke-width="0.81"/><path d="M212.54 266.75h5.64" stroke="#222" stroke-width="0.81"/><text x="232.32" y="279.9" font-family="'Liberation Serif', serif" font-size="7.5" fill="#222" font-style="italic" textLength="5" lengthAdjust="spacingAndGlyphs">Al</text>
<path d="M244 274.2L270.5 274.2" stroke="#111" stroke-width="1.3"/><path d="M279 274.2L270 278.2L270 270.2z" fill="#111"/>
<g transform="translate(22.4,209.2) rotate(-90)"><text x="0" y="0" font-family="'Liberation Serif', serif" font-size="18.5" fill="#222" textLength="50.5" lengthAdjust="spacingAndGlyphs">[1010]</text><path d="M26.2 -15.91h7.58" stroke="#222" stroke-width="1.2"/><text x="51.8" y="3.2" font-family="'Liberation Serif', serif" font-size="8.5" fill="#222" font-style="italic" textLength="20.7" lengthAdjust="spacingAndGlyphs">Al2O3</text><path d="M76 -13v13M78 -13v13" stroke="#222" stroke-width="0.8"/><text x="82" y="0" font-family="'Liberation Serif', serif" font-size="18.5" fill="#222" textLength="42.3" lengthAdjust="spacingAndGlyphs">[110]</text><path d="M99.54 -15.91h7.95" stroke="#222" stroke-width="1.2"/><text x="126.24" y="3.2" font-family="'Liberation Serif', serif" font-size="8.5" fill="#222" font-style="italic" textLength="6.3" lengthAdjust="spacingAndGlyphs">Al</text></g>
<path d="M14.8 66.4L14.8 45.4" stroke="#111" stroke-width="1.4"/><path d="M14.8 37.4L18.9 45.9L10.7 45.9z" fill="#111"/>
<text x="7" y="19.9" font-family="'Liberation Serif', serif" font-size="24" fill="#111">a</text>
</g>
<g id="pb">
<path d="M428.2 18.2V246.8M467.94 18.2V246.8M507.68 18.2V246.8M547.42 18.2V246.8M587.16 18.2V246.8M626.9 18.2V246.8M666.64 18.2V246.8M403.3 208.7H676.3M403.3 170.6H676.3M403.3 132.5H676.3M403.3 94.4H676.3M403.3 56.3H676.3" stroke="#b8b8b8" stroke-width="0.8" stroke-dasharray="1.6 1.8"/>
<path d="M428.2 35.5L436.3 46.6L444.5 52.7L452.7 60.9L460.9 69L469 75.2L477.2 79.3L481.3 82.3L491.5 89.5L501.7 97.7L509.9 103.8L518.1 114L526.3 121.2L534.4 125.3L542.6 131.4L552.3 138.6L560.4 144.7L568.6 154L576.8 163.1L587 171.3L595.2 174.4L603.4 180.5L613.6 188.7L621.7 195.8L630 205L638 211.2L646.3 216.3L654.4 224.5" stroke="#0909aa" stroke-width="7.0" fill="none" stroke-linejoin="round"/>
<path d="M427.21 33.97h2.6v2.6h-2.6zM426.55 35.02h2.6v2.6h-2.6zM427.71 34.74h2.6v2.6h-2.6zM428.09 35.03h2.6v2.6h-2.6zM429.11 34.86h2.6v2.6h-2.6zM428.51 35.86h2.6v2.6h-2.6zM427.17 37.4h2.6v2.6h-2.6zM428.28 37.17h2.6v2.6h-2.6zM427.8 38.08h2.6v2.6h-2.6zM429.03 37.75h2.6v2.6h-2.6zM429.12 38.25h2.6v2.6h-2.6zM429.65 38.43h2.6v2.6h-2.6zM432.16 37.17h2.6v2.6h-2.6zM429.37 39.77h2.6v2.6h-2.6zM430.07 39.83h2.6v2.6h-2.6zM430.35 40.19h2.6v2.6h-2.6zM433.27 38.62h2.6v2.6h-2.6zM433.6 38.95h2.6v2.6h-2.6zM432.84 40.07h2.6v2.6h-2.6zM432.6 40.82h2.6v2.6h-2.6zM431.93 41.87h2.6v2.6h-2.6zM432.63 41.93h2.6v2.6h-2.6zM432.21 42.8h2.6v2.6h-2.6zM433.89 42.14h2.6v2.6h-2.6zM433.01 43.35h2.6v2.6h-2.6zM433.17 43.8h2.6v2.6h-2.6zM434.72 43.24h2.6v2.6h-2.6zM432.11 45.71h2.6v2.6h-2.6zM433.79 45.05h2.6v2.6h-2.6zM433.28 45.99h2.6v2.6h-2.6zM435.56 44.55h2.6v2.6h-2.6zM436.03 44.69h2.6v2.6h-2.6zM436.05 45.44h2.6v2.6h-2.6zM436.21 46h2.6v2.6h-2.6zM435.93 47.17h2.6v2.6h-2.6zM436.64 46.99h2.6v2.6h-2.6zM437.64 46.43h2.6v2.6h-2.6zM438.47 46.09h2.6v2.6h-2.6zM438.45 46.89h2.6v2.6h-2.6zM437.26 49.26h2.6v2.6h-2.6zM439.45 47.1h2.6v2.6h-2.6zM438.88 48.64h2.6v2.6h-2.6zM439.09 49.14h2.6v2.6h-2.6zM441.18 47.11h2.6v2.6h-2.6zM440.17 49.24h2.6v2.6h-2.6zM439.42 51.03h2.6v2.6h-2.6zM442.75 47.33h2.6v2.6h-2.6zM441.62 49.63h2.6v2.6h-2.6zM441.8 50.16h2.6v2.6h-2.6zM442.81 49.58h2.6v2.6h-2.6zM442.01 51.44h2.6v2.6h-2.6zM442.88 51.05h2.6v2.6h-2.6zM444.75 49.85h2.6v2.6h-2.6zM442.65 52.61h2.6v2.6h-2.6zM443.15 52.77h2.6v2.6h-2.6zM443.18 53.39h2.6v2.6h-2.6zM442.98 54.24h2.6v2.6h-2.6zM444.46 53.42h2.6v2.6h-2.6zM445.04 53.49h2.6v2.6h-2.6zM446.87 52.32h2.6v2.6h-2.6zM445.17 54.68h2.6v2.6h-2.6zM446.8 53.7h2.6v2.6h-2.6zM446.96 54.2h2.6v2.6h-2.6zM448.15 53.67h2.6v2.6h-2.6zM448.16 54.31h2.6v2.6h-2.6zM448.03 55.1h2.6v2.6h-2.6zM446.42 57.36h2.6v2.6h-2.6zM450.24 54.2h2.6v2.6h-2.6zM449.99 55.1h2.6v2.6h-2.6zM448.52 57.23h2.6v2.6h-2.6zM447.57 58.83h2.6v2.6h-2.6zM448.82 58.25h2.6v2.6h-2.6zM451.78 55.94h2.6v2.6h-2.6zM452.21 56.17h2.6v2.6h-2.6zM450.04 59h2.6v2.6h-2.6zM451.52 58.16h2.6v2.6h-2.6zM452.26 58.08h2.6v2.6h-2.6zM450.37 60.64h2.6v2.6h-2.6zM450.57 61.1h2.6v2.6h-2.6zM451.89 60.42h2.6v2.6h-2.6zM452.12 60.83h2.6v2.6h-2.6zM452.25 61.36h2.6v2.6h-2.6zM451.36 62.92h2.6v2.6h-2.6zM452.72 62.2h2.6v2.6h-2.6zM453.15 62.42h2.6v2.6h-2.6zM453.45 62.78h2.6v2.6h-2.6zM456.01 60.84h2.6v2.6h-2.6zM453.33 64.21h2.6v2.6h-2.6zM454 64.18h2.6v2.6h-2.6zM454.78 64.05h2.6v2.6h-2.6zM457.74 61.71h2.6v2.6h-2.6zM456.66 63.46h2.6v2.6h-2.6zM455.43 65.36h2.6v2.6h-2.6zM458.56 62.85h2.6v2.6h-2.6zM457.17 64.91h2.6v2.6h-2.6zM456.23 66.52h2.6v2.6h-2.6zM459.01 64.36h2.6v2.6h-2.6zM456.26 67.8h2.6v2.6h-2.6zM457.71 66.99h2.6v2.6h-2.6zM458.77 66.57h2.6v2.6h-2.6zM458.6 67.4h2.6v2.6h-2.6zM458.59 68.07h2.6v2.6h-2.6zM459.49 67.84h2.6v2.6h-2.6zM458.92 69.35h2.6v2.6h-2.6zM460.94 67.48h2.6v2.6h-2.6zM461.08 68.05h2.6v2.6h-2.6zM460.12 70.07h2.6v2.6h-2.6zM461.42 69.14h2.6v2.6h-2.6zM462.61 68.34h2.6v2.6h-2.6zM461.31 70.8h2.6v2.6h-2.6zM461.21 71.7h2.6v2.6h-2.6zM463.32 69.71h2.6v2.6h-2.6zM464.54 68.87h2.6v2.6h-2.6zM463.77 70.64h2.6v2.6h-2.6zM464.15 70.9h2.6v2.6h-2.6zM464.66 71.01h2.6v2.6h-2.6zM463.47 73.32h2.6v2.6h-2.6zM466.06 70.7h2.6v2.6h-2.6zM464.34 73.71h2.6v2.6h-2.6zM467.02 70.98h2.6v2.6h-2.6zM466.94 71.84h2.6v2.6h-2.6zM466.02 73.81h2.6v2.6h-2.6zM465.93 74.68h2.6v2.6h-2.6zM466.55 74.64h2.6v2.6h-2.6zM467.47 74.36h2.6v2.6h-2.6zM468.01 74.3h2.6v2.6h-2.6zM468.42 74.51h2.6v2.6h-2.6zM468.54 75.29h2.6v2.6h-2.6zM469.46 74.48h2.6v2.6h-2.6zM469.56 75.3h2.6v2.6h-2.6zM469.78 75.9h2.6v2.6h-2.6zM470.57 75.34h2.6v2.6h-2.6zM470.47 76.56h2.6v2.6h-2.6zM471.01 76.5h2.6v2.6h-2.6zM470.46 78.63h2.6v2.6h-2.6zM471.99 76.59h2.6v2.6h-2.6zM472.91 75.79h2.6v2.6h-2.6zM473.28 76.07h2.6v2.6h-2.6zM473.45 76.75h2.6v2.6h-2.6zM473.23 78.21h2.6v2.6h-2.6zM474.49 76.73h2.6v2.6h-2.6zM474.41 77.9h2.6v2.6h-2.6zM473.85 80.05h2.6v2.6h-2.6zM476.83 75.11h2.6v2.6h-2.6zM476.9 76.64h2.6v2.6h-2.6zM476.06 78.57h2.6v2.6h-2.6zM476.29 79.03h2.6v2.6h-2.6zM476.81 79.11h2.6v2.6h-2.6zM477.77 78.57h2.6v2.6h-2.6zM477.18 80.16h2.6v2.6h-2.6zM477.89 79.98h2.6v2.6h-2.6zM478.97 79.28h2.6v2.6h-2.6zM477.11 82.6h2.6v2.6h-2.6zM478.94 80.88h2.6v2.6h-2.6zM480.12 80.06h2.6v2.6h-2.6zM480.09 80.88h2.6v2.6h-2.6zM480.57 80.99h2.6v2.6h-2.6zM480.81 81.46h2.6v2.6h-2.6zM482.86 79.35h2.6v2.6h-2.6zM481.93 81.47h2.6v2.6h-2.6zM481.02 83.57h2.6v2.6h-2.6zM483.28 81.17h2.6v2.6h-2.6zM482.7 82.78h2.6v2.6h-2.6zM482.2 84.3h2.6v2.6h-2.6zM482.66 84.45h2.6v2.6h-2.6zM482.49 85.49h2.6v2.6h-2.6zM485.63 81.85h2.6v2.6h-2.6zM484.84 83.77h2.6v2.6h-2.6zM485.21 84.05h2.6v2.6h-2.6zM484.75 85.5h2.6v2.6h-2.6zM484.72 86.34h2.6v2.6h-2.6zM487.77 82.82h2.6v2.6h-2.6zM485.48 86.87h2.6v2.6h-2.6zM488.05 84.03h2.6v2.6h-2.6zM486.59 86.9h2.6v2.6h-2.6zM488.85 84.5h2.6v2.6h-2.6zM487.78 86.82h2.6v2.6h-2.6zM487.28 88.33h2.6v2.6h-2.6zM488.82 86.95h2.6v2.6h-2.6zM488.9 87.63h2.6v2.6h-2.6zM488.75 88.64h2.6v2.6h-2.6zM489.7 88.11h2.6v2.6h-2.6zM490.28 88.1h2.6v2.6h-2.6zM489.11 90.28h2.6v2.6h-2.6zM489.92 89.99h2.6v2.6h-2.6zM491.53 88.7h2.6v2.6h-2.6zM489.73 91.67h2.6v2.6h-2.6zM493.04 88.27h2.6v2.6h-2.6zM491.45 90.97h2.6v2.6h-2.6zM492.91 89.87h2.6v2.6h-2.6zM492.89 90.62h2.6v2.6h-2.6zM492.7 91.57h2.6v2.6h-2.6zM493.51 91.29h2.6v2.6h-2.6zM493.47 92.06h2.6v2.6h-2.6zM495.86 89.81h2.6v2.6h-2.6zM496.19 90.11h2.6v2.6h-2.6zM494.55 92.88h2.6v2.6h-2.6zM496.38 91.32h2.6v2.6h-2.6zM496.79 91.52h2.6v2.6h-2.6zM497.56 91.29h2.6v2.6h-2.6zM495.34 94.77h2.6v2.6h-2.6zM496.18 94.45h2.6v2.6h-2.6zM495.85 95.58h2.6v2.6h-2.6zM498.47 93.04h2.6v2.6h-2.6zM497.94 94.42h2.6v2.6h-2.6zM499.36 93.37h2.6v2.6h-2.6zM497.92 95.88h2.6v2.6h-2.6zM497.5 97.13h2.6v2.6h-2.6zM500.18 94.51h2.6v2.6h-2.6zM498.23 97.66h2.6v2.6h-2.6zM499.12 97.27h2.6v2.6h-2.6zM500.56 96.19h2.6v2.6h-2.6zM502.54 94.3h2.6v2.6h-2.6zM499.89 98.65h2.6v2.6h-2.6zM501.6 97.12h2.6v2.6h-2.6zM502.43 96.78h2.6v2.6h-2.6zM501.91 98.27h2.6v2.6h-2.6zM502.27 98.56h2.6v2.6h-2.6zM501.67 100.14h2.6v2.6h-2.6zM504.3 97.39h2.6v2.6h-2.6zM502.74 100.26h2.6v2.6h-2.6zM502.8 100.96h2.6v2.6h-2.6zM503.2 101.2h2.6v2.6h-2.6zM505.03 99.51h2.6v2.6h-2.6zM505.91 99.11h2.6v2.6h-2.6zM504.71 101.51h2.6v2.6h-2.6zM505.89 100.7h2.6v2.6h-2.6zM506.25 100.99h2.6v2.6h-2.6zM505.46 102.83h2.6v2.6h-2.6zM507.34 101.07h2.6v2.6h-2.6zM509.27 99.26h2.6v2.6h-2.6zM508.2 101.48h2.6v2.6h-2.6zM509.89 99.99h2.6v2.6h-2.6zM507.64 103.27h2.6v2.6h-2.6zM508.51 103.15h2.6v2.6h-2.6zM509.88 102.63h2.6v2.6h-2.6zM509.46 103.55h2.6v2.6h-2.6zM508.76 104.69h2.6v2.6h-2.6zM509.92 104.33h2.6v2.6h-2.6zM508.75 105.86h2.6v2.6h-2.6zM510.65 104.9h2.6v2.6h-2.6zM509.65 106.29h2.6v2.6h-2.6zM509.4 107.07h2.6v2.6h-2.6zM509.55 107.53h2.6v2.6h-2.6zM512.5 105.74h2.6v2.6h-2.6zM510.96 107.55h2.6v2.6h-2.6zM514.47 105.31h2.6v2.6h-2.6zM513.83 106.41h2.6v2.6h-2.6zM515.14 105.93h2.6v2.6h-2.6zM511.87 109.13h2.6v2.6h-2.6zM514.85 107.32h2.6v2.6h-2.6zM513.7 108.82h2.6v2.6h-2.6zM514.2 109h2.6v2.6h-2.6zM514.29 109.51h2.6v2.6h-2.6zM515.23 109.33h2.6v2.6h-2.6zM514.55 110.46h2.6v2.6h-2.6zM513.01 112.27h2.6v2.6h-2.6zM515.33 110.98h2.6v2.6h-2.6zM515.05 111.79h2.6v2.6h-2.6zM514.78 112.59h2.6v2.6h-2.6zM516.47 111.81h2.6v2.6h-2.6zM517.99 111.16h2.6v2.6h-2.6zM517.35 112.07h2.6v2.6h-2.6zM516.08 114.21h2.6v2.6h-2.6zM519.11 111.44h2.6v2.6h-2.6zM518.42 112.93h2.6v2.6h-2.6zM517.17 115.04h2.6v2.6h-2.6zM517.72 115.09h2.6v2.6h-2.6zM518.84 114.51h2.6v2.6h-2.6zM518.39 115.71h2.6v2.6h-2.6zM519.37 115.29h2.6v2.6h-2.6zM521.04 114.07h2.6v2.6h-2.6zM521.76 113.94h2.6v2.6h-2.6zM521.19 115.28h2.6v2.6h-2.6zM519.99 117.34h2.6v2.6h-2.6zM521.8 115.96h2.6v2.6h-2.6zM522.48 115.88h2.6v2.6h-2.6zM522.69 116.33h2.6v2.6h-2.6zM523.78 115.77h2.6v2.6h-2.6zM522.72 117.67h2.6v2.6h-2.6zM524.12 116.77h2.6v2.6h-2.6zM522.93 118.81h2.6v2.6h-2.6zM525.61 116.45h2.6v2.6h-2.6zM523.65 119.37h2.6v2.6h-2.6zM524.95 118.58h2.6v2.6h-2.6zM526.58 117.41h2.6v2.6h-2.6zM524.51 120.87h2.6v2.6h-2.6zM525.59 119.74h2.6v2.6h-2.6zM527.16 117.63h2.6v2.6h-2.6zM526.81 119.34h2.6v2.6h-2.6zM526.42 121.11h2.6v2.6h-2.6zM527.34 120.31h2.6v2.6h-2.6zM526.9 122.17h2.6v2.6h-2.6zM527.33 122.34h2.6v2.6h-2.6zM527.79 122.43h2.6v2.6h-2.6zM528.42 122.18h2.6v2.6h-2.6zM528.15 123.73h2.6v2.6h-2.6zM529.01 123.04h2.6v2.6h-2.6zM529.55 122.96h2.6v2.6h-2.6zM531.62 119.89h2.6v2.6h-2.6zM530.06 123.97h2.6v2.6h-2.6zM530.19 124.73h2.6v2.6h-2.6zM531.68 122.78h2.6v2.6h-2.6zM532.2 122.76h2.6v2.6h-2.6zM530.98 126.19h2.6v2.6h-2.6zM533.89 121.44h2.6v2.6h-2.6zM532.68 124.56h2.6v2.6h-2.6zM531.68 126.68h2.6v2.6h-2.6zM534.68 123.44h2.6v2.6h-2.6zM533.6 125.66h2.6v2.6h-2.6zM532.9 127.38h2.6v2.6h-2.6zM535.07 125.24h2.6v2.6h-2.6zM534.83 126.34h2.6v2.6h-2.6zM534.9 127.03h2.6v2.6h-2.6zM536.89 125.13h2.6v2.6h-2.6zM536.53 126.39h2.6v2.6h-2.6zM536.57 127.13h2.6v2.6h-2.6zM536.46 128.04h2.6v2.6h-2.6zM537.6 127.29h2.6v2.6h-2.6zM538.12 127.37h2.6v2.6h-2.6zM539.23 126.66h2.6v2.6h-2.6zM539.01 127.73h2.6v2.6h-2.6zM538.27 129.51h2.6v2.6h-2.6zM539.35 128.84h2.6v2.6h-2.6zM540.57 127.96h2.6v2.6h-2.6zM540.94 128.26h2.6v2.6h-2.6zM538.76 131.95h2.6v2.6h-2.6zM539.91 131.19h2.6v2.6h-2.6zM540.73 130.87h2.6v2.6h-2.6zM543.46 127.97h2.6v2.6h-2.6zM541.49 131.4h2.6v2.6h-2.6zM541.99 131.51h2.6v2.6h-2.6zM541.29 133.24h2.6v2.6h-2.6zM542.78 132h2.6v2.6h-2.6zM543.6 131.68h2.6v2.6h-2.6zM543.44 132.67h2.6v2.6h-2.6zM546.02 129.97h2.6v2.6h-2.6zM543.73 133.84h2.6v2.6h-2.6zM544.74 133.26h2.6v2.6h-2.6zM546.03 132.3h2.6v2.6h-2.6zM544.59 135.02h2.6v2.6h-2.6zM544.53 135.88h2.6v2.6h-2.6zM547.78 132.29h2.6v2.6h-2.6zM547.49 133.45h2.6v2.6h-2.6zM547.01 134.88h2.6v2.6h-2.6zM547.48 135.03h2.6v2.6h-2.6zM548.37 134.6h2.6v2.6h-2.6zM549.26 134.19h2.6v2.6h-2.6zM546.97 138.05h2.6v2.6h-2.6zM548.21 137.16h2.6v2.6h-2.6zM550.58 134.75h2.6v2.6h-2.6zM551.08 134.85h2.6v2.6h-2.6zM548.73 138.8h2.6v2.6h-2.6zM549.74 138.21h2.6v2.6h-2.6zM549.36 139.48h2.6v2.6h-2.6zM550.64 138.55h2.6v2.6h-2.6zM552.52 136.81h2.6v2.6h-2.6zM551.87 138.44h2.6v2.6h-2.6zM554.28 136.01h2.6v2.6h-2.6zM553.52 137.79h2.6v2.6h-2.6zM553.26 138.89h2.6v2.6h-2.6zM553.11 139.87h2.6v2.6h-2.6zM554.6 138.65h2.6v2.6h-2.6zM554.43 139.65h2.6v2.6h-2.6zM554.27 140.62h2.6v2.6h-2.6zM554.71 140.8h2.6v2.6h-2.6zM554.84 141.39h2.6v2.6h-2.6zM555.6 141.15h2.6v2.6h-2.6zM556.45 140.79h2.6v2.6h-2.6zM555.81 142.4h2.6v2.6h-2.6zM556.85 141.8h2.6v2.6h-2.6zM558 141.02h2.6v2.6h-2.6zM558.19 141.54h2.6v2.6h-2.6zM558 142.57h2.6v2.6h-2.6zM558.46 142.71h2.6v2.6h-2.6zM558.59 143.31h2.6v2.6h-2.6zM559.1 143.4h2.6v2.6h-2.6zM559.21 143.92h2.6v2.6h-2.6zM559.86 143.96h2.6v2.6h-2.6zM561.43 143.18h2.6v2.6h-2.6zM559.84 145.2h2.6v2.6h-2.6zM559.43 146.17h2.6v2.6h-2.6zM560.43 145.9h2.6v2.6h-2.6zM561.44 145.62h2.6v2.6h-2.6zM561.03 146.6h2.6v2.6h-2.6zM562.92 145.54h2.6v2.6h-2.6zM564.27 144.96h2.6v2.6h-2.6zM562.37 147.25h2.6v2.6h-2.6zM563.79 146.61h2.6v2.6h-2.6zM562.22 148.61h2.6v2.6h-2.6zM564.57 147.15h2.6v2.6h-2.6zM565.91 146.58h2.6v2.6h-2.6zM565.13 147.88h2.6v2.6h-2.6zM562.49 150.82h2.6v2.6h-2.6zM565 149.22h2.6v2.6h-2.6zM566.41 148.59h2.6v2.6h-2.6zM566.03 149.53h2.6v2.6h-2.6zM564.89 151.15h2.6v2.6h-2.6zM565.22 151.47h2.6v2.6h-2.6zM565.89 151.5h2.6v2.6h-2.6zM564.72 153.14h2.6v2.6h-2.6zM565.9 152.71h2.6v2.6h-2.6zM567.02 152.33h2.6v2.6h-2.6zM566.64 153.3h2.6v2.6h-2.6zM565.76 154.7h2.6v2.6h-2.6zM566.83 154.35h2.6v2.6h-2.6zM567.07 154.74h2.6v2.6h-2.6zM569.72 152.96h2.6v2.6h-2.6zM568.98 154.24h2.6v2.6h-2.6zM568.31 155.46h2.6v2.6h-2.6zM569.76 154.76h2.6v2.6h-2.6zM568.54 156.47h2.6v2.6h-2.6zM569.37 156.33h2.6v2.6h-2.6zM569.32 156.98h2.6v2.6h-2.6zM570.88 156.19h2.6v2.6h-2.6zM568.72 158.75h2.6v2.6h-2.6zM569.87 158.33h2.6v2.6h-2.6zM571.79 157.2h2.6v2.6h-2.6zM571.75 157.85h2.6v2.6h-2.6zM569.93 160.1h2.6v2.6h-2.6zM572.85 158.08h2.6v2.6h-2.6zM571.79 159.64h2.6v2.6h-2.6zM571.98 160.09h2.6v2.6h-2.6zM573.37 159.45h2.6v2.6h-2.6zM574.98 158.61h2.6v2.6h-2.6zM573.77 160.3h2.6v2.6h-2.6zM573.88 160.81h2.6v2.6h-2.6zM573.33 161.92h2.6v2.6h-2.6zM574.02 161.91h2.6v2.6h-2.6zM575.17 161.49h2.6v2.6h-2.6zM574.7 162.8h2.6v2.6h-2.6zM575.34 162.71h2.6v2.6h-2.6zM576.01 162.61h2.6v2.6h-2.6zM576.5 162.71h2.6v2.6h-2.6zM577.14 162.65h2.6v2.6h-2.6zM576.61 164.02h2.6v2.6h-2.6zM578.6 162.26h2.6v2.6h-2.6zM578.55 163.04h2.6v2.6h-2.6zM578.31 164.07h2.6v2.6h-2.6zM580.04 162.63h2.6v2.6h-2.6zM579.43 164.12h2.6v2.6h-2.6zM581.25 162.57h2.6v2.6h-2.6zM580.36 164.39h2.6v2.6h-2.6zM579.54 166.14h2.6v2.6h-2.6zM579.89 166.42h2.6v2.6h-2.6zM580.83 165.98h2.6v2.6h-2.6zM581.35 166.05h2.6v2.6h-2.6zM582.81 164.95h2.6v2.6h-2.6zM580.11 169.03h2.6v2.6h-2.6zM581.7 167.78h2.6v2.6h-2.6zM581.51 168.73h2.6v2.6h-2.6zM583.72 166.71h2.6v2.6h-2.6zM583.41 167.8h2.6v2.6h-2.6zM585.3 166.18h2.6v2.6h-2.6zM583.21 169.5h2.6v2.6h-2.6zM583.41 169.96h2.6v2.6h-2.6zM586.43 166.93h2.6v2.6h-2.6zM585.05 169.37h2.6v2.6h-2.6zM584.76 170.45h2.6v2.6h-2.6zM586.63 167.53h2.6v2.6h-2.6zM587.1 167.6h2.6v2.6h-2.6zM587.13 168.83h2.6v2.6h-2.6zM587.33 169.61h2.6v2.6h-2.6zM588.17 168.68h2.6v2.6h-2.6zM587.84 170.86h2.6v2.6h-2.6zM588.16 171.33h2.6v2.6h-2.6zM588.38 172.03h2.6v2.6h-2.6zM588.78 172.29h2.6v2.6h-2.6zM588.79 173.58h2.6v2.6h-2.6zM589.4 173.27h2.6v2.6h-2.6zM591.14 169.95h2.6v2.6h-2.6zM591.15 171.25h2.6v2.6h-2.6zM591.87 170.63h2.6v2.6h-2.6zM592.31 170.77h2.6v2.6h-2.6zM592.22 172.33h2.6v2.6h-2.6zM592.6 172.62h2.6v2.6h-2.6zM592.78 173.46h2.6v2.6h-2.6zM594.31 170.71h2.6v2.6h-2.6zM595.01 171.61h2.6v2.6h-2.6zM594.29 173.35h2.6v2.6h-2.6zM594.82 173.41h2.6v2.6h-2.6zM595.3 173.56h2.6v2.6h-2.6zM595.45 174.13h2.6v2.6h-2.6zM596.44 173.57h2.6v2.6h-2.6zM595.51 175.61h2.6v2.6h-2.6zM596.19 175.47h2.6v2.6h-2.6zM596.96 175.21h2.6v2.6h-2.6zM597.86 174.79h2.6v2.6h-2.6zM597.78 175.66h2.6v2.6h-2.6zM599.79 173.74h2.6v2.6h-2.6zM599.25 175.25h2.6v2.6h-2.6zM598.71 176.75h2.6v2.6h-2.6zM600.46 175.17h2.6v2.6h-2.6zM599.31 177.5h2.6v2.6h-2.6zM599.73 177.71h2.6v2.6h-2.6zM601.47 176.16h2.6v2.6h-2.6zM600.83 177.79h2.6v2.6h-2.6zM601.26 177.99h2.6v2.6h-2.6zM600.94 179.2h2.6v2.6h-2.6zM601.18 179.66h2.6v2.6h-2.6zM602.13 179.16h2.6v2.6h-2.6zM603.25 178.49h2.6v2.6h-2.6zM602.94 179.6h2.6v2.6h-2.6zM603.22 179.97h2.6v2.6h-2.6zM602.82 181.19h2.6v2.6h-2.6zM603.58 180.96h2.6v2.6h-2.6zM604.89 180.05h2.6v2.6h-2.6zM605.83 179.6h2.6v2.6h-2.6zM605.26 181.03h2.6v2.6h-2.6zM605.96 180.88h2.6v2.6h-2.6zM606.66 180.73h2.6v2.6h-2.6zM606.08 182.17h2.6v2.6h-2.6zM606.78 182.02h2.6v2.6h-2.6zM606.57 183h2.6v2.6h-2.6zM606.53 183.77h2.6v2.6h-2.6zM607.76 182.96h2.6v2.6h-2.6zM605.85 186.06h2.6v2.6h-2.6zM608.38 183.63h2.6v2.6h-2.6zM607.4 185.58h2.6v2.6h-2.6zM608.67 184.71h2.6v2.6h-2.6zM608.09 186.16h2.6v2.6h-2.6zM611.37 182.8h2.6v2.6h-2.6zM610.54 184.54h2.6v2.6h-2.6zM609.96 185.99h2.6v2.6h-2.6zM609.98 186.69h2.6v2.6h-2.6zM609.01 188.61h2.6v2.6h-2.6zM610.94 186.93h2.6v2.6h-2.6zM610.39 188.33h2.6v2.6h-2.6zM611.23 188.01h2.6v2.6h-2.6zM611.36 188.47h2.6v2.6h-2.6zM612.15 188.28h2.6v2.6h-2.6zM613.16 187.84h2.6v2.6h-2.6zM612.85 188.9h2.6v2.6h-2.6zM614.77 187.42h2.6v2.6h-2.6zM612.89 190.28h2.6v2.6h-2.6zM615.42 188.1h2.6v2.6h-2.6zM614.52 189.84h2.6v2.6h-2.6zM613.14 192.13h2.6v2.6h-2.6zM615.69 189.93h2.6v2.6h-2.6zM615.8 190.51h2.6v2.6h-2.6zM615.02 192.11h2.6v2.6h-2.6zM616.5 191.13h2.6v2.6h-2.6zM617.68 190.5h2.6v2.6h-2.6zM616.98 192.01h2.6v2.6h-2.6zM617.01 192.69h2.6v2.6h-2.6zM617.23 193.14h2.6v2.6h-2.6zM619.05 191.78h2.6v2.6h-2.6zM616.91 194.93h2.6v2.6h-2.6zM617.34 195.15h2.6v2.6h-2.6zM619.33 193.59h2.6v2.6h-2.6zM619.43 194.19h2.6v2.6h-2.6zM620.47 193.71h2.6v2.6h-2.6zM618.83 195.92h2.6v2.6h-2.6zM621.49 194.13h2.6v2.6h-2.6zM620.26 195.86h2.6v2.6h-2.6zM621.86 195.04h2.6v2.6h-2.6zM622.4 195.17h2.6v2.6h-2.6zM621.14 196.93h2.6v2.6h-2.6zM620.76 197.88h2.6v2.6h-2.6zM622.56 196.88h2.6v2.6h-2.6zM623.61 196.55h2.6v2.6h-2.6zM622.26 198.38h2.6v2.6h-2.6zM623.53 197.86h2.6v2.6h-2.6zM623.44 198.56h2.6v2.6h-2.6zM622.39 200.12h2.6v2.6h-2.6zM623.14 200.07h2.6v2.6h-2.6zM625.28 198.75h2.6v2.6h-2.6zM622.78 201.62h2.6v2.6h-2.6zM625.31 199.96h2.6v2.6h-2.6zM624.75 201.08h2.6v2.6h-2.6zM626.65 199.98h2.6v2.6h-2.6zM626.29 200.93h2.6v2.6h-2.6zM628.5 199.56h2.6v2.6h-2.6zM624.87 203.45h2.6v2.6h-2.6zM625.64 203.37h2.6v2.6h-2.6zM628.82 201.12h2.6v2.6h-2.6zM629.45 201.17h2.6v2.6h-2.6zM629.89 201.39h2.6v2.6h-2.6zM627.08 204.54h2.6v2.6h-2.6zM629.12 203.16h2.6v2.6h-2.6zM629.12 203.91h2.6v2.6h-2.6zM629.71 203.89h2.6v2.6h-2.6zM629.9 204.4h2.6v2.6h-2.6zM631.15 203.54h2.6v2.6h-2.6zM630.5 205.14h2.6v2.6h-2.6zM632.2 203.69h2.6v2.6h-2.6zM631.31 205.59h2.6v2.6h-2.6zM631.33 206.32h2.6v2.6h-2.6zM631.54 206.79h2.6v2.6h-2.6zM632.55 206.24h2.6v2.6h-2.6zM633.53 205.73h2.6v2.6h-2.6zM632.92 207.27h2.6v2.6h-2.6zM633.87 206.79h2.6v2.6h-2.6zM632.35 209.5h2.6v2.6h-2.6zM633.45 208.84h2.6v2.6h-2.6zM634.62 208.07h2.6v2.6h-2.6zM635.31 207.93h2.6v2.6h-2.6zM635.89 207.94h2.6v2.6h-2.6zM636.47 207.94h2.6v2.6h-2.6zM636.3 208.92h2.6v2.6h-2.6zM636.07 209.97h2.6v2.6h-2.6zM636.3 210.56h2.6v2.6h-2.6zM636.65 210.87h2.6v2.6h-2.6zM635.92 212.94h2.6v2.6h-2.6zM638.44 209.73h2.6v2.6h-2.6zM638.27 210.89h2.6v2.6h-2.6zM637.11 213.67h2.6v2.6h-2.6zM640.54 208.97h2.6v2.6h-2.6zM639.88 210.93h2.6v2.6h-2.6zM639.73 212.06h2.6v2.6h-2.6zM640.14 212.28h2.6v2.6h-2.6zM640.33 212.85h2.6v2.6h-2.6zM641.24 212.27h2.6v2.6h-2.6zM641.16 213.28h2.6v2.6h-2.6zM641.8 213.12h2.6v2.6h-2.6zM641.63 214.29h2.6v2.6h-2.6zM644.11 211.12h2.6v2.6h-2.6zM643.72 212.65h2.6v2.6h-2.6zM643.42 214.03h2.6v2.6h-2.6zM644.62 212.95h2.6v2.6h-2.6zM645.03 213.18h2.6v2.6h-2.6zM644.11 215.56h2.6v2.6h-2.6zM645.69 214.31h2.6v2.6h-2.6zM644.65 216h2.6v2.6h-2.6zM644.85 216.44h2.6v2.6h-2.6zM645.64 216.31h2.6v2.6h-2.6zM645.75 216.85h2.6v2.6h-2.6zM646.73 216.53h2.6v2.6h-2.6zM648.45 215.48h2.6v2.6h-2.6zM647.3 217.26h2.6v2.6h-2.6zM647.11 218.1h2.6v2.6h-2.6zM648.48 217.39h2.6v2.6h-2.6zM648.35 218.18h2.6v2.6h-2.6zM647.76 219.4h2.6v2.6h-2.6zM649.83 218.01h2.6v2.6h-2.6zM648.53 219.94h2.6v2.6h-2.6zM647.55 221.56h2.6v2.6h-2.6zM650.45 219.34h2.6v2.6h-2.6zM650.03 220.4h2.6v2.6h-2.6zM650.67 220.42h2.6v2.6h-2.6zM649.19 222.53h2.6v2.6h-2.6zM650.82 221.57h2.6v2.6h-2.6zM650.52 222.51h2.6v2.6h-2.6zM652.54 221.16h2.6v2.6h-2.6zM652.15 222.2h2.6v2.6h-2.6zM652.46 222.53h2.6v2.6h-2.6zM654.67 221h2.6v2.6h-2.6zM426.9 32.4h3v10h-3z" fill="#0909aa"/>
<path d="M403.3 18.2H676.3V246.8" stroke="#555" stroke-width="1" fill="none"/>
<path d="M403.3 18.2V246.8H676.3" stroke="#111" stroke-width="1.1" fill="none"/>
<path d="M398.9 246.8h4.4M400.9 240.45h2.4M400.9 234.1h2.4M400.9 227.75h2.4M400.9 221.4h2.4M400.9 215.05h2.4M398.9 208.7h4.4M400.9 202.35h2.4M400.9 196h2.4M400.9 189.65h2.4M400.9 183.3h2.4M400.9 176.95h2.4M398.9 170.6h4.4M400.9 164.25h2.4M400.9 157.9h2.4M400.9 151.55h2.4M400.9 145.2h2.4M400.9 138.85h2.4M398.9 132.5h4.4M400.9 126.15h2.4M400.9 119.8h2.4M400.9 113.45h2.4M400.9 107.1h2.4M400.9 100.75h2.4M398.9 94.4h4.4M400.9 88.05h2.4M400.9 81.7h2.4M400.9 75.35h2.4M400.9 69h2.4M400.9 62.65h2.4M398.9 56.3h4.4M400.9 49.95h2.4M400.9 43.6h2.4M400.9 37.25h2.4M400.9 30.9h2.4M400.9 24.55h2.4M398.9 18.2h4.4M408.33 246.8v2.4M414.95 246.8v2.4M421.58 246.8v2.4M428.2 246.8v4.4M434.82 246.8v2.4M441.45 246.8v2.4M448.07 246.8v2.4M454.69 246.8v2.4M461.32 246.8v2.4M467.94 246.8v4.4M474.56 246.8v2.4M481.19 246.8v2.4M487.81 246.8v2.4M494.43 246.8v2.4M501.06 246.8v2.4M507.68 246.8v4.4M514.3 246.8v2.4M520.93 246.8v2.4M527.55 246.8v2.4M534.17 246.8v2.4M540.8 246.8v2.4M547.42 246.8v4.4M554.04 246.8v2.4M560.67 246.8v2.4M567.29 246.8v2.4M573.91 246.8v2.4M580.54 246.8v2.4M587.16 246.8v4.4M593.78 246.8v2.4M600.41 246.8v2.4M607.03 246.8v2.4M613.65 246.8v2.4M620.28 246.8v2.4M626.9 246.8v4.4M633.52 246.8v2.4M640.15 246.8v2.4M646.77 246.8v2.4M653.39 246.8v2.4M660.02 246.8v2.4M666.64 246.8v4.4M673.26 246.8v2.4" stroke="#111" stroke-width="0.9"/>
<text x="396.4" y="249.8" font-family="'Liberation Sans', sans-serif" font-size="8.5" fill="#333" text-anchor="end">-6</text>
<text x="396.4" y="211.7" font-family="'Liberation Sans', sans-serif" font-size="8.5" fill="#333" text-anchor="end">-4</text>
<text x="396.4" y="173.6" font-family="'Liberation Sans', sans-serif" font-size="8.5" fill="#333" text-anchor="end">-2</text>
<text x="396.4" y="135.5" font-family="'Liberation Sans', sans-serif" font-size="8.5" fill="#333" text-anchor="end">0</text>
<text x="396.4" y="97.4" font-family="'Liberation Sans', sans-serif" font-size="8.5" fill="#333" text-anchor="end">2</text>
<text x="396.4" y="59.3" font-family="'Liberation Sans', sans-serif" font-size="8.5" fill="#333" text-anchor="end">4</text>
<text x="396.4" y="21.2" font-family="'Liberation Sans', sans-serif" font-size="8.5" fill="#333" text-anchor="end">6</text>
<text x="428.2" y="261.8" font-family="'Liberation Sans', sans-serif" font-size="8.5" fill="#333" text-anchor="middle">0</text>
<text x="467.94" y="261.8" font-family="'Liberation Sans', sans-serif" font-size="8.5" fill="#333" text-anchor="middle">40</text>
<text x="507.68" y="261.8" font-family="'Liberation Sans', sans-serif" font-size="8.5" fill="#333" text-anchor="middle">80</text>
<text x="547.42" y="261.8" font-family="'Liberation Sans', sans-serif" font-size="8.5" fill="#333" text-anchor="middle">120</text>
<text x="587.16" y="261.8" font-family="'Liberation Sans', sans-serif" font-size="8.5" fill="#333" text-anchor="middle">160</text>
<text x="626.9" y="261.8" font-family="'Liberation Sans', sans-serif" font-size="8.5" fill="#333" text-anchor="middle">200</text>
<text x="666.64" y="261.8" font-family="'Liberation Sans', sans-serif" font-size="8.5" fill="#333" text-anchor="middle">240</text>
<rect x="608.5" y="32.3" width="54" height="14.2" fill="#fff" stroke="#555" stroke-width="0.8"/>
<circle cx="622.3" cy="39.6" r="1.6" fill="#0a0a9c"/>
<text x="637.4" y="43.2" font-family="'Liberation Sans', sans-serif" font-size="10" fill="#222" textLength="23" lengthAdjust="spacingAndGlyphs">Edge</text>
<path d="M480.1 76.4V183.7M536 123.5V185.6M480.1 76.4H561M536 124.1H565.7" stroke="#222" stroke-width="1.2" fill="none"/>
<path d="M553.4 100L553.4 81" stroke="#111" stroke-width="1.2"/><path d="M553.4 76.9L557 81.5L549.8 81.5z" fill="#111"/>
<path d="M553.4 100L553.4 119.5" stroke="#111" stroke-width="1.2"/><path d="M553.4 123.6L549.8 119L557 119z" fill="#111"/>
<path d="M508 176L486.1 176" stroke="#111" stroke-width="1.3"/><path d="M480.6 176L486.6 172.6L486.6 179.4z" fill="#111"/>
<path d="M508 176L530 176" stroke="#111" stroke-width="1.3"/><path d="M535.5 176L529.5 179.4L529.5 172.6z" fill="#111"/>
<text x="559.8" y="104" font-family="'Liberation Serif', serif" font-size="28" fill="#111" textLength="15" lengthAdjust="spacingAndGlyphs">∑</text>
<text x="577.2" y="101.4" font-family="'Liberation Serif', serif" font-size="14" fill="#222" font-style="italic">b</text>
<text x="584.9" y="105.5" font-family="'Liberation Serif', serif" font-size="8" fill="#222" font-style="italic">e</text>
<text x="594" y="101" font-family="'Liberation Serif', serif" font-size="13.5" fill="#333" textLength="47" lengthAdjust="spacingAndGlyphs">= 2.48 Å</text>
<text x="493" y="195.2" font-family="'Liberation Serif', serif" font-size="14" fill="#222" font-style="italic">s</text>
<text x="504" y="195.2" font-family="'Liberation Serif', serif" font-size="13.5" fill="#333" textLength="46.5" lengthAdjust="spacingAndGlyphs">= 57.1 Å</text>
<g transform="translate(378,218) rotate(-90)"><text x="0" y="0" font-family="'Liberation Serif', serif" font-size="13.5" fill="#222" textLength="159" lengthAdjust="spacingAndGlyphs">Disregistry Component (Å)</text></g>
<text x="420.9" y="275.4" font-family="'Liberation Serif', serif" font-size="13.5" fill="#222" textLength="85.6" lengthAdjust="spacingAndGlyphs">Position Along</text>
<text x="515.8" y="278.4" font-family="'Liberation Serif', serif" font-size="14" fill="#222" textLength="38" lengthAdjust="spacingAndGlyphs">[1210]</text><path d="M521.26 266.36h5.7" stroke="#222" stroke-width="0.91"/><path d="M535.51 266.36h5.7" stroke="#222" stroke-width="0.91"/><text x="556.7" y="281.4" font-family="'Liberation Serif', serif" font-size="8.5" fill="#222" font-style="italic" textLength="24.8" lengthAdjust="spacingAndGlyphs">Al2O3</text>
<text x="583.7" y="277.3" font-family="'Liberation Serif', serif" font-size="14" fill="#222" textLength="19" lengthAdjust="spacingAndGlyphs">(Å)</text>
<path d="M610.8 273.2L637.7 273.2" stroke="#111" stroke-width="1.3"/><path d="M646.2 273.2L637.2 277.2L637.2 269.2z" fill="#111"/>
<text x="366" y="18.8" font-family="'Liberation Serif', serif" font-size="24" fill="#111">b</text>
</g>
<defs>
<radialGradient id="gT" cx="0.38" cy="0.35" r="0.7"><stop offset="0" stop-color="#b5f7e8"/><stop offset="0.45" stop-color="#45dbbb"/><stop offset="1" stop-color="#239e88"/></radialGradient>
<radialGradient id="gB" cx="0.38" cy="0.35" r="0.7"><stop offset="0" stop-color="#a9dcff"/><stop offset="0.45" stop-color="#2f95de"/><stop offset="1" stop-color="#17609e"/></radialGradient>
<radialGradient id="gR" cx="0.38" cy="0.32" r="0.72"><stop offset="0" stop-color="#f0c0b8"/><stop offset="0.35" stop-color="#a83030"/><stop offset="1" stop-color="#5e0e0e"/></radialGradient>
<clipPath id="cpC"><rect x="25.8" y="327.3" width="653.9" height="388.5"/></clipPath>
<g id="rowB"><circle cx="0.1" cy="0" r="2.4" fill="url(#gT)"/><circle cx="4.8" cy="0" r="2.4" fill="url(#gB)"/><circle cx="14.2" cy="0" r="2.4" fill="url(#gT)"/><circle cx="18.9" cy="0" r="2.4" fill="url(#gB)"/><circle cx="28.3" cy="0" r="2.4" fill="url(#gT)"/><circle cx="33" cy="0" r="2.4" fill="url(#gB)"/><circle cx="42.4" cy="0" r="2.4" fill="url(#gT)"/><circle cx="47.1" cy="0" r="2.4" fill="url(#gB)"/><circle cx="56.5" cy="0" r="2.4" fill="url(#gT)"/><circle cx="61.2" cy="0" r="2.4" fill="url(#gB)"/><circle cx="70.6" cy="0" r="2.4" fill="url(#gT)"/><circle cx="75.3" cy="0" r="2.4" fill="url(#gB)"/><circle cx="84.7" cy="0" r="2.4" fill="url(#gT)"/><circle cx="89.4" cy="0" r="2.4" fill="url(#gB)"/><circle cx="98.8" cy="0" r="2.4" fill="url(#gT)"/><circle cx="103.5" cy="0" r="2.4" fill="url(#gB)"/><circle cx="112.9" cy="0" r="2.4" fill="url(#gT)"/><circle cx="117.6" cy="0" r="2.4" fill="url(#gB)"/><circle cx="127" cy="0" r="2.4" fill="url(#gT)"/><circle cx="131.7" cy="0" r="2.4" fill="url(#gB)"/><circle cx="141.1" cy="0" r="2.4" fill="url(#gT)"/><circle cx="145.8" cy="0" r="2.4" fill="url(#gB)"/><circle cx="155.2" cy="0" r="2.4" fill="url(#gT)"/><circle cx="159.9" cy="0" r="2.4" fill="url(#gB)"/><circle cx="169.3" cy="0" r="2.4" fill="url(#gT)"/><circle cx="174" cy="0" r="2.4" fill="url(#gB)"/><circle cx="183.4" cy="0" r="2.4" fill="url(#gT)"/><circle cx="188.1" cy="0" r="2.4" fill="url(#gB)"/><circle cx="197.5" cy="0" r="2.4" fill="url(#gT)"/><circle cx="202.2" cy="0" r="2.4" fill="url(#gB)"/><circle cx="211.6" cy="0" r="2.4" fill="url(#gT)"/><circle cx="216.3" cy="0" r="2.4" fill="url(#gB)"/><circle cx="225.7" cy="0" r="2.4" fill="url(#gT)"/><circle cx="230.4" cy="0" r="2.4" fill="url(#gB)"/><circle cx="239.8" cy="0" r="2.4" fill="url(#gT)"/><circle cx="244.5" cy="0" r="2.4" fill="url(#gB)"/><circle cx="253.9" cy="0" r="2.4" fill="url(#gT)"/><circle cx="258.6" cy="0" r="2.4" fill="url(#gB)"/><circle cx="268" cy="0" r="2.4" fill="url(#gT)"/><circle cx="272.7" cy="0" r="2.4" fill="url(#gB)"/><circle cx="282.1" cy="0" r="2.4" fill="url(#gT)"/><circle cx="286.8" cy="0" r="2.4" fill="url(#gB)"/><circle cx="296.2" cy="0" r="2.4" fill="url(#gT)"/><circle cx="300.9" cy="0" r="2.4" fill="url(#gB)"/><circle cx="310.3" cy="0" r="2.4" fill="url(#gT)"/><circle cx="315" cy="0" r="2.4" fill="url(#gB)"/><circle cx="324.4" cy="0" r="2.4" fill="url(#gT)"/><circle cx="329.1" cy="0" r="2.4" fill="url(#gB)"/><circle cx="338.5" cy="0" r="2.4" fill="url(#gT)"/><circle cx="343.2" cy="0" r="2.4" fill="url(#gB)"/><circle cx="352.6" cy="0" r="2.4" fill="url(#gT)"/><circle cx="357.3" cy="0" r="2.4" fill="url(#gB)"/><circle cx="366.7" cy="0" r="2.4" fill="url(#gT)"/><circle cx="371.4" cy="0" r="2.4" fill="url(#gB)"/><circle cx="380.8" cy="0" r="2.4" fill="url(#gT)"/><circle cx="385.5" cy="0" r="2.4" fill="url(#gB)"/><circle cx="394.9" cy="0" r="2.4" fill="url(#gT)"/><circle cx="399.6" cy="0" r="2.4" fill="url(#gB)"/><circle cx="409" cy="0" r="2.4" fill="url(#gT)"/><circle cx="413.7" cy="0" r="2.4" fill="url(#gB)"/><circle cx="423.1" cy="0" r="2.4" fill="url(#gT)"/><circle cx="427.8" cy="0" r="2.4" fill="url(#gB)"/><circle cx="437.2" cy="0" r="2.4" fill="url(#gT)"/><circle cx="441.9" cy="0" r="2.4" fill="url(#gB)"/><circle cx="451.3" cy="0" r="2.4" fill="url(#gT)"/><circle cx="456" cy="0" r="2.4" fill="url(#gB)"/><circle cx="465.4" cy="0" r="2.4" fill="url(#gT)"/><circle cx="470.1" cy="0" r="2.4" fill="url(#gB)"/><circle cx="479.5" cy="0" r="2.4" fill="url(#gT)"/><circle cx="484.2" cy="0" r="2.4" fill="url(#gB)"/><circle cx="493.6" cy="0" r="2.4" fill="url(#gT)"/><circle cx="498.3" cy="0" r="2.4" fill="url(#gB)"/><circle cx="507.7" cy="0" r="2.4" fill="url(#gT)"/><circle cx="512.4" cy="0" r="2.4" fill="url(#gB)"/><circle cx="521.8" cy="0" r="2.4" fill="url(#gT)"/><circle cx="526.5" cy="0" r="2.4" fill="url(#gB)"/><circle cx="535.9" cy="0" r="2.4" fill="url(#gT)"/><circle cx="540.6" cy="0" r="2.4" fill="url(#gB)"/><circle cx="550" cy="0" r="2.4" fill="url(#gT)"/><circle cx="554.7" cy="0" r="2.4" fill="url(#gB)"/><circle cx="564.1" cy="0" r="2.4" fill="url(#gT)"/><circle cx="568.8" cy="0" r="2.4" fill="url(#gB)"/><circle cx="578.2" cy="0" r="2.4" fill="url(#gT)"/><circle cx="582.9" cy="0" r="2.4" fill="url(#gB)"/><circle cx="592.3" cy="0" r="2.4" fill="url(#gT)"/><circle cx="597" cy="0" r="2.4" fill="url(#gB)"/><circle cx="606.4" cy="0" r="2.4" fill="url(#gT)"/><circle cx="611.1" cy="0" r="2.4" fill="url(#gB)"/><circle cx="620.5" cy="0" r="2.4" fill="url(#gT)"/><circle cx="625.2" cy="0" r="2.4" fill="url(#gB)"/><circle cx="634.6" cy="0" r="2.4" fill="url(#gT)"/><circle cx="639.3" cy="0" r="2.4" fill="url(#gB)"/><circle cx="648.7" cy="0" r="2.4" fill="url(#gT)"/><circle cx="653.4" cy="0" r="2.4" fill="url(#gB)"/><circle cx="662.8" cy="0" r="2.4" fill="url(#gT)"/><circle cx="667.5" cy="0" r="2.4" fill="url(#gB)"/><circle cx="676.9" cy="0" r="2.4" fill="url(#gT)"/><circle cx="681.6" cy="0" r="2.4" fill="url(#gB)"/><circle cx="691" cy="0" r="2.4" fill="url(#gT)"/><circle cx="695.7" cy="0" r="2.4" fill="url(#gB)"/><circle cx="705.1" cy="0" r="2.4" fill="url(#gT)"/><circle cx="709.8" cy="0" r="2.4" fill="url(#gB)"/></g>
<g id="rowR"><circle cx="-2.86" cy="0" r="2.5" fill="url(#gR)"/><circle cx="10.65" cy="0" r="2.5" fill="url(#gR)"/><circle cx="24.16" cy="0" r="2.5" fill="url(#gR)"/><circle cx="37.68" cy="0" r="2.5" fill="url(#gR)"/><circle cx="51.19" cy="0" r="2.5" fill="url(#gR)"/><circle cx="64.7" cy="0" r="2.5" fill="url(#gR)"/><circle cx="78.22" cy="0" r="2.5" fill="url(#gR)"/><circle cx="91.73" cy="0" r="2.5" fill="url(#gR)"/><circle cx="105.24" cy="0" r="2.5" fill="url(#gR)"/><circle cx="118.76" cy="0" r="2.5" fill="url(#gR)"/><circle cx="132.27" cy="0" r="2.5" fill="url(#gR)"/><circle cx="145.78" cy="0" r="2.5" fill="url(#gR)"/><circle cx="159.3" cy="0" r="2.5" fill="url(#gR)"/><circle cx="172.81" cy="0" r="2.5" fill="url(#gR)"/><circle cx="186.33" cy="0" r="2.5" fill="url(#gR)"/><circle cx="199.84" cy="0" r="2.5" fill="url(#gR)"/><circle cx="213.35" cy="0" r="2.5" fill="url(#gR)"/><circle cx="226.87" cy="0" r="2.5" fill="url(#gR)"/><circle cx="240.38" cy="0" r="2.5" fill="url(#gR)"/><circle cx="253.89" cy="0" r="2.5" fill="url(#gR)"/><circle cx="267.41" cy="0" r="2.5" fill="url(#gR)"/><circle cx="280.92" cy="0" r="2.5" fill="url(#gR)"/><circle cx="294.43" cy="0" r="2.5" fill="url(#gR)"/><circle cx="307.95" cy="0" r="2.5" fill="url(#gR)"/><circle cx="321.46" cy="0" r="2.5" fill="url(#gR)"/><circle cx="334.97" cy="0" r="2.5" fill="url(#gR)"/><circle cx="348.49" cy="0" r="2.5" fill="url(#gR)"/><circle cx="362" cy="0" r="2.5" fill="url(#gR)"/><circle cx="375.51" cy="0" r="2.5" fill="url(#gR)"/><circle cx="389.03" cy="0" r="2.5" fill="url(#gR)"/><circle cx="402.54" cy="0" r="2.5" fill="url(#gR)"/><circle cx="416.05" cy="0" r="2.5" fill="url(#gR)"/><circle cx="429.57" cy="0" r="2.5" fill="url(#gR)"/><circle cx="443.08" cy="0" r="2.5" fill="url(#gR)"/><circle cx="456.59" cy="0" r="2.5" fill="url(#gR)"/><circle cx="470.11" cy="0" r="2.5" fill="url(#gR)"/><circle cx="483.62" cy="0" r="2.5" fill="url(#gR)"/><circle cx="497.13" cy="0" r="2.5" fill="url(#gR)"/><circle cx="510.65" cy="0" r="2.5" fill="url(#gR)"/><circle cx="524.16" cy="0" r="2.5" fill="url(#gR)"/><circle cx="537.67" cy="0" r="2.5" fill="url(#gR)"/><circle cx="551.19" cy="0" r="2.5" fill="url(#gR)"/><circle cx="564.7" cy="0" r="2.5" fill="url(#gR)"/><circle cx="578.22" cy="0" r="2.5" fill="url(#gR)"/><circle cx="591.73" cy="0" r="2.5" fill="url(#gR)"/><circle cx="605.24" cy="0" r="2.5" fill="url(#gR)"/><circle cx="618.76" cy="0" r="2.5" fill="url(#gR)"/><circle cx="632.27" cy="0" r="2.5" fill="url(#gR)"/><circle cx="645.78" cy="0" r="2.5" fill="url(#gR)"/><circle cx="659.3" cy="0" r="2.5" fill="url(#gR)"/><circle cx="672.81" cy="0" r="2.5" fill="url(#gR)"/><circle cx="686.32" cy="0" r="2.5" fill="url(#gR)"/><circle cx="699.84" cy="0" r="2.5" fill="url(#gR)"/></g>
</defs>
<g clip-path="url(#cpC)">
<rect x="28.4" y="330.2" width="651.3" height="384.1" fill="#fff"/>
<use href="#rowR" x="0" y="322.69"/>
<use href="#rowR" x="0" y="330.65"/>
<use href="#rowR" x="6.76" y="334.62"/>
<use href="#rowR" x="6.76" y="342.58"/>
<use href="#rowR" x="0" y="346.55"/>
<use href="#rowR" x="0" y="354.51"/>
<use href="#rowR" x="6.76" y="358.49"/>
<use href="#rowR" x="6.76" y="366.44"/>
<use href="#rowR" x="0" y="370.42"/>
<use href="#rowR" x="0" y="378.37"/>
<use href="#rowR" x="6.76" y="382.35"/>
<use href="#rowR" x="6.76" y="390.31"/>
<use href="#rowR" x="0" y="394.28"/>
<use href="#rowR" x="0" y="402.24"/>
<use href="#rowR" x="6.76" y="406.22"/>
<use href="#rowR" x="6.76" y="414.17"/>
<use href="#rowR" x="0" y="418.15"/>
<use href="#rowR" x="0" y="426.1"/>
<use href="#rowR" x="6.76" y="430.08"/>
<use href="#rowR" x="6.76" y="438.03"/>
<use href="#rowR" x="0" y="442.01"/>
<use href="#rowR" x="0" y="449.97"/>
<use href="#rowR" x="6.76" y="453.94"/>
<use href="#rowR" x="6.76" y="461.9"/>
<use href="#rowR" x="0" y="465.88"/>
<use href="#rowR" x="0" y="473.83"/>
<use href="#rowR" x="6.76" y="477.81"/>
<use href="#rowR" x="6.76" y="485.76"/>
<use href="#rowR" x="0" y="489.74"/>
<use href="#rowR" x="0" y="497.69"/>
<use href="#rowR" x="6.76" y="501.67"/>
<use href="#rowR" x="6.76" y="509.63"/>
<use href="#rowR" x="0" y="513.6"/>
<use href="#rowR" x="0" y="521.56"/>
<use href="#rowR" x="6.76" y="525.54"/>
<use href="#rowR" x="6.76" y="533.49"/>
<use href="#rowR" x="0" y="537.47"/>
<use href="#rowR" x="0" y="545.42"/>
<use href="#rowR" x="6.76" y="549.4"/>
<use href="#rowR" x="6.76" y="557.35"/>
<use href="#rowR" x="0" y="561.33"/>
<use href="#rowR" x="0" y="569.29"/>
<use href="#rowR" x="6.76" y="573.26"/>
<use href="#rowR" x="6.76" y="581.22"/>
<use href="#rowR" x="0" y="585.2"/>
<use href="#rowR" x="0" y="593.15"/>
<use href="#rowR" x="6.76" y="597.13"/>
<use href="#rowR" x="6.76" y="605.08"/>
<use href="#rowR" x="0" y="609.06"/>
<use href="#rowR" x="0" y="617.02"/>
<use href="#rowR" x="6.76" y="620.99"/>
<use href="#rowR" x="6.76" y="628.95"/>
<use href="#rowR" x="0" y="632.92"/>
<use href="#rowR" x="0" y="640.88"/>
<use href="#rowR" x="6.76" y="644.86"/>
<use href="#rowR" x="6.76" y="652.81"/>
<use href="#rowR" x="0" y="656.79"/>
<use href="#rowR" x="0" y="664.74"/>
<use href="#rowR" x="6.76" y="668.72"/>
<use href="#rowR" x="6.76" y="676.68"/>
<use href="#rowR" x="0" y="680.65"/>
<use href="#rowR" x="0" y="688.61"/>
<use href="#rowR" x="6.76" y="692.59"/>
<use href="#rowR" x="6.76" y="700.54"/>
<use href="#rowR" x="0" y="704.52"/>
<use href="#rowR" x="0" y="712.47"/>
<use href="#rowR" x="6.76" y="716.45"/>
<use href="#rowB" x="0" y="322"/>
<use href="#rowB" x="7.05" y="326.15"/>
<use href="#rowB" x="0" y="330.3"/>
<use href="#rowB" x="7.05" y="334.45"/>
<use href="#rowB" x="0" y="338.6"/>
<use href="#rowB" x="7.05" y="342.75"/>
<use href="#rowB" x="0" y="346.9"/>
<use href="#rowB" x="7.05" y="351.05"/>
<use href="#rowB" x="0" y="355.2"/>
<use href="#rowB" x="7.05" y="359.35"/>
<use href="#rowB" x="0" y="363.5"/>
<use href="#rowB" x="7.05" y="367.65"/>
<use href="#rowB" x="0" y="371.8"/>
<use href="#rowB" x="7.05" y="375.95"/>
<use href="#rowB" x="0" y="380.1"/>
<use href="#rowB" x="7.05" y="384.25"/>
<use href="#rowB" x="0" y="388.4"/>
<use href="#rowB" x="7.05" y="392.55"/>
<use href="#rowB" x="0" y="396.7"/>
<use href="#rowB" x="7.05" y="400.85"/>
<use href="#rowB" x="0" y="405"/>
<use href="#rowB" x="7.05" y="409.15"/>
<use href="#rowB" x="0" y="413.3"/>
<use href="#rowB" x="7.05" y="417.45"/>
<use href="#rowB" x="0" y="421.6"/>
<use href="#rowB" x="7.05" y="425.75"/>
<use href="#rowB" x="0" y="429.9"/>
<use href="#rowB" x="7.05" y="434.05"/>
<use href="#rowB" x="0" y="438.2"/>
<use href="#rowB" x="7.05" y="442.35"/>
<use href="#rowB" x="0" y="446.5"/>
<use href="#rowB" x="7.05" y="450.65"/>
<use href="#rowB" x="0" y="454.8"/>
<use href="#rowB" x="7.05" y="458.95"/>
<use href="#rowB" x="0" y="463.1"/>
<use href="#rowB" x="7.05" y="467.25"/>
<use href="#rowB" x="0" y="471.4"/>
<use href="#rowB" x="7.05" y="475.55"/>
<use href="#rowB" x="0" y="479.7"/>
<use href="#rowB" x="7.05" y="483.85"/>
<use href="#rowB" x="0" y="488"/>
<use href="#rowB" x="7.05" y="492.15"/>
<use href="#rowB" x="0" y="496.3"/>
<use href="#rowB" x="7.05" y="500.45"/>
<use href="#rowB" x="0" y="504.6"/>
<use href="#rowB" x="7.05" y="508.75"/>
<use href="#rowB" x="0" y="512.9"/>
<use href="#rowB" x="7.05" y="517.05"/>
<use href="#rowB" x="0" y="521.2"/>
<use href="#rowB" x="7.05" y="525.35"/>
<use href="#rowB" x="0" y="529.5"/>
<use href="#rowB" x="7.05" y="533.65"/>
<use href="#rowB" x="0" y="537.8"/>
<use href="#rowB" x="7.05" y="541.95"/>
<use href="#rowB" x="0" y="546.1"/>
<use href="#rowB" x="7.05" y="550.25"/>
<use href="#rowB" x="0" y="554.4"/>
<use href="#rowB" x="7.05" y="558.55"/>
<use href="#rowB" x="0" y="562.7"/>
<use href="#rowB" x="7.05" y="566.85"/>
<use href="#rowB" x="0" y="571"/>
<use href="#rowB" x="7.05" y="575.15"/>
<use href="#rowB" x="0" y="579.3"/>
<use href="#rowB" x="7.05" y="583.45"/>
<use href="#rowB" x="0" y="587.6"/>
<use href="#rowB" x="7.05" y="591.75"/>
<use href="#rowB" x="0" y="595.9"/>
<use href="#rowB" x="7.05" y="600.05"/>
<use href="#rowB" x="0" y="604.2"/>
<use href="#rowB" x="7.05" y="608.35"/>
<use href="#rowB" x="0" y="612.5"/>
<use href="#rowB" x="7.05" y="616.65"/>
<use href="#rowB" x="0" y="620.8"/>
<use href="#rowB" x="7.05" y="624.95"/>
<use href="#rowB" x="0" y="629.1"/>
<use href="#rowB" x="7.05" y="633.25"/>
<use href="#rowB" x="0" y="637.4"/>
<use href="#rowB" x="7.05" y="641.55"/>
<use href="#rowB" x="0" y="645.7"/>
<use href="#rowB" x="7.05" y="649.85"/>
<use href="#rowB" x="0" y="654"/>
<use href="#rowB" x="7.05" y="658.15"/>
<use href="#rowB" x="0" y="662.3"/>
<use href="#rowB" x="7.05" y="666.45"/>
<use href="#rowB" x="0" y="670.6"/>
<use href="#rowB" x="7.05" y="674.75"/>
<use href="#rowB" x="0" y="678.9"/>
<use href="#rowB" x="7.05" y="683.05"/>
<use href="#rowB" x="0" y="687.2"/>
<use href="#rowB" x="7.05" y="691.35"/>
<use href="#rowB" x="0" y="695.5"/>
<use href="#rowB" x="7.05" y="699.65"/>
<use href="#rowB" x="0" y="703.8"/>
<use href="#rowB" x="7.05" y="707.95"/>
<use href="#rowB" x="0" y="712.1"/>
<use href="#rowB" x="7.05" y="716.25"/>
</g>
<path d="M280.9 386.4L524.5 529.8L280.9 673.2ZM443.2 386.4L443.2 673.2L199.5 529.8Z" fill="#68c6e8" fill-opacity="0.52" fill-rule="evenodd"/>
<path d="M362 434.2L443.2 482L443.2 577.6L362 625.4L280.9 577.6L280.9 482Z" fill="#ece2c0" fill-opacity="0.56"/>
<path d="M118.5 330.2V714.3M280.9 330.2V714.3M443.2 330.2V714.3M605.8 330.2V714.3M510.17 330.2L679.7 429.97M28.4 439.32L213.83 330.2M185.28 330.2L679.7 621.17M28.4 630.52L538.72 330.2M28.4 429.08L513.06 714.3M210.94 714.3L679.7 438.43M28.4 620.28L188.17 714.3" stroke="#0d0d0d" stroke-width="1.6" fill="none"/>
<rect x="28.4" y="330.2" width="651.3" height="384.1" fill="none" stroke="#222" stroke-width="0.9"/>
<circle cx="362" cy="329.4" r="2.4" fill="url(#gR)"/><circle cx="375.51" cy="329.4" r="2.4" fill="url(#gR)"/><circle cx="389.03" cy="329.4" r="2.4" fill="url(#gR)"/><circle cx="402.54" cy="329.4" r="2.4" fill="url(#gR)"/><circle cx="416.05" cy="329.4" r="2.4" fill="url(#gR)"/><circle cx="429.56" cy="329.4" r="2.4" fill="url(#gR)"/><circle cx="443.08" cy="329.4" r="2.4" fill="url(#gR)"/><circle cx="456.59" cy="329.4" r="2.4" fill="url(#gR)"/><circle cx="470.1" cy="329.4" r="2.4" fill="url(#gR)"/><circle cx="483.62" cy="329.4" r="2.4" fill="url(#gR)"/><circle cx="497.13" cy="329.4" r="2.4" fill="url(#gR)"/><circle cx="510.64" cy="329.4" r="2.4" fill="url(#gR)"/><circle cx="524.16" cy="329.4" r="2.4" fill="url(#gR)"/><circle cx="537.67" cy="329.4" r="2.4" fill="url(#gR)"/><circle cx="551.18" cy="329.4" r="2.4" fill="url(#gR)"/><circle cx="564.69" cy="329.4" r="2.4" fill="url(#gR)"/><circle cx="578.21" cy="329.4" r="2.4" fill="url(#gR)"/><circle cx="591.72" cy="329.4" r="2.4" fill="url(#gR)"/><circle cx="605.23" cy="329.4" r="2.4" fill="url(#gR)"/><circle cx="618.75" cy="329.4" r="2.4" fill="url(#gR)"/><circle cx="632.26" cy="329.4" r="2.4" fill="url(#gR)"/><circle cx="645.77" cy="329.4" r="2.4" fill="url(#gR)"/><circle cx="659.29" cy="329.4" r="2.4" fill="url(#gR)"/><circle cx="672.8" cy="329.4" r="2.4" fill="url(#gR)"/><circle cx="348.49" cy="329.4" r="2.4" fill="url(#gR)"/><circle cx="334.97" cy="329.4" r="2.4" fill="url(#gR)"/><circle cx="321.46" cy="329.4" r="2.4" fill="url(#gR)"/><circle cx="307.95" cy="329.4" r="2.4" fill="url(#gR)"/><circle cx="294.44" cy="329.4" r="2.4" fill="url(#gR)"/><circle cx="280.92" cy="329.4" r="2.4" fill="url(#gR)"/><circle cx="267.41" cy="329.4" r="2.4" fill="url(#gR)"/><circle cx="253.9" cy="329.4" r="2.4" fill="url(#gR)"/><circle cx="240.38" cy="329.4" r="2.4" fill="url(#gR)"/><circle cx="226.87" cy="329.4" r="2.4" fill="url(#gR)"/><circle cx="213.36" cy="329.4" r="2.4" fill="url(#gR)"/><circle cx="199.84" cy="329.4" r="2.4" fill="url(#gR)"/><circle cx="186.33" cy="329.4" r="2.4" fill="url(#gR)"/><circle cx="172.82" cy="329.4" r="2.4" fill="url(#gR)"/><circle cx="159.31" cy="329.4" r="2.4" fill="url(#gR)"/><circle cx="145.79" cy="329.4" r="2.4" fill="url(#gR)"/><circle cx="132.28" cy="329.4" r="2.4" fill="url(#gR)"/><circle cx="118.77" cy="329.4" r="2.4" fill="url(#gR)"/><circle cx="105.25" cy="329.4" r="2.4" fill="url(#gR)"/><circle cx="91.74" cy="329.4" r="2.4" fill="url(#gR)"/><circle cx="78.23" cy="329.4" r="2.4" fill="url(#gR)"/><circle cx="64.71" cy="329.4" r="2.4" fill="url(#gR)"/><circle cx="51.2" cy="329.4" r="2.4" fill="url(#gR)"/><circle cx="37.69" cy="329.4" r="2.4" fill="url(#gR)"/>
<rect x="237" y="400.6" width="42.6" height="17.2" fill="#fff"/>
<text x="243.1" y="409.1" font-family="'Liberation Serif', serif" font-size="6.5" fill="#1a1a1a">1</text>
<path d="M242.5 413.7L249 404.6" stroke="#1a1a1a" stroke-width="0.75"/>
<text x="246.4" y="414.3" font-family="'Liberation Serif', serif" font-size="6.5" fill="#1a1a1a">2</text>
<text x="251" y="413.4" font-family="'Liberation Serif', serif" font-size="11.7" fill="#1a1a1a" textLength="23.6" lengthAdjust="spacingAndGlyphs">[110]</text><path d="M255.25 403.34h4.43" stroke="#1a1a1a" stroke-width="0.76"/>
<rect x="288.3" y="376.4" width="43.6" height="16.8" fill="#b2c6f5" stroke="#2c55e0" stroke-width="1"/>
<text x="294.4" y="384.7" font-family="'Liberation Serif', serif" font-size="6.5" fill="#1c2442">1</text>
<path d="M293.8 389.3L300.3 380.2" stroke="#1c2442" stroke-width="0.75"/>
<text x="297.7" y="389.9" font-family="'Liberation Serif', serif" font-size="6.5" fill="#1c2442">6</text>
<text x="302.3" y="389" font-family="'Liberation Serif', serif" font-size="11.7" fill="#1c2442" textLength="24.6" lengthAdjust="spacingAndGlyphs">[121]</text><path d="M312.33 378.94h4.54" stroke="#1c2442" stroke-width="0.76"/>
<rect x="342.9" y="410.6" width="41.5" height="15.6" fill="#fff"/>
<text x="349" y="418.3" font-family="'Liberation Serif', serif" font-size="6.5" fill="#1a1a1a">1</text>
<path d="M348.4 422.9L354.9 413.8" stroke="#1a1a1a" stroke-width="0.75"/>
<text x="352.3" y="423.5" font-family="'Liberation Serif', serif" font-size="6.5" fill="#1a1a1a">2</text>
<text x="356.9" y="422.6" font-family="'Liberation Serif', serif" font-size="11.7" fill="#1a1a1a" textLength="22.5" lengthAdjust="spacingAndGlyphs">[101]</text><path d="M371.27 412.54h4.16" stroke="#1a1a1a" stroke-width="0.76"/>
<rect x="234.9" y="451.9" width="43.7" height="16.3" fill="#b2c6f5" stroke="#2c55e0" stroke-width="1"/>
<text x="241" y="459.95" font-family="'Liberation Serif', serif" font-size="6.5" fill="#1c2442">1</text>
<path d="M240.4 464.55L246.9 455.45" stroke="#1c2442" stroke-width="0.75"/>
<text x="244.3" y="465.15" font-family="'Liberation Serif', serif" font-size="6.5" fill="#1c2442">6</text>
<text x="248.9" y="464.25" font-family="'Liberation Serif', serif" font-size="11.7" fill="#1c2442" textLength="24.7" lengthAdjust="spacingAndGlyphs">[112]</text><path d="M264.95 454.19h4.64" stroke="#1c2442" stroke-width="0.76"/>
<rect x="340.4" y="445.7" width="43.6" height="16.3" fill="#b2c6f5" stroke="#2c55e0" stroke-width="1"/>
<text x="346.5" y="453.75" font-family="'Liberation Serif', serif" font-size="6.5" fill="#1c2442">1</text>
<path d="M345.9 458.35L352.4 449.25" stroke="#1c2442" stroke-width="0.75"/>
<text x="349.8" y="458.95" font-family="'Liberation Serif', serif" font-size="6.5" fill="#1c2442">6</text>
<text x="354.4" y="458.05" font-family="'Liberation Serif', serif" font-size="11.7" fill="#1c2442" textLength="24.6" lengthAdjust="spacingAndGlyphs">[211]</text><path d="M358.83 447.99h4.62" stroke="#1c2442" stroke-width="0.76"/>
<rect x="289.5" y="471.8" width="43.7" height="16.2" fill="#fff"/>
<text x="295.6" y="479.8" font-family="'Liberation Serif', serif" font-size="6.5" fill="#1a1a1a">1</text>
<path d="M295 484.4L301.5 475.3" stroke="#1a1a1a" stroke-width="0.75"/>
<text x="298.9" y="485" font-family="'Liberation Serif', serif" font-size="6.5" fill="#1a1a1a">2</text>
<text x="303.5" y="484.1" font-family="'Liberation Serif', serif" font-size="11.7" fill="#1a1a1a" textLength="24.7" lengthAdjust="spacingAndGlyphs">[011]</text><path d="M313.74 474.04h4.64" stroke="#1a1a1a" stroke-width="0.76"/>
<path d="M277.6 429.5L285.6 429.5L281.6 437.5Z" fill="#000"/>
<path d="M317.4 409.2L325.6 405.5L324.6 413.6Z" fill="#000"/>
<path d="M314.2 462.9L322.5 464.5L320.4 456.4Z" fill="#000"/>
<path d="M289.5 440.7L269.7 440.7" stroke="#1a48f0" stroke-width="1.7"/><path d="M262.2 440.7L270.2 436.7L270.2 444.7z" fill="#1a48f0"/>
<path d="M313 419.6L323.15 401.35" stroke="#1a48f0" stroke-width="1.7"/><path d="M326.8 394.8L326.41 403.74L319.41 399.85z" fill="#1a48f0"/>
<path d="M319.3 447L331.16 464.31" stroke="#1a48f0" stroke-width="1.7"/><path d="M335.4 470.5L327.58 466.16L334.18 461.64z" fill="#1a48f0"/>
<path d="M280.4 311V330M443 311V330" stroke="#111" stroke-width="1.3"/>
<path d="M361 320L288.7 320" stroke="#111" stroke-width="1.4"/><path d="M281.2 320L289.2 316.2L289.2 323.8z" fill="#111"/>
<path d="M361 320L434.7 320" stroke="#111" stroke-width="1.4"/><path d="M442.2 320L434.2 323.8L434.2 316.2z" fill="#111"/>
<text x="341.8" y="314.8" font-family="'Liberation Serif', serif" font-size="13" fill="#222" textLength="36.4" lengthAdjust="spacingAndGlyphs">57.1 Å</text>
<text x="6.5" y="315.5" font-family="'Liberation Serif', serif" font-size="24" fill="#111">c</text>
<g transform="translate(17.3,501.2) rotate(-90)"><text x="0" y="0" font-family="'Liberation Serif', serif" font-size="17" fill="#222" textLength="46" lengthAdjust="spacingAndGlyphs">[1010]</text><path d="M23.86 -14.62h6.9" stroke="#222" stroke-width="1.1"/><text x="47.3" y="3" font-family="'Liberation Serif', serif" font-size="8" fill="#222" font-style="italic" textLength="18.7" lengthAdjust="spacingAndGlyphs">Al2O3</text><path d="M69.8 -12v12M71.8 -12v12" stroke="#222" stroke-width="0.8"/><text x="75.3" y="0" font-family="'Liberation Serif', serif" font-size="17" fill="#222" textLength="41.2" lengthAdjust="spacingAndGlyphs">[110]</text><path d="M92.39 -14.62h7.74" stroke="#222" stroke-width="1.1"/><text x="118.42" y="3" font-family="'Liberation Serif', serif" font-size="8.5" fill="#222" font-style="italic" textLength="8" lengthAdjust="spacingAndGlyphs">Al</text></g>
<path d="M11.8 362.5L11.8 342.4" stroke="#111" stroke-width="1.4"/><path d="M11.8 335.7L15.6 342.9L8 342.9z" fill="#111"/>
<text x="542.7" y="736.2" font-family="'Liberation Serif', serif" font-size="13" fill="#222" textLength="33.9" lengthAdjust="spacingAndGlyphs">[1210]</text><path d="M547.57 725.02h5.09" stroke="#222" stroke-width="0.84"/><path d="M560.29 725.02h5.09" stroke="#222" stroke-width="0.84"/><text x="578.3" y="738.8" font-family="'Liberation Serif', serif" font-size="8" fill="#222" font-style="italic" textLength="21.9" lengthAdjust="spacingAndGlyphs">Al2O3</text><path d="M603.4 726.7v9.5M605.4 726.7v9.5" stroke="#222" stroke-width="0.8"/><text x="608.8" y="736.2" font-family="'Liberation Serif', serif" font-size="13" fill="#222" textLength="31.2" lengthAdjust="spacingAndGlyphs">[112]</text><path d="M614.41 725.02h5.86" stroke="#222" stroke-width="0.84"/><path d="M621.74 725.02h5.86" stroke="#222" stroke-width="0.84"/><text x="642.14" y="738.8" font-family="'Liberation Serif', serif" font-size="8" fill="#222" font-style="italic" textLength="5.8" lengthAdjust="spacingAndGlyphs">Al</text>
<path d="M651.7 733L673.7 733" stroke="#111" stroke-width="1.3"/><path d="M682.2 733L673.2 737L673.2 729z" fill="#111"/>
<rect x="30.2" y="653.8" width="77.6" height="58.6" fill="#f3f5f7" fill-opacity="0.93"/>
<path d="M31 673.9H107.5M31 692.8H107.5" stroke="#3aa9cf" stroke-width="1.6" stroke-dasharray="3 2"/>
<text x="39.3" y="668.4" font-family="'Liberation Serif', serif" font-size="10" fill="#2b2f7a" textLength="29" lengthAdjust="spacingAndGlyphs">Layer C</text>
<text x="39.3" y="687.2" font-family="'Liberation Serif', serif" font-size="10" fill="#2b2f7a" textLength="29" lengthAdjust="spacingAndGlyphs">Layer B</text>
<text x="39.3" y="706.8" font-family="'Liberation Serif', serif" font-size="10" fill="#2b2f7a" textLength="30.5" lengthAdjust="spacingAndGlyphs">Layer A</text>
<text x="70" y="708.8" font-family="'Liberation Serif', serif" font-size="6.5" fill="#2b2f7a">1</text>
<text x="73.4" y="706.8" font-family="'Liberation Serif', serif" font-size="10" fill="#2b2f7a" textLength="9.4" lengthAdjust="spacingAndGlyphs">+A</text>
<text x="83" y="708.8" font-family="'Liberation Serif', serif" font-size="6.5" fill="#2b2f7a">2</text>
<path d="M84.2 665.2L98.2 665.2" stroke="#111" stroke-width="1.3"/><path d="M104.7 665.2L97.7 668L97.7 662.4z" fill="#111"/>
<path d="M84.2 683.8L98.2 683.8" stroke="#111" stroke-width="1.3"/><path d="M104.7 683.8L97.7 686.6L97.7 681z" fill="#111"/>
<path d="M86.4 703.5L98.9 703.5" stroke="#111" stroke-width="1.3"/><path d="M105.4 703.5L98.4 706.3L98.4 700.7z" fill="#111"/>
<rect x="108" y="653.5" width="298.7" height="59.9" fill="#fff" stroke="#111" stroke-width="1"/>
<clipPath id="cpI"><rect x="108.5" y="654" width="297.7" height="58.9"/></clipPath>
<g clip-path="url(#cpI)">
<circle cx="109.3" cy="662.8" r="6.2" fill="url(#gB2)"/><circle cx="128.37" cy="662.8" r="6.2" fill="url(#gB2)"/><circle cx="147.44" cy="662.8" r="6.2" fill="url(#gB2)"/><circle cx="166.51" cy="662.8" r="6.2" fill="url(#gB2)"/><circle cx="185.58" cy="662.8" r="6.2" fill="url(#gB2)"/><circle cx="204.65" cy="662.8" r="6.2" fill="url(#gB2)"/><circle cx="223.72" cy="662.8" r="6.2" fill="url(#gB2)"/><circle cx="242.79" cy="662.8" r="6.2" fill="url(#gB2)"/><circle cx="261.86" cy="662.8" r="6.2" fill="url(#gB2)"/><circle cx="280.93" cy="662.8" r="6.2" fill="url(#gB2)"/><circle cx="300" cy="662.8" r="6.2" fill="url(#gB2)"/><circle cx="319.07" cy="662.8" r="6.2" fill="url(#gB2)"/><circle cx="338.14" cy="662.8" r="6.2" fill="url(#gB2)"/><circle cx="357.21" cy="662.8" r="6.2" fill="url(#gB2)"/><circle cx="376.28" cy="662.8" r="6.2" fill="url(#gB2)"/><circle cx="395.35" cy="662.8" r="6.2" fill="url(#gB2)"/><circle cx="414.42" cy="662.8" r="6.2" fill="url(#gB2)"/><circle cx="114" cy="681.4" r="6.6" fill="url(#gG2)"/><circle cx="133.1" cy="681.4" r="6.6" fill="url(#gG2)"/><circle cx="152.2" cy="681.4" r="6.6" fill="url(#gG2)"/><circle cx="171.3" cy="681.4" r="6.6" fill="url(#gG2)"/><circle cx="190.4" cy="681.4" r="6.6" fill="url(#gG2)"/><circle cx="209.5" cy="681.4" r="6.6" fill="url(#gG2)"/><circle cx="228.6" cy="681.4" r="6.6" fill="url(#gG2)"/><circle cx="247.7" cy="681.4" r="6.6" fill="url(#gG2)"/><circle cx="266.8" cy="681.4" r="6.6" fill="url(#gG2)"/><circle cx="285.9" cy="681.4" r="6.6" fill="url(#gG2)"/><circle cx="305" cy="681.4" r="6.6" fill="url(#gG2)"/><circle cx="324.1" cy="681.4" r="6.6" fill="url(#gG2)"/><circle cx="343.2" cy="681.4" r="6.6" fill="url(#gG2)"/><circle cx="362.3" cy="681.4" r="6.6" fill="url(#gG2)"/><circle cx="381.4" cy="681.4" r="6.6" fill="url(#gG2)"/><circle cx="400.5" cy="681.4" r="6.6" fill="url(#gG2)"/><circle cx="419.6" cy="681.4" r="6.6" fill="url(#gG2)"/><circle cx="111.2" cy="699.5" r="6.4" fill="url(#gR2)"/><circle cx="112.2" cy="706.5" r="6.4" fill="url(#gR2)"/><circle cx="129.5" cy="699.5" r="6.4" fill="url(#gR2)"/><circle cx="130.5" cy="706.5" r="6.4" fill="url(#gR2)"/><circle cx="147.8" cy="699.5" r="6.4" fill="url(#gR2)"/><circle cx="148.8" cy="706.5" r="6.4" fill="url(#gR2)"/><circle cx="166.1" cy="699.5" r="6.4" fill="url(#gR2)"/><circle cx="167.1" cy="706.5" r="6.4" fill="url(#gR2)"/><circle cx="184.4" cy="699.5" r="6.4" fill="url(#gR2)"/><circle cx="185.4" cy="706.5" r="6.4" fill="url(#gR2)"/><circle cx="202.7" cy="699.5" r="6.4" fill="url(#gR2)"/><circle cx="203.7" cy="706.5" r="6.4" fill="url(#gR2)"/><circle cx="221" cy="699.5" r="6.4" fill="url(#gR2)"/><circle cx="222" cy="706.5" r="6.4" fill="url(#gR2)"/><circle cx="239.3" cy="699.5" r="6.4" fill="url(#gR2)"/><circle cx="240.3" cy="706.5" r="6.4" fill="url(#gR2)"/><circle cx="257.6" cy="699.5" r="6.4" fill="url(#gR2)"/><circle cx="258.6" cy="706.5" r="6.4" fill="url(#gR2)"/><circle cx="275.9" cy="699.5" r="6.4" fill="url(#gR2)"/><circle cx="276.9" cy="706.5" r="6.4" fill="url(#gR2)"/><circle cx="294.2" cy="699.5" r="6.4" fill="url(#gR2)"/><circle cx="295.2" cy="706.5" r="6.4" fill="url(#gR2)"/><circle cx="312.5" cy="699.5" r="6.4" fill="url(#gR2)"/><circle cx="313.5" cy="706.5" r="6.4" fill="url(#gR2)"/><circle cx="330.8" cy="699.5" r="6.4" fill="url(#gR2)"/><circle cx="331.8" cy="706.5" r="6.4" fill="url(#gR2)"/><circle cx="349.1" cy="699.5" r="6.4" fill="url(#gR2)"/><circle cx="350.1" cy="706.5" r="6.4" fill="url(#gR2)"/><circle cx="367.4" cy="699.5" r="6.4" fill="url(#gR2)"/><circle cx="368.4" cy="706.5" r="6.4" fill="url(#gR2)"/><circle cx="385.7" cy="699.5" r="6.4" fill="url(#gR2)"/><circle cx="386.7" cy="706.5" r="6.4" fill="url(#gR2)"/><circle cx="404" cy="699.5" r="6.4" fill="url(#gR2)"/><circle cx="405" cy="706.5" r="6.4" fill="url(#gR2)"/><circle cx="422.3" cy="699.5" r="6.4" fill="url(#gR2)"/><circle cx="423.3" cy="706.5" r="6.4" fill="url(#gR2)"/>
</g>
<defs><radialGradient id="gB2" cx="0.4" cy="0.35" r="0.7"><stop offset="0" stop-color="#a8e4ff"/><stop offset="0.5" stop-color="#2ba4dc"/><stop offset="1" stop-color="#14648c"/></radialGradient>
<radialGradient id="gG2" cx="0.4" cy="0.35" r="0.7"><stop offset="0" stop-color="#b8f5d8"/><stop offset="0.5" stop-color="#36c690"/><stop offset="1" stop-color="#16765a"/></radialGradient>
<radialGradient id="gR2" cx="0.4" cy="0.35" r="0.7"><stop offset="0" stop-color="#ff9a9a"/><stop offset="0.5" stop-color="#dc1414"/><stop offset="1" stop-color="#800000"/></radialGradient>
<linearGradient id="gCB" x1="0" y1="0" x2="0" y2="1"><stop offset="0" stop-color="#800000"/><stop offset="0.2" stop-color="#f00000"/><stop offset="0.4" stop-color="#ff8a00"/><stop offset="0.56" stop-color="#ffff00"/><stop offset="0.66" stop-color="#a0ff50"/><stop offset="0.75" stop-color="#40ff9a"/><stop offset="0.87" stop-color="#00f4ff"/><stop offset="1" stop-color="#00b8f0"/></linearGradient></defs>
<rect x="647" y="620.8" width="10.3" height="82.7" fill="url(#gCB)"/>
<rect x="622" y="617.6" width="23.8" height="16" fill="#fff"/>
<rect x="622" y="690.6" width="23.8" height="16.7" fill="#fff"/>
<text x="625.9" y="630.6" font-family="'Liberation Serif', serif" font-size="9.5" fill="#2b2f7a" textLength="18" lengthAdjust="spacingAndGlyphs">0.9 e</text>
<text x="625.9" y="702.2" font-family="'Liberation Serif', serif" font-size="9.5" fill="#2b2f7a" textLength="18" lengthAdjust="spacingAndGlyphs">0.0 e</text>
</svg></body></html>
